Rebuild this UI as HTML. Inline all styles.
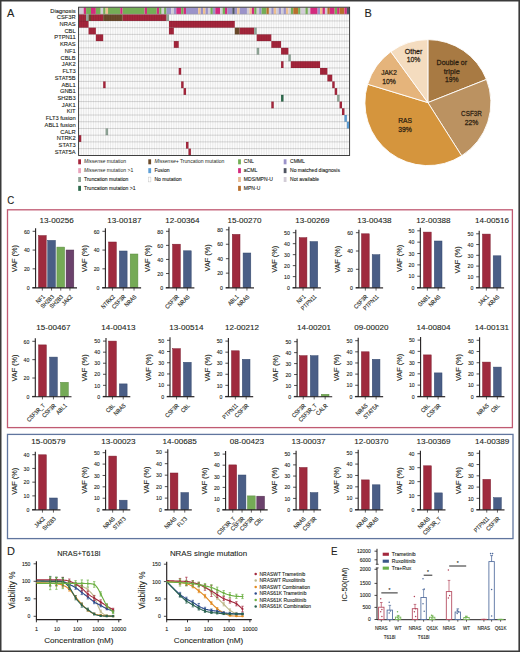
<!DOCTYPE html>
<html><head><meta charset="utf-8"><title>Figure</title>
<style>html,body{margin:0;padding:0;background:#fff;}body{width:520px;height:652px;overflow:hidden;font-family:"Liberation Sans",sans-serif;}svg{display:block;}</style>
</head><body>
<svg width="520" height="652" viewBox="0 0 520 652" font-family='&quot;Liberation Sans&quot;, sans-serif'><rect x="0" y="0" width="520" height="1.5" fill="#3a3a3a"/>
<rect x="0" y="0" width="1.5" height="652" fill="#3a3a3a"/>
<rect x="518.4" y="0" width="1.6" height="652" fill="#3a3a3a"/>
<rect x="0" y="650.5" width="520" height="1.5" fill="#3a3a3a"/>
<text x="7" y="16.8" font-size="11" text-anchor="start" fill="#231f20" stroke="#231f20" stroke-width="0.1">A</text>
<text x="364.6" y="16.9" font-size="11" text-anchor="start" fill="#231f20" stroke="#231f20" stroke-width="0.1">B</text>
<text font-size="11" text-anchor="start" fill="#231f20" transform="translate(7.3 204) scale(0.88 1)" stroke="#231f20" stroke-width="0.11">C</text>
<text font-size="10.8" text-anchor="start" fill="#231f20" transform="translate(7 555) scale(1.02 1)" stroke="#231f20" stroke-width="0.1">D</text>
<text font-size="11.3" text-anchor="start" fill="#231f20" transform="translate(330.9 555.4) scale(0.86 1)" stroke="#231f20" stroke-width="0.12">E</text>
<rect x="78.8" y="7.5" width="270.51" height="147.84" fill="#fbfbfb"/>
<rect x="78.8" y="7.5" width="4.87" height="6.72" fill="#d2ccd6"/>
<rect x="83.67" y="7.5" width="2.44" height="6.72" fill="#d42a7e"/>
<rect x="86.11" y="7.5" width="4.87" height="6.72" fill="#74ae56"/>
<rect x="90.98" y="7.5" width="4.87" height="6.72" fill="#d42a7e"/>
<rect x="95.86" y="7.5" width="4.87" height="6.72" fill="#74ae56"/>
<rect x="100.73" y="7.5" width="2.44" height="6.72" fill="#d2ccd6"/>
<rect x="103.17" y="7.5" width="2.44" height="6.72" fill="#74ae56"/>
<rect x="105.61" y="7.5" width="2.44" height="6.72" fill="#eec08f"/>
<rect x="108.04" y="7.5" width="12.18" height="6.72" fill="#74ae56"/>
<rect x="120.23" y="7.5" width="2.44" height="6.72" fill="#d42a7e"/>
<rect x="122.67" y="7.5" width="21.93" height="6.72" fill="#74ae56"/>
<rect x="144.6" y="7.5" width="2.44" height="6.72" fill="#d42a7e"/>
<rect x="147.04" y="7.5" width="9.75" height="6.72" fill="#74ae56"/>
<rect x="156.78" y="7.5" width="2.44" height="6.72" fill="#d42a7e"/>
<rect x="159.22" y="7.5" width="2.44" height="6.72" fill="#74ae56"/>
<rect x="161.66" y="7.5" width="2.44" height="6.72" fill="#d2ccd6"/>
<rect x="164.09" y="7.5" width="2.44" height="6.72" fill="#74ae56"/>
<rect x="166.53" y="7.5" width="4.87" height="6.72" fill="#9b93c9"/>
<rect x="171.41" y="7.5" width="2.44" height="6.72" fill="#d2ccd6"/>
<rect x="173.84" y="7.5" width="2.44" height="6.72" fill="#9b93c9"/>
<rect x="176.28" y="7.5" width="4.87" height="6.72" fill="#d42a7e"/>
<rect x="181.15" y="7.5" width="2.44" height="6.72" fill="#74ae56"/>
<rect x="183.59" y="7.5" width="2.44" height="6.72" fill="#d42a7e"/>
<rect x="186.03" y="7.5" width="12.18" height="6.72" fill="#9b93c9"/>
<rect x="198.21" y="7.5" width="2.44" height="6.72" fill="#eec08f"/>
<rect x="200.65" y="7.5" width="2.44" height="6.72" fill="#9b93c9"/>
<rect x="203.09" y="7.5" width="2.44" height="6.72" fill="#eec08f"/>
<rect x="205.52" y="7.5" width="2.44" height="6.72" fill="#9b93c9"/>
<rect x="207.96" y="7.5" width="2.44" height="6.72" fill="#d2ccd6"/>
<rect x="210.4" y="7.5" width="2.44" height="6.72" fill="#74ae56"/>
<rect x="212.83" y="7.5" width="2.44" height="6.72" fill="#9b93c9"/>
<rect x="215.27" y="7.5" width="4.87" height="6.72" fill="#d42a7e"/>
<rect x="220.15" y="7.5" width="2.44" height="6.72" fill="#d2ccd6"/>
<rect x="222.58" y="7.5" width="2.44" height="6.72" fill="#74ae56"/>
<rect x="225.02" y="7.5" width="2.44" height="6.72" fill="#d42a7e"/>
<rect x="227.46" y="7.5" width="4.87" height="6.72" fill="#9b93c9"/>
<rect x="232.33" y="7.5" width="2.44" height="6.72" fill="#4f5461"/>
<rect x="234.77" y="7.5" width="2.44" height="6.72" fill="#9b93c9"/>
<rect x="237.2" y="7.5" width="2.44" height="6.72" fill="#eec08f"/>
<rect x="239.64" y="7.5" width="7.31" height="6.72" fill="#9b93c9"/>
<rect x="246.95" y="7.5" width="2.44" height="6.72" fill="#d2ccd6"/>
<rect x="249.39" y="7.5" width="2.44" height="6.72" fill="#eec08f"/>
<rect x="251.83" y="7.5" width="2.44" height="6.72" fill="#d42a7e"/>
<rect x="254.26" y="7.5" width="2.44" height="6.72" fill="#74ae56"/>
<rect x="256.7" y="7.5" width="2.44" height="6.72" fill="#d2ccd6"/>
<rect x="259.14" y="7.5" width="2.44" height="6.72" fill="#9b93c9"/>
<rect x="261.57" y="7.5" width="4.87" height="6.72" fill="#74ae56"/>
<rect x="266.45" y="7.5" width="2.44" height="6.72" fill="#b96f2c"/>
<rect x="268.89" y="7.5" width="2.44" height="6.72" fill="#d2ccd6"/>
<rect x="271.32" y="7.5" width="2.44" height="6.72" fill="#9b93c9"/>
<rect x="273.76" y="7.5" width="2.44" height="6.72" fill="#eec08f"/>
<rect x="276.2" y="7.5" width="2.44" height="6.72" fill="#d2ccd6"/>
<rect x="278.63" y="7.5" width="2.44" height="6.72" fill="#9b93c9"/>
<rect x="281.07" y="7.5" width="2.44" height="6.72" fill="#d2ccd6"/>
<rect x="283.51" y="7.5" width="2.44" height="6.72" fill="#9b93c9"/>
<rect x="285.94" y="7.5" width="2.44" height="6.72" fill="#eec08f"/>
<rect x="288.38" y="7.5" width="2.44" height="6.72" fill="#d2ccd6"/>
<rect x="290.82" y="7.5" width="2.44" height="6.72" fill="#74ae56"/>
<rect x="293.26" y="7.5" width="4.87" height="6.72" fill="#b96f2c"/>
<rect x="298.13" y="7.5" width="2.44" height="6.72" fill="#74ae56"/>
<rect x="300.57" y="7.5" width="4.87" height="6.72" fill="#d2ccd6"/>
<rect x="305.44" y="7.5" width="2.44" height="6.72" fill="#74ae56"/>
<rect x="307.88" y="7.5" width="2.44" height="6.72" fill="#d2ccd6"/>
<rect x="310.31" y="7.5" width="7.31" height="6.72" fill="#d42a7e"/>
<rect x="317.63" y="7.5" width="2.44" height="6.72" fill="#9b93c9"/>
<rect x="320.06" y="7.5" width="2.44" height="6.72" fill="#eec08f"/>
<rect x="322.5" y="7.5" width="2.44" height="6.72" fill="#d42a7e"/>
<rect x="324.94" y="7.5" width="2.44" height="6.72" fill="#d2ccd6"/>
<rect x="327.37" y="7.5" width="2.44" height="6.72" fill="#b96f2c"/>
<rect x="329.81" y="7.5" width="4.87" height="6.72" fill="#d42a7e"/>
<rect x="334.69" y="7.5" width="2.44" height="6.72" fill="#74ae56"/>
<rect x="337.12" y="7.5" width="2.44" height="6.72" fill="#d42a7e"/>
<rect x="339.56" y="7.5" width="4.87" height="6.72" fill="#b96f2c"/>
<rect x="344.43" y="7.5" width="2.44" height="6.72" fill="#d42a7e"/>
<rect x="346.87" y="7.5" width="2.44" height="6.72" fill="#4f5461"/>
<rect x="78.8" y="14.22" width="7.31" height="6.72" fill="#a5263c"/>
<rect x="86.11" y="14.22" width="2.44" height="6.72" fill="#8fa597"/>
<rect x="88.55" y="14.22" width="2.44" height="6.72" fill="#6b4a2b"/>
<rect x="90.98" y="14.22" width="12.18" height="6.72" fill="#a5263c"/>
<rect x="103.17" y="14.22" width="19.5" height="6.72" fill="#6b4a2b"/>
<rect x="122.67" y="14.22" width="43.87" height="6.72" fill="#a5263c"/>
<rect x="166.53" y="14.22" width="2.44" height="6.72" fill="#8fa597"/>
<rect x="78.8" y="20.94" width="9.75" height="6.72" fill="#a5263c"/>
<rect x="168.97" y="20.94" width="65.8" height="6.72" fill="#a5263c"/>
<rect x="88.55" y="27.66" width="7.31" height="6.72" fill="#a5263c"/>
<rect x="168.97" y="27.66" width="4.87" height="6.72" fill="#a5263c"/>
<rect x="234.77" y="27.66" width="4.87" height="6.72" fill="#6b4a2b"/>
<rect x="239.64" y="27.66" width="14.62" height="6.72" fill="#a5263c"/>
<rect x="254.26" y="27.66" width="2.44" height="6.72" fill="#8fa597"/>
<rect x="95.86" y="34.38" width="7.31" height="6.72" fill="#a5263c"/>
<rect x="256.7" y="34.38" width="14.62" height="6.72" fill="#a5263c"/>
<rect x="173.84" y="41.1" width="4.87" height="6.72" fill="#a5263c"/>
<rect x="271.32" y="41.1" width="9.75" height="6.72" fill="#a5263c"/>
<rect x="256.7" y="47.82" width="2.44" height="6.72" fill="#8fa597"/>
<rect x="281.07" y="47.82" width="7.31" height="6.72" fill="#a5263c"/>
<rect x="288.38" y="54.54" width="2.44" height="6.72" fill="#8fa597"/>
<rect x="281.07" y="61.26" width="2.44" height="6.72" fill="#a5263c"/>
<rect x="290.82" y="61.26" width="29.24" height="6.72" fill="#a5263c"/>
<rect x="178.72" y="67.98" width="2.44" height="6.72" fill="#a5263c"/>
<rect x="320.06" y="67.98" width="7.31" height="6.72" fill="#a5263c"/>
<rect x="327.37" y="74.7" width="4.87" height="6.72" fill="#a5263c"/>
<rect x="103.17" y="81.42" width="2.44" height="6.72" fill="#a5263c"/>
<rect x="181.15" y="81.42" width="2.44" height="6.72" fill="#a5263c"/>
<rect x="332.25" y="81.42" width="2.44" height="6.72" fill="#a5263c"/>
<rect x="183.59" y="88.14" width="2.44" height="6.72" fill="#a5263c"/>
<rect x="334.69" y="88.14" width="2.44" height="6.72" fill="#a5263c"/>
<rect x="281.07" y="94.86" width="2.44" height="6.72" fill="#2d6a4c"/>
<rect x="337.12" y="94.86" width="2.44" height="6.72" fill="#8fa597"/>
<rect x="271.32" y="101.58" width="2.44" height="6.72" fill="#a5263c"/>
<rect x="339.56" y="101.58" width="2.44" height="6.72" fill="#a5263c"/>
<rect x="342" y="108.3" width="2.44" height="6.72" fill="#a5263c"/>
<rect x="344.43" y="115.02" width="2.44" height="6.72" fill="#5e9fd6"/>
<rect x="346.87" y="121.74" width="2.44" height="6.72" fill="#5e9fd6"/>
<rect x="105.61" y="128.46" width="2.44" height="6.72" fill="#8fa597"/>
<rect x="78.8" y="135.18" width="2.44" height="6.72" fill="#a5263c"/>
<rect x="186.03" y="141.9" width="2.44" height="6.72" fill="#a5263c"/>
<rect x="188.46" y="148.62" width="2.44" height="6.72" fill="#a5263c"/>
<line x1="81.24" y1="14.22" x2="81.24" y2="155.34" stroke="rgba(0,0,0,0.13)" stroke-width="0.6"/>
<line x1="83.67" y1="14.22" x2="83.67" y2="155.34" stroke="rgba(0,0,0,0.13)" stroke-width="0.6"/>
<line x1="86.11" y1="14.22" x2="86.11" y2="155.34" stroke="rgba(0,0,0,0.13)" stroke-width="0.6"/>
<line x1="88.55" y1="14.22" x2="88.55" y2="155.34" stroke="rgba(0,0,0,0.13)" stroke-width="0.6"/>
<line x1="90.98" y1="14.22" x2="90.98" y2="155.34" stroke="rgba(0,0,0,0.13)" stroke-width="0.6"/>
<line x1="93.42" y1="14.22" x2="93.42" y2="155.34" stroke="rgba(0,0,0,0.13)" stroke-width="0.6"/>
<line x1="95.86" y1="14.22" x2="95.86" y2="155.34" stroke="rgba(0,0,0,0.13)" stroke-width="0.6"/>
<line x1="98.3" y1="14.22" x2="98.3" y2="155.34" stroke="rgba(0,0,0,0.13)" stroke-width="0.6"/>
<line x1="100.73" y1="14.22" x2="100.73" y2="155.34" stroke="rgba(0,0,0,0.13)" stroke-width="0.6"/>
<line x1="103.17" y1="14.22" x2="103.17" y2="155.34" stroke="rgba(0,0,0,0.13)" stroke-width="0.6"/>
<line x1="105.61" y1="14.22" x2="105.61" y2="155.34" stroke="rgba(0,0,0,0.13)" stroke-width="0.6"/>
<line x1="108.04" y1="14.22" x2="108.04" y2="155.34" stroke="rgba(0,0,0,0.13)" stroke-width="0.6"/>
<line x1="110.48" y1="14.22" x2="110.48" y2="155.34" stroke="rgba(0,0,0,0.13)" stroke-width="0.6"/>
<line x1="112.92" y1="14.22" x2="112.92" y2="155.34" stroke="rgba(0,0,0,0.13)" stroke-width="0.6"/>
<line x1="115.35" y1="14.22" x2="115.35" y2="155.34" stroke="rgba(0,0,0,0.13)" stroke-width="0.6"/>
<line x1="117.79" y1="14.22" x2="117.79" y2="155.34" stroke="rgba(0,0,0,0.13)" stroke-width="0.6"/>
<line x1="120.23" y1="14.22" x2="120.23" y2="155.34" stroke="rgba(0,0,0,0.13)" stroke-width="0.6"/>
<line x1="122.67" y1="14.22" x2="122.67" y2="155.34" stroke="rgba(0,0,0,0.13)" stroke-width="0.6"/>
<line x1="125.1" y1="14.22" x2="125.1" y2="155.34" stroke="rgba(0,0,0,0.13)" stroke-width="0.6"/>
<line x1="127.54" y1="14.22" x2="127.54" y2="155.34" stroke="rgba(0,0,0,0.13)" stroke-width="0.6"/>
<line x1="129.98" y1="14.22" x2="129.98" y2="155.34" stroke="rgba(0,0,0,0.13)" stroke-width="0.6"/>
<line x1="132.41" y1="14.22" x2="132.41" y2="155.34" stroke="rgba(0,0,0,0.13)" stroke-width="0.6"/>
<line x1="134.85" y1="14.22" x2="134.85" y2="155.34" stroke="rgba(0,0,0,0.13)" stroke-width="0.6"/>
<line x1="137.29" y1="14.22" x2="137.29" y2="155.34" stroke="rgba(0,0,0,0.13)" stroke-width="0.6"/>
<line x1="139.72" y1="14.22" x2="139.72" y2="155.34" stroke="rgba(0,0,0,0.13)" stroke-width="0.6"/>
<line x1="142.16" y1="14.22" x2="142.16" y2="155.34" stroke="rgba(0,0,0,0.13)" stroke-width="0.6"/>
<line x1="144.6" y1="14.22" x2="144.6" y2="155.34" stroke="rgba(0,0,0,0.13)" stroke-width="0.6"/>
<line x1="147.04" y1="14.22" x2="147.04" y2="155.34" stroke="rgba(0,0,0,0.13)" stroke-width="0.6"/>
<line x1="149.47" y1="14.22" x2="149.47" y2="155.34" stroke="rgba(0,0,0,0.13)" stroke-width="0.6"/>
<line x1="151.91" y1="14.22" x2="151.91" y2="155.34" stroke="rgba(0,0,0,0.13)" stroke-width="0.6"/>
<line x1="154.35" y1="14.22" x2="154.35" y2="155.34" stroke="rgba(0,0,0,0.13)" stroke-width="0.6"/>
<line x1="156.78" y1="14.22" x2="156.78" y2="155.34" stroke="rgba(0,0,0,0.13)" stroke-width="0.6"/>
<line x1="159.22" y1="14.22" x2="159.22" y2="155.34" stroke="rgba(0,0,0,0.13)" stroke-width="0.6"/>
<line x1="161.66" y1="14.22" x2="161.66" y2="155.34" stroke="rgba(0,0,0,0.13)" stroke-width="0.6"/>
<line x1="164.09" y1="14.22" x2="164.09" y2="155.34" stroke="rgba(0,0,0,0.13)" stroke-width="0.6"/>
<line x1="166.53" y1="14.22" x2="166.53" y2="155.34" stroke="rgba(0,0,0,0.13)" stroke-width="0.6"/>
<line x1="168.97" y1="14.22" x2="168.97" y2="155.34" stroke="rgba(0,0,0,0.13)" stroke-width="0.6"/>
<line x1="171.41" y1="14.22" x2="171.41" y2="155.34" stroke="rgba(0,0,0,0.13)" stroke-width="0.6"/>
<line x1="173.84" y1="14.22" x2="173.84" y2="155.34" stroke="rgba(0,0,0,0.13)" stroke-width="0.6"/>
<line x1="176.28" y1="14.22" x2="176.28" y2="155.34" stroke="rgba(0,0,0,0.13)" stroke-width="0.6"/>
<line x1="178.72" y1="14.22" x2="178.72" y2="155.34" stroke="rgba(0,0,0,0.13)" stroke-width="0.6"/>
<line x1="181.15" y1="14.22" x2="181.15" y2="155.34" stroke="rgba(0,0,0,0.13)" stroke-width="0.6"/>
<line x1="183.59" y1="14.22" x2="183.59" y2="155.34" stroke="rgba(0,0,0,0.13)" stroke-width="0.6"/>
<line x1="186.03" y1="14.22" x2="186.03" y2="155.34" stroke="rgba(0,0,0,0.13)" stroke-width="0.6"/>
<line x1="188.46" y1="14.22" x2="188.46" y2="155.34" stroke="rgba(0,0,0,0.13)" stroke-width="0.6"/>
<line x1="190.9" y1="14.22" x2="190.9" y2="155.34" stroke="rgba(0,0,0,0.13)" stroke-width="0.6"/>
<line x1="193.34" y1="14.22" x2="193.34" y2="155.34" stroke="rgba(0,0,0,0.13)" stroke-width="0.6"/>
<line x1="195.78" y1="14.22" x2="195.78" y2="155.34" stroke="rgba(0,0,0,0.13)" stroke-width="0.6"/>
<line x1="198.21" y1="14.22" x2="198.21" y2="155.34" stroke="rgba(0,0,0,0.13)" stroke-width="0.6"/>
<line x1="200.65" y1="14.22" x2="200.65" y2="155.34" stroke="rgba(0,0,0,0.13)" stroke-width="0.6"/>
<line x1="203.09" y1="14.22" x2="203.09" y2="155.34" stroke="rgba(0,0,0,0.13)" stroke-width="0.6"/>
<line x1="205.52" y1="14.22" x2="205.52" y2="155.34" stroke="rgba(0,0,0,0.13)" stroke-width="0.6"/>
<line x1="207.96" y1="14.22" x2="207.96" y2="155.34" stroke="rgba(0,0,0,0.13)" stroke-width="0.6"/>
<line x1="210.4" y1="14.22" x2="210.4" y2="155.34" stroke="rgba(0,0,0,0.13)" stroke-width="0.6"/>
<line x1="212.83" y1="14.22" x2="212.83" y2="155.34" stroke="rgba(0,0,0,0.13)" stroke-width="0.6"/>
<line x1="215.27" y1="14.22" x2="215.27" y2="155.34" stroke="rgba(0,0,0,0.13)" stroke-width="0.6"/>
<line x1="217.71" y1="14.22" x2="217.71" y2="155.34" stroke="rgba(0,0,0,0.13)" stroke-width="0.6"/>
<line x1="220.15" y1="14.22" x2="220.15" y2="155.34" stroke="rgba(0,0,0,0.13)" stroke-width="0.6"/>
<line x1="222.58" y1="14.22" x2="222.58" y2="155.34" stroke="rgba(0,0,0,0.13)" stroke-width="0.6"/>
<line x1="225.02" y1="14.22" x2="225.02" y2="155.34" stroke="rgba(0,0,0,0.13)" stroke-width="0.6"/>
<line x1="227.46" y1="14.22" x2="227.46" y2="155.34" stroke="rgba(0,0,0,0.13)" stroke-width="0.6"/>
<line x1="229.89" y1="14.22" x2="229.89" y2="155.34" stroke="rgba(0,0,0,0.13)" stroke-width="0.6"/>
<line x1="232.33" y1="14.22" x2="232.33" y2="155.34" stroke="rgba(0,0,0,0.13)" stroke-width="0.6"/>
<line x1="234.77" y1="14.22" x2="234.77" y2="155.34" stroke="rgba(0,0,0,0.13)" stroke-width="0.6"/>
<line x1="237.2" y1="14.22" x2="237.2" y2="155.34" stroke="rgba(0,0,0,0.13)" stroke-width="0.6"/>
<line x1="239.64" y1="14.22" x2="239.64" y2="155.34" stroke="rgba(0,0,0,0.13)" stroke-width="0.6"/>
<line x1="242.08" y1="14.22" x2="242.08" y2="155.34" stroke="rgba(0,0,0,0.13)" stroke-width="0.6"/>
<line x1="244.52" y1="14.22" x2="244.52" y2="155.34" stroke="rgba(0,0,0,0.13)" stroke-width="0.6"/>
<line x1="246.95" y1="14.22" x2="246.95" y2="155.34" stroke="rgba(0,0,0,0.13)" stroke-width="0.6"/>
<line x1="249.39" y1="14.22" x2="249.39" y2="155.34" stroke="rgba(0,0,0,0.13)" stroke-width="0.6"/>
<line x1="251.83" y1="14.22" x2="251.83" y2="155.34" stroke="rgba(0,0,0,0.13)" stroke-width="0.6"/>
<line x1="254.26" y1="14.22" x2="254.26" y2="155.34" stroke="rgba(0,0,0,0.13)" stroke-width="0.6"/>
<line x1="256.7" y1="14.22" x2="256.7" y2="155.34" stroke="rgba(0,0,0,0.13)" stroke-width="0.6"/>
<line x1="259.14" y1="14.22" x2="259.14" y2="155.34" stroke="rgba(0,0,0,0.13)" stroke-width="0.6"/>
<line x1="261.57" y1="14.22" x2="261.57" y2="155.34" stroke="rgba(0,0,0,0.13)" stroke-width="0.6"/>
<line x1="264.01" y1="14.22" x2="264.01" y2="155.34" stroke="rgba(0,0,0,0.13)" stroke-width="0.6"/>
<line x1="266.45" y1="14.22" x2="266.45" y2="155.34" stroke="rgba(0,0,0,0.13)" stroke-width="0.6"/>
<line x1="268.89" y1="14.22" x2="268.89" y2="155.34" stroke="rgba(0,0,0,0.13)" stroke-width="0.6"/>
<line x1="271.32" y1="14.22" x2="271.32" y2="155.34" stroke="rgba(0,0,0,0.13)" stroke-width="0.6"/>
<line x1="273.76" y1="14.22" x2="273.76" y2="155.34" stroke="rgba(0,0,0,0.13)" stroke-width="0.6"/>
<line x1="276.2" y1="14.22" x2="276.2" y2="155.34" stroke="rgba(0,0,0,0.13)" stroke-width="0.6"/>
<line x1="278.63" y1="14.22" x2="278.63" y2="155.34" stroke="rgba(0,0,0,0.13)" stroke-width="0.6"/>
<line x1="281.07" y1="14.22" x2="281.07" y2="155.34" stroke="rgba(0,0,0,0.13)" stroke-width="0.6"/>
<line x1="283.51" y1="14.22" x2="283.51" y2="155.34" stroke="rgba(0,0,0,0.13)" stroke-width="0.6"/>
<line x1="285.94" y1="14.22" x2="285.94" y2="155.34" stroke="rgba(0,0,0,0.13)" stroke-width="0.6"/>
<line x1="288.38" y1="14.22" x2="288.38" y2="155.34" stroke="rgba(0,0,0,0.13)" stroke-width="0.6"/>
<line x1="290.82" y1="14.22" x2="290.82" y2="155.34" stroke="rgba(0,0,0,0.13)" stroke-width="0.6"/>
<line x1="293.26" y1="14.22" x2="293.26" y2="155.34" stroke="rgba(0,0,0,0.13)" stroke-width="0.6"/>
<line x1="295.69" y1="14.22" x2="295.69" y2="155.34" stroke="rgba(0,0,0,0.13)" stroke-width="0.6"/>
<line x1="298.13" y1="14.22" x2="298.13" y2="155.34" stroke="rgba(0,0,0,0.13)" stroke-width="0.6"/>
<line x1="300.57" y1="14.22" x2="300.57" y2="155.34" stroke="rgba(0,0,0,0.13)" stroke-width="0.6"/>
<line x1="303" y1="14.22" x2="303" y2="155.34" stroke="rgba(0,0,0,0.13)" stroke-width="0.6"/>
<line x1="305.44" y1="14.22" x2="305.44" y2="155.34" stroke="rgba(0,0,0,0.13)" stroke-width="0.6"/>
<line x1="307.88" y1="14.22" x2="307.88" y2="155.34" stroke="rgba(0,0,0,0.13)" stroke-width="0.6"/>
<line x1="310.31" y1="14.22" x2="310.31" y2="155.34" stroke="rgba(0,0,0,0.13)" stroke-width="0.6"/>
<line x1="312.75" y1="14.22" x2="312.75" y2="155.34" stroke="rgba(0,0,0,0.13)" stroke-width="0.6"/>
<line x1="315.19" y1="14.22" x2="315.19" y2="155.34" stroke="rgba(0,0,0,0.13)" stroke-width="0.6"/>
<line x1="317.63" y1="14.22" x2="317.63" y2="155.34" stroke="rgba(0,0,0,0.13)" stroke-width="0.6"/>
<line x1="320.06" y1="14.22" x2="320.06" y2="155.34" stroke="rgba(0,0,0,0.13)" stroke-width="0.6"/>
<line x1="322.5" y1="14.22" x2="322.5" y2="155.34" stroke="rgba(0,0,0,0.13)" stroke-width="0.6"/>
<line x1="324.94" y1="14.22" x2="324.94" y2="155.34" stroke="rgba(0,0,0,0.13)" stroke-width="0.6"/>
<line x1="327.37" y1="14.22" x2="327.37" y2="155.34" stroke="rgba(0,0,0,0.13)" stroke-width="0.6"/>
<line x1="329.81" y1="14.22" x2="329.81" y2="155.34" stroke="rgba(0,0,0,0.13)" stroke-width="0.6"/>
<line x1="332.25" y1="14.22" x2="332.25" y2="155.34" stroke="rgba(0,0,0,0.13)" stroke-width="0.6"/>
<line x1="334.69" y1="14.22" x2="334.69" y2="155.34" stroke="rgba(0,0,0,0.13)" stroke-width="0.6"/>
<line x1="337.12" y1="14.22" x2="337.12" y2="155.34" stroke="rgba(0,0,0,0.13)" stroke-width="0.6"/>
<line x1="339.56" y1="14.22" x2="339.56" y2="155.34" stroke="rgba(0,0,0,0.13)" stroke-width="0.6"/>
<line x1="342" y1="14.22" x2="342" y2="155.34" stroke="rgba(0,0,0,0.13)" stroke-width="0.6"/>
<line x1="344.43" y1="14.22" x2="344.43" y2="155.34" stroke="rgba(0,0,0,0.13)" stroke-width="0.6"/>
<line x1="346.87" y1="14.22" x2="346.87" y2="155.34" stroke="rgba(0,0,0,0.13)" stroke-width="0.6"/>
<line x1="78.8" y1="20.94" x2="349.31" y2="20.94" stroke="rgba(0,0,0,0.25)" stroke-width="0.6"/>
<line x1="78.8" y1="27.66" x2="349.31" y2="27.66" stroke="rgba(0,0,0,0.25)" stroke-width="0.6"/>
<line x1="78.8" y1="34.38" x2="349.31" y2="34.38" stroke="rgba(0,0,0,0.25)" stroke-width="0.6"/>
<line x1="78.8" y1="41.1" x2="349.31" y2="41.1" stroke="rgba(0,0,0,0.25)" stroke-width="0.6"/>
<line x1="78.8" y1="47.82" x2="349.31" y2="47.82" stroke="rgba(0,0,0,0.25)" stroke-width="0.6"/>
<line x1="78.8" y1="54.54" x2="349.31" y2="54.54" stroke="rgba(0,0,0,0.25)" stroke-width="0.6"/>
<line x1="78.8" y1="61.26" x2="349.31" y2="61.26" stroke="rgba(0,0,0,0.25)" stroke-width="0.6"/>
<line x1="78.8" y1="67.98" x2="349.31" y2="67.98" stroke="rgba(0,0,0,0.25)" stroke-width="0.6"/>
<line x1="78.8" y1="74.7" x2="349.31" y2="74.7" stroke="rgba(0,0,0,0.25)" stroke-width="0.6"/>
<line x1="78.8" y1="81.42" x2="349.31" y2="81.42" stroke="rgba(0,0,0,0.25)" stroke-width="0.6"/>
<line x1="78.8" y1="88.14" x2="349.31" y2="88.14" stroke="rgba(0,0,0,0.25)" stroke-width="0.6"/>
<line x1="78.8" y1="94.86" x2="349.31" y2="94.86" stroke="rgba(0,0,0,0.25)" stroke-width="0.6"/>
<line x1="78.8" y1="101.58" x2="349.31" y2="101.58" stroke="rgba(0,0,0,0.25)" stroke-width="0.6"/>
<line x1="78.8" y1="108.3" x2="349.31" y2="108.3" stroke="rgba(0,0,0,0.25)" stroke-width="0.6"/>
<line x1="78.8" y1="115.02" x2="349.31" y2="115.02" stroke="rgba(0,0,0,0.25)" stroke-width="0.6"/>
<line x1="78.8" y1="121.74" x2="349.31" y2="121.74" stroke="rgba(0,0,0,0.25)" stroke-width="0.6"/>
<line x1="78.8" y1="128.46" x2="349.31" y2="128.46" stroke="rgba(0,0,0,0.25)" stroke-width="0.6"/>
<line x1="78.8" y1="135.18" x2="349.31" y2="135.18" stroke="rgba(0,0,0,0.25)" stroke-width="0.6"/>
<line x1="78.8" y1="141.9" x2="349.31" y2="141.9" stroke="rgba(0,0,0,0.25)" stroke-width="0.6"/>
<line x1="78.8" y1="148.62" x2="349.31" y2="148.62" stroke="rgba(0,0,0,0.25)" stroke-width="0.6"/>
<line x1="78.8" y1="14.22" x2="349.31" y2="14.22" stroke="#9a9a9a" stroke-width="0.5"/>
<rect x="78.6" y="7.2" width="271.01" height="148.34" fill="none" stroke="#2b2b2b" stroke-width="0.9"/>
<text font-size="6.2" text-anchor="end" fill="#231f20" transform="translate(75.6 12.61) scale(0.93 1)" stroke="#231f20" stroke-width="0.11">Diagnosis</text>
<text font-size="6.2" text-anchor="end" fill="#231f20" transform="translate(75.6 19.33) scale(0.93 1)" stroke="#231f20" stroke-width="0.11">CSF3R</text>
<text font-size="6.2" text-anchor="end" fill="#231f20" transform="translate(75.6 26.05) scale(0.93 1)" stroke="#231f20" stroke-width="0.11">NRAS</text>
<text font-size="6.2" text-anchor="end" fill="#231f20" transform="translate(75.6 32.77) scale(0.93 1)" stroke="#231f20" stroke-width="0.11">CBL</text>
<text font-size="6.2" text-anchor="end" fill="#231f20" transform="translate(75.6 39.49) scale(0.93 1)" stroke="#231f20" stroke-width="0.11">PTPN11</text>
<text font-size="6.2" text-anchor="end" fill="#231f20" transform="translate(75.6 46.21) scale(0.93 1)" stroke="#231f20" stroke-width="0.11">KRAS</text>
<text font-size="6.2" text-anchor="end" fill="#231f20" transform="translate(75.6 52.93) scale(0.93 1)" stroke="#231f20" stroke-width="0.11">NF1</text>
<text font-size="6.2" text-anchor="end" fill="#231f20" transform="translate(75.6 59.65) scale(0.93 1)" stroke="#231f20" stroke-width="0.11">CBLB</text>
<text font-size="6.2" text-anchor="end" fill="#231f20" transform="translate(75.6 66.37) scale(0.93 1)" stroke="#231f20" stroke-width="0.11">JAK2</text>
<text font-size="6.2" text-anchor="end" fill="#231f20" transform="translate(75.6 73.09) scale(0.93 1)" stroke="#231f20" stroke-width="0.11">FLT3</text>
<text font-size="6.2" text-anchor="end" fill="#231f20" transform="translate(75.6 79.81) scale(0.93 1)" stroke="#231f20" stroke-width="0.11">STAT5B</text>
<text font-size="6.2" text-anchor="end" fill="#231f20" transform="translate(75.6 86.53) scale(0.93 1)" stroke="#231f20" stroke-width="0.11">ABL1</text>
<text font-size="6.2" text-anchor="end" fill="#231f20" transform="translate(75.6 93.25) scale(0.93 1)" stroke="#231f20" stroke-width="0.11">GNB1</text>
<text font-size="6.2" text-anchor="end" fill="#231f20" transform="translate(75.6 99.97) scale(0.93 1)" stroke="#231f20" stroke-width="0.11">SH2B3</text>
<text font-size="6.2" text-anchor="end" fill="#231f20" transform="translate(75.6 106.69) scale(0.93 1)" stroke="#231f20" stroke-width="0.11">JAK1</text>
<text font-size="6.2" text-anchor="end" fill="#231f20" transform="translate(75.6 113.41) scale(0.93 1)" stroke="#231f20" stroke-width="0.11">KIT</text>
<text font-size="6.2" text-anchor="end" fill="#231f20" transform="translate(75.6 120.13) scale(0.93 1)" stroke="#231f20" stroke-width="0.11">FLT3 fusion</text>
<text font-size="6.2" text-anchor="end" fill="#231f20" transform="translate(75.6 126.85) scale(0.93 1)" stroke="#231f20" stroke-width="0.11">ABL1 fusion</text>
<text font-size="6.2" text-anchor="end" fill="#231f20" transform="translate(75.6 133.57) scale(0.93 1)" stroke="#231f20" stroke-width="0.11">CALR</text>
<text font-size="6.2" text-anchor="end" fill="#231f20" transform="translate(75.6 140.29) scale(0.93 1)" stroke="#231f20" stroke-width="0.11">NTRK2</text>
<text font-size="6.2" text-anchor="end" fill="#231f20" transform="translate(75.6 147.01) scale(0.93 1)" stroke="#231f20" stroke-width="0.11">STAT3</text>
<text font-size="6.2" text-anchor="end" fill="#231f20" transform="translate(75.6 153.73) scale(0.93 1)" stroke="#231f20" stroke-width="0.11">STAT5A</text>
<rect x="78.2" y="159.3" width="2.8" height="5" fill="#a5263c"/>
<text x="84" y="163.4" font-size="5.05" fill="#231f20"><tspan font-style="italic">Missense</tspan> mutation</text>
<rect x="78.2" y="168.15" width="2.8" height="5" fill="#eaa5bd"/>
<text x="84" y="172.25" font-size="5.05" fill="#231f20"><tspan font-style="italic">Missense</tspan> mutation &gt;1</text>
<rect x="78.2" y="177" width="2.8" height="5" fill="#8fa597"/>
<text x="84" y="181.1" font-size="5.05" text-anchor="start" fill="#231f20" stroke="#231f20" stroke-width="0.1">Truncation mutation</text>
<rect x="78.2" y="185.85" width="2.8" height="5" fill="#2d6a4c"/>
<text x="84" y="189.95" font-size="5.05" text-anchor="start" fill="#231f20" stroke="#231f20" stroke-width="0.1">Truncation mutation &gt;1</text>
<rect x="148.3" y="159.3" width="2.8" height="5" fill="#6b4a2b"/>
<text x="154.4" y="163.4" font-size="5.05" fill="#231f20"><tspan font-style="italic">Missense+</tspan> Truncation mutation</text>
<rect x="148.3" y="168.15" width="2.8" height="5" fill="#5e9fd6"/>
<text x="154.4" y="172.25" font-size="5.05" text-anchor="start" fill="#231f20" stroke="#231f20" stroke-width="0.1">Fusion</text>
<rect x="148.5" y="177.1" width="2.4" height="4.8" fill="#fff" stroke="#bbb" stroke-width="0.4"/>
<text x="154.4" y="181.1" font-size="5.05" text-anchor="start" fill="#231f20" stroke="#231f20" stroke-width="0.1">No mutation</text>
<rect x="238.1" y="159.3" width="2.8" height="5" fill="#74ae56"/>
<text x="243.8" y="163.4" font-size="5.05" text-anchor="start" fill="#231f20" stroke="#231f20" stroke-width="0.1">CNL</text>
<rect x="238.1" y="168.15" width="2.8" height="5" fill="#d42a7e"/>
<text x="243.8" y="172.25" font-size="5.05" text-anchor="start" fill="#231f20" stroke="#231f20" stroke-width="0.1">aCML</text>
<rect x="238.1" y="177" width="2.8" height="5" fill="#e8bc94"/>
<text x="243.8" y="181.1" font-size="5.05" text-anchor="start" fill="#231f20" stroke="#231f20" stroke-width="0.1">MDS/MPN-U</text>
<rect x="238.1" y="185.85" width="2.8" height="5" fill="#b96f2c"/>
<text x="243.8" y="189.95" font-size="5.05" text-anchor="start" fill="#231f20" stroke="#231f20" stroke-width="0.1">MPN-U</text>
<rect x="283.7" y="159.3" width="2.8" height="5" fill="#9b93c9"/>
<text x="290" y="163.4" font-size="5.05" text-anchor="start" fill="#231f20" stroke="#231f20" stroke-width="0.1">CMML</text>
<rect x="283.7" y="168.15" width="2.8" height="5" fill="#4f5461"/>
<text x="290" y="172.25" font-size="5.05" text-anchor="start" fill="#231f20" stroke="#231f20" stroke-width="0.1">No matched diagnosis</text>
<rect x="283.7" y="177" width="2.8" height="5" fill="#d2ccd6"/>
<text x="290" y="181.1" font-size="5.05" text-anchor="start" fill="#231f20" stroke="#231f20" stroke-width="0.1">Not available</text>
<path d="M427.9 102.6 L427.9 39.6 A63 63 0 0 1 486.48 79.41 Z" fill="#a87a43" stroke="#ffffff" stroke-width="0.9" stroke-linejoin="round"/>
<path d="M427.9 102.6 L486.48 79.41 A63 63 0 0 1 461.66 155.79 Z" fill="#bb9261" stroke="#ffffff" stroke-width="0.9" stroke-linejoin="round"/>
<path d="M427.9 102.6 L461.66 155.79 A63 63 0 0 1 367.63 84.26 Z" fill="#d5953d" stroke="#ffffff" stroke-width="0.9" stroke-linejoin="round"/>
<path d="M427.9 102.6 L367.63 84.26 A63 63 0 0 1 390.87 51.63 Z" fill="#e5b47b" stroke="#ffffff" stroke-width="0.9" stroke-linejoin="round"/>
<path d="M427.9 102.6 L390.87 51.63 A63 63 0 0 1 427.9 39.6 Z" fill="#f4dcbf" stroke="#ffffff" stroke-width="0.9" stroke-linejoin="round"/>
<text font-size="7.4" text-anchor="middle" fill="#2b1d10" transform="translate(451.8 64.8) scale(0.95 1)" stroke="#2b1d10" stroke-width="0.25">Double or</text>
<text x="451.8" y="73.5" font-size="7.4" text-anchor="middle" fill="#2b1d10" stroke="#2b1d10" stroke-width="0.25">triple</text>
<text font-size="7.4" text-anchor="middle" fill="#2b1d10" transform="translate(451.8 82.3) scale(0.92 1)" stroke="#2b1d10" stroke-width="0.25">19%</text>
<text font-size="7.4" text-anchor="middle" fill="#2b1d10" transform="translate(471.5 116.1) scale(0.86 1)" stroke="#2b1d10" stroke-width="0.25">CSF3R</text>
<text font-size="7.4" text-anchor="middle" fill="#2b1d10" transform="translate(471.5 125) scale(0.92 1)" stroke="#2b1d10" stroke-width="0.25">22%</text>
<text font-size="7.4" text-anchor="middle" fill="#2b1d10" transform="translate(405 122.9) scale(0.9 1)" stroke="#2b1d10" stroke-width="0.25">RAS</text>
<text font-size="7.4" text-anchor="middle" fill="#2b1d10" transform="translate(405 131.9) scale(0.92 1)" stroke="#2b1d10" stroke-width="0.25">39%</text>
<text font-size="7.4" text-anchor="middle" fill="#2b1d10" transform="translate(389 74.8) scale(0.88 1)" stroke="#2b1d10" stroke-width="0.25">JAK2</text>
<text font-size="7.4" text-anchor="middle" fill="#2b1d10" transform="translate(389 83.7) scale(0.92 1)" stroke="#2b1d10" stroke-width="0.25">10%</text>
<text font-size="7.4" text-anchor="middle" fill="#2b1d10" transform="translate(413.5 53.5) scale(0.95 1)" stroke="#2b1d10" stroke-width="0.25">Other</text>
<text font-size="7.4" text-anchor="middle" fill="#2b1d10" transform="translate(413.5 62.3) scale(0.92 1)" stroke="#2b1d10" stroke-width="0.25">10%</text>
<rect x="7.5" y="209.8" width="504.9" height="217.8" fill="none" stroke="#c05a72" stroke-width="1.3"/>
<rect x="7.5" y="434.4" width="505.5" height="104.2" fill="none" stroke="#60759e" stroke-width="1.3"/>
<text x="56.6" y="222.8" font-size="8.1" text-anchor="middle" fill="#231f20" stroke="#231f20" stroke-width="0.1">13-00256</text>
<line x1="35.6" y1="228.3" x2="35.6" y2="288.1" stroke="#231f20" stroke-width="1.1"/>
<line x1="32.6" y1="287.6" x2="35.6" y2="287.6" stroke="#231f20" stroke-width="0.8"/>
<text font-size="5.8" text-anchor="end" fill="#231f20" transform="translate(29.7 289.8) scale(0.9 1)" stroke="#231f20" stroke-width="0.11">0</text>
<line x1="32.6" y1="268.83" x2="35.6" y2="268.83" stroke="#231f20" stroke-width="0.8"/>
<text font-size="5.8" text-anchor="end" fill="#231f20" transform="translate(29.7 271.03) scale(0.9 1)" stroke="#231f20" stroke-width="0.11">20</text>
<line x1="32.6" y1="250.07" x2="35.6" y2="250.07" stroke="#231f20" stroke-width="0.8"/>
<text font-size="5.8" text-anchor="end" fill="#231f20" transform="translate(29.7 252.27) scale(0.9 1)" stroke="#231f20" stroke-width="0.11">40</text>
<line x1="32.6" y1="231.3" x2="35.6" y2="231.3" stroke="#231f20" stroke-width="0.8"/>
<text font-size="5.8" text-anchor="end" fill="#231f20" transform="translate(29.7 233.5) scale(0.9 1)" stroke="#231f20" stroke-width="0.11">60</text>
<text font-size="7.3" text-anchor="middle" fill="#231f20" transform="translate(16.8 258.65) rotate(-90)" stroke="#231f20" stroke-width="0.1">VAF (%)</text>
<rect x="38.5" y="235.6" width="7.7" height="52" fill="#9f2a3e" stroke="#7d1a2c" stroke-width="0.5"/>
<line x1="42.35" y1="287.6" x2="42.35" y2="290.6" stroke="#231f20" stroke-width="0.7"/>
<text font-size="6" text-anchor="end" fill="#231f20" transform="translate(45.25 297.2) rotate(-45) scale(0.86 1)" stroke="#231f20" stroke-width="0.12">NF1</text>
<rect x="47.7" y="240.4" width="7.7" height="47.2" fill="#4a5e86" stroke="#33476c" stroke-width="0.5"/>
<line x1="51.55" y1="287.6" x2="51.55" y2="290.6" stroke="#231f20" stroke-width="0.7"/>
<text font-size="6" text-anchor="end" fill="#231f20" transform="translate(54.45 297.2) rotate(-45) scale(0.86 1)" stroke="#231f20" stroke-width="0.12">SH2B3</text>
<rect x="56.9" y="247.1" width="7.7" height="40.5" fill="#75aa56" stroke="#5a8c3e" stroke-width="0.5"/>
<line x1="60.75" y1="287.6" x2="60.75" y2="290.6" stroke="#231f20" stroke-width="0.7"/>
<text font-size="6" text-anchor="end" fill="#231f20" transform="translate(63.65 297.2) rotate(-45) scale(0.86 1)" stroke="#231f20" stroke-width="0.12">SH2B3</text>
<rect x="66.1" y="250" width="7.7" height="37.6" fill="#6b426c" stroke="#52304f" stroke-width="0.5"/>
<line x1="69.95" y1="287.6" x2="69.95" y2="290.6" stroke="#231f20" stroke-width="0.7"/>
<text font-size="6" text-anchor="end" fill="#231f20" transform="translate(72.85 297.2) rotate(-45) scale(0.86 1)" stroke="#231f20" stroke-width="0.12">JAK2</text>
<line x1="32.3" y1="287.9" x2="77" y2="287.9" stroke="#231f20" stroke-width="1.15"/>
<text x="124.3" y="222.8" font-size="8.1" text-anchor="middle" fill="#231f20" stroke="#231f20" stroke-width="0.1">13-00187</text>
<line x1="105.4" y1="228.3" x2="105.4" y2="288.1" stroke="#231f20" stroke-width="1.1"/>
<line x1="102.4" y1="287.6" x2="105.4" y2="287.6" stroke="#231f20" stroke-width="0.8"/>
<text font-size="5.8" text-anchor="end" fill="#231f20" transform="translate(99.5 289.8) scale(0.9 1)" stroke="#231f20" stroke-width="0.11">0</text>
<line x1="102.4" y1="268.83" x2="105.4" y2="268.83" stroke="#231f20" stroke-width="0.8"/>
<text font-size="5.8" text-anchor="end" fill="#231f20" transform="translate(99.5 271.03) scale(0.9 1)" stroke="#231f20" stroke-width="0.11">20</text>
<line x1="102.4" y1="250.07" x2="105.4" y2="250.07" stroke="#231f20" stroke-width="0.8"/>
<text font-size="5.8" text-anchor="end" fill="#231f20" transform="translate(99.5 252.27) scale(0.9 1)" stroke="#231f20" stroke-width="0.11">40</text>
<line x1="102.4" y1="231.3" x2="105.4" y2="231.3" stroke="#231f20" stroke-width="0.8"/>
<text font-size="5.8" text-anchor="end" fill="#231f20" transform="translate(99.5 233.5) scale(0.9 1)" stroke="#231f20" stroke-width="0.11">60</text>
<text font-size="7.3" text-anchor="middle" fill="#231f20" transform="translate(86.6 258.65) rotate(-90)" stroke="#231f20" stroke-width="0.1">VAF (%)</text>
<rect x="108.6" y="242" width="7.7" height="45.6" fill="#9f2a3e" stroke="#7d1a2c" stroke-width="0.5"/>
<line x1="112.45" y1="287.6" x2="112.45" y2="290.6" stroke="#231f20" stroke-width="0.7"/>
<text font-size="6" text-anchor="end" fill="#231f20" transform="translate(115.35 297.2) rotate(-45) scale(0.86 1)" stroke="#231f20" stroke-width="0.12">NTRK2</text>
<rect x="119.4" y="251" width="7.7" height="36.6" fill="#4a5e86" stroke="#33476c" stroke-width="0.5"/>
<line x1="123.25" y1="287.6" x2="123.25" y2="290.6" stroke="#231f20" stroke-width="0.7"/>
<text font-size="6" text-anchor="end" fill="#231f20" transform="translate(126.15 297.2) rotate(-45) scale(0.86 1)" stroke="#231f20" stroke-width="0.12">CSF3R</text>
<rect x="130.2" y="254" width="7.7" height="33.6" fill="#75aa56" stroke="#5a8c3e" stroke-width="0.5"/>
<line x1="134.05" y1="287.6" x2="134.05" y2="290.6" stroke="#231f20" stroke-width="0.7"/>
<text font-size="6" text-anchor="end" fill="#231f20" transform="translate(136.95 297.2) rotate(-45) scale(0.86 1)" stroke="#231f20" stroke-width="0.12">NRAS</text>
<line x1="102.1" y1="287.9" x2="141.1" y2="287.9" stroke="#231f20" stroke-width="1.15"/>
<text x="182.3" y="222.8" font-size="8.1" text-anchor="middle" fill="#231f20" stroke="#231f20" stroke-width="0.1">12-00364</text>
<line x1="169" y1="228.3" x2="169" y2="288.1" stroke="#231f20" stroke-width="1.1"/>
<line x1="166" y1="287.6" x2="169" y2="287.6" stroke="#231f20" stroke-width="0.8"/>
<text font-size="5.8" text-anchor="end" fill="#231f20" transform="translate(163.1 289.8) scale(0.9 1)" stroke="#231f20" stroke-width="0.11">0</text>
<line x1="166" y1="273.53" x2="169" y2="273.53" stroke="#231f20" stroke-width="0.8"/>
<text font-size="5.8" text-anchor="end" fill="#231f20" transform="translate(163.1 275.73) scale(0.9 1)" stroke="#231f20" stroke-width="0.11">20</text>
<line x1="166" y1="259.45" x2="169" y2="259.45" stroke="#231f20" stroke-width="0.8"/>
<text font-size="5.8" text-anchor="end" fill="#231f20" transform="translate(163.1 261.65) scale(0.9 1)" stroke="#231f20" stroke-width="0.11">40</text>
<line x1="166" y1="245.38" x2="169" y2="245.38" stroke="#231f20" stroke-width="0.8"/>
<text font-size="5.8" text-anchor="end" fill="#231f20" transform="translate(163.1 247.57) scale(0.9 1)" stroke="#231f20" stroke-width="0.11">60</text>
<line x1="166" y1="231.3" x2="169" y2="231.3" stroke="#231f20" stroke-width="0.8"/>
<text font-size="5.8" text-anchor="end" fill="#231f20" transform="translate(163.1 233.5) scale(0.9 1)" stroke="#231f20" stroke-width="0.11">80</text>
<text font-size="7.3" text-anchor="middle" fill="#231f20" transform="translate(150.2 258.65) rotate(-90)" stroke="#231f20" stroke-width="0.1">VAF (%)</text>
<rect x="172.6" y="244.2" width="7.7" height="43.4" fill="#9f2a3e" stroke="#7d1a2c" stroke-width="0.5"/>
<line x1="176.45" y1="287.6" x2="176.45" y2="290.6" stroke="#231f20" stroke-width="0.7"/>
<text font-size="6" text-anchor="end" fill="#231f20" transform="translate(179.35 297.2) rotate(-45) scale(0.86 1)" stroke="#231f20" stroke-width="0.12">CSF3R</text>
<rect x="183.5" y="250.8" width="7.7" height="36.8" fill="#4a5e86" stroke="#33476c" stroke-width="0.5"/>
<line x1="187.35" y1="287.6" x2="187.35" y2="290.6" stroke="#231f20" stroke-width="0.7"/>
<text font-size="6" text-anchor="end" fill="#231f20" transform="translate(190.25 297.2) rotate(-45) scale(0.86 1)" stroke="#231f20" stroke-width="0.12">NRAS</text>
<line x1="165.7" y1="287.9" x2="194.4" y2="287.9" stroke="#231f20" stroke-width="1.15"/>
<text x="244.5" y="222.8" font-size="8.1" text-anchor="middle" fill="#231f20" stroke="#231f20" stroke-width="0.1">15-00270</text>
<line x1="228.9" y1="226.8" x2="228.9" y2="288.1" stroke="#231f20" stroke-width="1.1"/>
<line x1="225.9" y1="287.6" x2="228.9" y2="287.6" stroke="#231f20" stroke-width="0.8"/>
<text font-size="5.8" text-anchor="end" fill="#231f20" transform="translate(223 289.8) scale(0.9 1)" stroke="#231f20" stroke-width="0.11">0</text>
<line x1="225.9" y1="273.15" x2="228.9" y2="273.15" stroke="#231f20" stroke-width="0.8"/>
<text font-size="5.8" text-anchor="end" fill="#231f20" transform="translate(223 275.35) scale(0.9 1)" stroke="#231f20" stroke-width="0.11">20</text>
<line x1="225.9" y1="258.7" x2="228.9" y2="258.7" stroke="#231f20" stroke-width="0.8"/>
<text font-size="5.8" text-anchor="end" fill="#231f20" transform="translate(223 260.9) scale(0.9 1)" stroke="#231f20" stroke-width="0.11">40</text>
<line x1="225.9" y1="244.25" x2="228.9" y2="244.25" stroke="#231f20" stroke-width="0.8"/>
<text font-size="5.8" text-anchor="end" fill="#231f20" transform="translate(223 246.45) scale(0.9 1)" stroke="#231f20" stroke-width="0.11">60</text>
<line x1="225.9" y1="229.8" x2="228.9" y2="229.8" stroke="#231f20" stroke-width="0.8"/>
<text font-size="5.8" text-anchor="end" fill="#231f20" transform="translate(223 232) scale(0.9 1)" stroke="#231f20" stroke-width="0.11">80</text>
<text font-size="7.3" text-anchor="middle" fill="#231f20" transform="translate(210.1 257.9) rotate(-90)" stroke="#231f20" stroke-width="0.1">VAF (%)</text>
<rect x="232.3" y="234.4" width="7.7" height="53.2" fill="#9f2a3e" stroke="#7d1a2c" stroke-width="0.5"/>
<line x1="236.15" y1="287.6" x2="236.15" y2="290.6" stroke="#231f20" stroke-width="0.7"/>
<text font-size="6" text-anchor="end" fill="#231f20" transform="translate(239.05 297.2) rotate(-45) scale(0.86 1)" stroke="#231f20" stroke-width="0.12">ABL1</text>
<rect x="243.1" y="253" width="7.7" height="34.6" fill="#4a5e86" stroke="#33476c" stroke-width="0.5"/>
<line x1="246.95" y1="287.6" x2="246.95" y2="290.6" stroke="#231f20" stroke-width="0.7"/>
<text font-size="6" text-anchor="end" fill="#231f20" transform="translate(249.85 297.2) rotate(-45) scale(0.86 1)" stroke="#231f20" stroke-width="0.12">NRAS</text>
<line x1="225.6" y1="287.9" x2="254" y2="287.9" stroke="#231f20" stroke-width="1.15"/>
<text x="312.3" y="222.8" font-size="8.1" text-anchor="middle" fill="#231f20" stroke="#231f20" stroke-width="0.1">13-00269</text>
<line x1="295.8" y1="229.7" x2="295.8" y2="288.1" stroke="#231f20" stroke-width="1.1"/>
<line x1="292.8" y1="287.6" x2="295.8" y2="287.6" stroke="#231f20" stroke-width="0.8"/>
<text font-size="5.8" text-anchor="end" fill="#231f20" transform="translate(289.9 289.8) scale(0.9 1)" stroke="#231f20" stroke-width="0.11">0</text>
<line x1="292.8" y1="276.62" x2="295.8" y2="276.62" stroke="#231f20" stroke-width="0.8"/>
<text font-size="5.8" text-anchor="end" fill="#231f20" transform="translate(289.9 278.82) scale(0.9 1)" stroke="#231f20" stroke-width="0.11">10</text>
<line x1="292.8" y1="265.64" x2="295.8" y2="265.64" stroke="#231f20" stroke-width="0.8"/>
<text font-size="5.8" text-anchor="end" fill="#231f20" transform="translate(289.9 267.84) scale(0.9 1)" stroke="#231f20" stroke-width="0.11">20</text>
<line x1="292.8" y1="254.66" x2="295.8" y2="254.66" stroke="#231f20" stroke-width="0.8"/>
<text font-size="5.8" text-anchor="end" fill="#231f20" transform="translate(289.9 256.86) scale(0.9 1)" stroke="#231f20" stroke-width="0.11">30</text>
<line x1="292.8" y1="243.68" x2="295.8" y2="243.68" stroke="#231f20" stroke-width="0.8"/>
<text font-size="5.8" text-anchor="end" fill="#231f20" transform="translate(289.9 245.88) scale(0.9 1)" stroke="#231f20" stroke-width="0.11">40</text>
<line x1="292.8" y1="232.7" x2="295.8" y2="232.7" stroke="#231f20" stroke-width="0.8"/>
<text font-size="5.8" text-anchor="end" fill="#231f20" transform="translate(289.9 234.9) scale(0.9 1)" stroke="#231f20" stroke-width="0.11">50</text>
<text font-size="7.3" text-anchor="middle" fill="#231f20" transform="translate(277 259.35) rotate(-90)" stroke="#231f20" stroke-width="0.1">VAF (%)</text>
<rect x="299.2" y="237.7" width="7.7" height="49.9" fill="#9f2a3e" stroke="#7d1a2c" stroke-width="0.5"/>
<line x1="303.05" y1="287.6" x2="303.05" y2="290.6" stroke="#231f20" stroke-width="0.7"/>
<text font-size="6" text-anchor="end" fill="#231f20" transform="translate(305.95 297.2) rotate(-45) scale(0.86 1)" stroke="#231f20" stroke-width="0.12">NF1</text>
<rect x="310" y="241.6" width="7.7" height="46" fill="#4a5e86" stroke="#33476c" stroke-width="0.5"/>
<line x1="313.85" y1="287.6" x2="313.85" y2="290.6" stroke="#231f20" stroke-width="0.7"/>
<text font-size="6" text-anchor="end" fill="#231f20" transform="translate(316.75 297.2) rotate(-45) scale(0.86 1)" stroke="#231f20" stroke-width="0.12">PTPN11</text>
<line x1="292.5" y1="287.9" x2="320.9" y2="287.9" stroke="#231f20" stroke-width="1.15"/>
<text x="374.3" y="222.8" font-size="8.1" text-anchor="middle" fill="#231f20" stroke="#231f20" stroke-width="0.1">13-00438</text>
<line x1="358.9" y1="229.7" x2="358.9" y2="288.1" stroke="#231f20" stroke-width="1.1"/>
<line x1="355.9" y1="287.6" x2="358.9" y2="287.6" stroke="#231f20" stroke-width="0.8"/>
<text font-size="5.8" text-anchor="end" fill="#231f20" transform="translate(353 289.8) scale(0.9 1)" stroke="#231f20" stroke-width="0.11">0</text>
<line x1="355.9" y1="269.3" x2="358.9" y2="269.3" stroke="#231f20" stroke-width="0.8"/>
<text font-size="5.8" text-anchor="end" fill="#231f20" transform="translate(353 271.5) scale(0.9 1)" stroke="#231f20" stroke-width="0.11">20</text>
<line x1="355.9" y1="251" x2="358.9" y2="251" stroke="#231f20" stroke-width="0.8"/>
<text font-size="5.8" text-anchor="end" fill="#231f20" transform="translate(353 253.2) scale(0.9 1)" stroke="#231f20" stroke-width="0.11">40</text>
<line x1="355.9" y1="232.7" x2="358.9" y2="232.7" stroke="#231f20" stroke-width="0.8"/>
<text font-size="5.8" text-anchor="end" fill="#231f20" transform="translate(353 234.9) scale(0.9 1)" stroke="#231f20" stroke-width="0.11">60</text>
<text font-size="7.3" text-anchor="middle" fill="#231f20" transform="translate(340.1 259.35) rotate(-90)" stroke="#231f20" stroke-width="0.1">VAF (%)</text>
<rect x="361.5" y="233.8" width="7.7" height="53.8" fill="#9f2a3e" stroke="#7d1a2c" stroke-width="0.5"/>
<line x1="365.35" y1="287.6" x2="365.35" y2="290.6" stroke="#231f20" stroke-width="0.7"/>
<text font-size="6" text-anchor="end" fill="#231f20" transform="translate(368.25 297.2) rotate(-45) scale(0.86 1)" stroke="#231f20" stroke-width="0.12">CSF3R</text>
<rect x="372.2" y="254.7" width="7.7" height="32.9" fill="#4a5e86" stroke="#33476c" stroke-width="0.5"/>
<line x1="376.05" y1="287.6" x2="376.05" y2="290.6" stroke="#231f20" stroke-width="0.7"/>
<text font-size="6" text-anchor="end" fill="#231f20" transform="translate(378.95 297.2) rotate(-45) scale(0.86 1)" stroke="#231f20" stroke-width="0.12">PTPN11</text>
<line x1="355.6" y1="287.9" x2="383.1" y2="287.9" stroke="#231f20" stroke-width="1.15"/>
<text x="433.3" y="222.8" font-size="8.1" text-anchor="middle" fill="#231f20" stroke="#231f20" stroke-width="0.1">12-00388</text>
<line x1="420.3" y1="227.8" x2="420.3" y2="288.1" stroke="#231f20" stroke-width="1.1"/>
<line x1="417.3" y1="287.6" x2="420.3" y2="287.6" stroke="#231f20" stroke-width="0.8"/>
<text font-size="5.8" text-anchor="end" fill="#231f20" transform="translate(414.4 289.8) scale(0.9 1)" stroke="#231f20" stroke-width="0.11">0</text>
<line x1="417.3" y1="276.24" x2="420.3" y2="276.24" stroke="#231f20" stroke-width="0.8"/>
<text font-size="5.8" text-anchor="end" fill="#231f20" transform="translate(414.4 278.44) scale(0.9 1)" stroke="#231f20" stroke-width="0.11">10</text>
<line x1="417.3" y1="264.88" x2="420.3" y2="264.88" stroke="#231f20" stroke-width="0.8"/>
<text font-size="5.8" text-anchor="end" fill="#231f20" transform="translate(414.4 267.08) scale(0.9 1)" stroke="#231f20" stroke-width="0.11">20</text>
<line x1="417.3" y1="253.52" x2="420.3" y2="253.52" stroke="#231f20" stroke-width="0.8"/>
<text font-size="5.8" text-anchor="end" fill="#231f20" transform="translate(414.4 255.72) scale(0.9 1)" stroke="#231f20" stroke-width="0.11">30</text>
<line x1="417.3" y1="242.16" x2="420.3" y2="242.16" stroke="#231f20" stroke-width="0.8"/>
<text font-size="5.8" text-anchor="end" fill="#231f20" transform="translate(414.4 244.36) scale(0.9 1)" stroke="#231f20" stroke-width="0.11">40</text>
<line x1="417.3" y1="230.8" x2="420.3" y2="230.8" stroke="#231f20" stroke-width="0.8"/>
<text font-size="5.8" text-anchor="end" fill="#231f20" transform="translate(414.4 233) scale(0.9 1)" stroke="#231f20" stroke-width="0.11">50</text>
<text font-size="7.3" text-anchor="middle" fill="#231f20" transform="translate(401.5 258.4) rotate(-90)" stroke="#231f20" stroke-width="0.1">VAF (%)</text>
<rect x="423.5" y="232.1" width="7.7" height="55.5" fill="#9f2a3e" stroke="#7d1a2c" stroke-width="0.5"/>
<line x1="427.35" y1="287.6" x2="427.35" y2="290.6" stroke="#231f20" stroke-width="0.7"/>
<text font-size="6" text-anchor="end" fill="#231f20" transform="translate(430.25 297.2) rotate(-45) scale(0.86 1)" stroke="#231f20" stroke-width="0.12">GNB1</text>
<rect x="434.3" y="241" width="7.7" height="46.6" fill="#4a5e86" stroke="#33476c" stroke-width="0.5"/>
<line x1="438.15" y1="287.6" x2="438.15" y2="290.6" stroke="#231f20" stroke-width="0.7"/>
<text font-size="6" text-anchor="end" fill="#231f20" transform="translate(441.05 297.2) rotate(-45) scale(0.86 1)" stroke="#231f20" stroke-width="0.12">NRAS</text>
<line x1="417" y1="287.9" x2="445.2" y2="287.9" stroke="#231f20" stroke-width="1.15"/>
<text x="492" y="222.8" font-size="8.1" text-anchor="middle" fill="#231f20" stroke="#231f20" stroke-width="0.1">14-00516</text>
<line x1="479.2" y1="230.8" x2="479.2" y2="288.1" stroke="#231f20" stroke-width="1.1"/>
<line x1="476.2" y1="287.6" x2="479.2" y2="287.6" stroke="#231f20" stroke-width="0.8"/>
<text font-size="5.8" text-anchor="end" fill="#231f20" transform="translate(473.3 289.8) scale(0.9 1)" stroke="#231f20" stroke-width="0.11">0</text>
<line x1="476.2" y1="276.84" x2="479.2" y2="276.84" stroke="#231f20" stroke-width="0.8"/>
<text font-size="5.8" text-anchor="end" fill="#231f20" transform="translate(473.3 279.04) scale(0.9 1)" stroke="#231f20" stroke-width="0.11">10</text>
<line x1="476.2" y1="266.08" x2="479.2" y2="266.08" stroke="#231f20" stroke-width="0.8"/>
<text font-size="5.8" text-anchor="end" fill="#231f20" transform="translate(473.3 268.28) scale(0.9 1)" stroke="#231f20" stroke-width="0.11">20</text>
<line x1="476.2" y1="255.32" x2="479.2" y2="255.32" stroke="#231f20" stroke-width="0.8"/>
<text font-size="5.8" text-anchor="end" fill="#231f20" transform="translate(473.3 257.52) scale(0.9 1)" stroke="#231f20" stroke-width="0.11">30</text>
<line x1="476.2" y1="244.56" x2="479.2" y2="244.56" stroke="#231f20" stroke-width="0.8"/>
<text font-size="5.8" text-anchor="end" fill="#231f20" transform="translate(473.3 246.76) scale(0.9 1)" stroke="#231f20" stroke-width="0.11">40</text>
<line x1="476.2" y1="233.8" x2="479.2" y2="233.8" stroke="#231f20" stroke-width="0.8"/>
<text font-size="5.8" text-anchor="end" fill="#231f20" transform="translate(473.3 236) scale(0.9 1)" stroke="#231f20" stroke-width="0.11">50</text>
<text font-size="7.3" text-anchor="middle" fill="#231f20" transform="translate(460.4 259.9) rotate(-90)" stroke="#231f20" stroke-width="0.1">VAF (%)</text>
<rect x="482.5" y="234.1" width="7.7" height="53.5" fill="#9f2a3e" stroke="#7d1a2c" stroke-width="0.5"/>
<line x1="486.35" y1="287.6" x2="486.35" y2="290.6" stroke="#231f20" stroke-width="0.7"/>
<text font-size="6" text-anchor="end" fill="#231f20" transform="translate(489.25 297.2) rotate(-45) scale(0.86 1)" stroke="#231f20" stroke-width="0.12">JAK1</text>
<rect x="493.2" y="255.8" width="7.7" height="31.8" fill="#4a5e86" stroke="#33476c" stroke-width="0.5"/>
<line x1="497.05" y1="287.6" x2="497.05" y2="290.6" stroke="#231f20" stroke-width="0.7"/>
<text font-size="6" text-anchor="end" fill="#231f20" transform="translate(499.95 297.2) rotate(-45) scale(0.86 1)" stroke="#231f20" stroke-width="0.12">KRAS</text>
<line x1="475.9" y1="287.9" x2="504.1" y2="287.9" stroke="#231f20" stroke-width="1.15"/>
<text x="53.4" y="330.3" font-size="8.1" text-anchor="middle" fill="#231f20" stroke="#231f20" stroke-width="0.1">15-00467</text>
<line x1="35.3" y1="338.3" x2="35.3" y2="396.9" stroke="#231f20" stroke-width="1.1"/>
<line x1="32.3" y1="396.4" x2="35.3" y2="396.4" stroke="#231f20" stroke-width="0.8"/>
<text font-size="5.8" text-anchor="end" fill="#231f20" transform="translate(29.4 398.6) scale(0.9 1)" stroke="#231f20" stroke-width="0.11">0</text>
<line x1="32.3" y1="378.03" x2="35.3" y2="378.03" stroke="#231f20" stroke-width="0.8"/>
<text font-size="5.8" text-anchor="end" fill="#231f20" transform="translate(29.4 380.23) scale(0.9 1)" stroke="#231f20" stroke-width="0.11">20</text>
<line x1="32.3" y1="359.67" x2="35.3" y2="359.67" stroke="#231f20" stroke-width="0.8"/>
<text font-size="5.8" text-anchor="end" fill="#231f20" transform="translate(29.4 361.87) scale(0.9 1)" stroke="#231f20" stroke-width="0.11">40</text>
<line x1="32.3" y1="341.3" x2="35.3" y2="341.3" stroke="#231f20" stroke-width="0.8"/>
<text font-size="5.8" text-anchor="end" fill="#231f20" transform="translate(29.4 343.5) scale(0.9 1)" stroke="#231f20" stroke-width="0.11">60</text>
<text font-size="7.3" text-anchor="middle" fill="#231f20" transform="translate(16.5 368.05) rotate(-90)" stroke="#231f20" stroke-width="0.1">VAF (%)</text>
<rect x="38.6" y="344.9" width="7.7" height="51.5" fill="#9f2a3e" stroke="#7d1a2c" stroke-width="0.5"/>
<line x1="42.45" y1="396.4" x2="42.45" y2="399.4" stroke="#231f20" stroke-width="0.7"/>
<text font-size="6" text-anchor="end" fill="#231f20" transform="translate(45.35 406) rotate(-45) scale(0.86 1)" stroke="#231f20" stroke-width="0.12">CSF3R_T</text>
<rect x="49.6" y="357.1" width="7.7" height="39.3" fill="#4a5e86" stroke="#33476c" stroke-width="0.5"/>
<line x1="53.45" y1="396.4" x2="53.45" y2="399.4" stroke="#231f20" stroke-width="0.7"/>
<text font-size="6" text-anchor="end" fill="#231f20" transform="translate(56.35 406) rotate(-45) scale(0.86 1)" stroke="#231f20" stroke-width="0.12">CSF3R</text>
<rect x="60.6" y="382.3" width="7.7" height="14.1" fill="#75aa56" stroke="#5a8c3e" stroke-width="0.5"/>
<line x1="64.45" y1="396.4" x2="64.45" y2="399.4" stroke="#231f20" stroke-width="0.7"/>
<text font-size="6" text-anchor="end" fill="#231f20" transform="translate(67.35 406) rotate(-45) scale(0.86 1)" stroke="#231f20" stroke-width="0.12">ABL1</text>
<line x1="32" y1="396.7" x2="71.5" y2="396.7" stroke="#231f20" stroke-width="1.15"/>
<text x="118.3" y="330.3" font-size="8.1" text-anchor="middle" fill="#231f20" stroke="#231f20" stroke-width="0.1">14-00413</text>
<line x1="106" y1="338.1" x2="106" y2="396.9" stroke="#231f20" stroke-width="1.1"/>
<line x1="103" y1="396.4" x2="106" y2="396.4" stroke="#231f20" stroke-width="0.8"/>
<text font-size="5.8" text-anchor="end" fill="#231f20" transform="translate(100.1 398.6) scale(0.9 1)" stroke="#231f20" stroke-width="0.11">0</text>
<line x1="103" y1="385.34" x2="106" y2="385.34" stroke="#231f20" stroke-width="0.8"/>
<text font-size="5.8" text-anchor="end" fill="#231f20" transform="translate(100.1 387.54) scale(0.9 1)" stroke="#231f20" stroke-width="0.11">10</text>
<line x1="103" y1="374.28" x2="106" y2="374.28" stroke="#231f20" stroke-width="0.8"/>
<text font-size="5.8" text-anchor="end" fill="#231f20" transform="translate(100.1 376.48) scale(0.9 1)" stroke="#231f20" stroke-width="0.11">20</text>
<line x1="103" y1="363.22" x2="106" y2="363.22" stroke="#231f20" stroke-width="0.8"/>
<text font-size="5.8" text-anchor="end" fill="#231f20" transform="translate(100.1 365.42) scale(0.9 1)" stroke="#231f20" stroke-width="0.11">30</text>
<line x1="103" y1="352.16" x2="106" y2="352.16" stroke="#231f20" stroke-width="0.8"/>
<text font-size="5.8" text-anchor="end" fill="#231f20" transform="translate(100.1 354.36) scale(0.9 1)" stroke="#231f20" stroke-width="0.11">40</text>
<line x1="103" y1="341.1" x2="106" y2="341.1" stroke="#231f20" stroke-width="0.8"/>
<text font-size="5.8" text-anchor="end" fill="#231f20" transform="translate(100.1 343.3) scale(0.9 1)" stroke="#231f20" stroke-width="0.11">50</text>
<text font-size="7.3" text-anchor="middle" fill="#231f20" transform="translate(87.2 367.95) rotate(-90)" stroke="#231f20" stroke-width="0.1">VAF (%)</text>
<rect x="108.6" y="341.1" width="7.7" height="55.3" fill="#9f2a3e" stroke="#7d1a2c" stroke-width="0.5"/>
<line x1="112.45" y1="396.4" x2="112.45" y2="399.4" stroke="#231f20" stroke-width="0.7"/>
<text font-size="6" text-anchor="end" fill="#231f20" transform="translate(115.35 406) rotate(-45) scale(0.86 1)" stroke="#231f20" stroke-width="0.12">CBL</text>
<rect x="119.4" y="383.9" width="7.7" height="12.5" fill="#4a5e86" stroke="#33476c" stroke-width="0.5"/>
<line x1="123.25" y1="396.4" x2="123.25" y2="399.4" stroke="#231f20" stroke-width="0.7"/>
<text font-size="6" text-anchor="end" fill="#231f20" transform="translate(126.15 406) rotate(-45) scale(0.86 1)" stroke="#231f20" stroke-width="0.12">NRAS</text>
<line x1="102.7" y1="396.7" x2="130.3" y2="396.7" stroke="#231f20" stroke-width="1.15"/>
<text x="186.3" y="330.3" font-size="8.1" text-anchor="middle" fill="#231f20" stroke="#231f20" stroke-width="0.1">13-00514</text>
<line x1="170" y1="337.3" x2="170" y2="396.9" stroke="#231f20" stroke-width="1.1"/>
<line x1="167" y1="396.4" x2="170" y2="396.4" stroke="#231f20" stroke-width="0.8"/>
<text font-size="5.8" text-anchor="end" fill="#231f20" transform="translate(164.1 398.6) scale(0.9 1)" stroke="#231f20" stroke-width="0.11">0</text>
<line x1="167" y1="385.18" x2="170" y2="385.18" stroke="#231f20" stroke-width="0.8"/>
<text font-size="5.8" text-anchor="end" fill="#231f20" transform="translate(164.1 387.38) scale(0.9 1)" stroke="#231f20" stroke-width="0.11">10</text>
<line x1="167" y1="373.96" x2="170" y2="373.96" stroke="#231f20" stroke-width="0.8"/>
<text font-size="5.8" text-anchor="end" fill="#231f20" transform="translate(164.1 376.16) scale(0.9 1)" stroke="#231f20" stroke-width="0.11">20</text>
<line x1="167" y1="362.74" x2="170" y2="362.74" stroke="#231f20" stroke-width="0.8"/>
<text font-size="5.8" text-anchor="end" fill="#231f20" transform="translate(164.1 364.94) scale(0.9 1)" stroke="#231f20" stroke-width="0.11">30</text>
<line x1="167" y1="351.52" x2="170" y2="351.52" stroke="#231f20" stroke-width="0.8"/>
<text font-size="5.8" text-anchor="end" fill="#231f20" transform="translate(164.1 353.72) scale(0.9 1)" stroke="#231f20" stroke-width="0.11">40</text>
<line x1="167" y1="340.3" x2="170" y2="340.3" stroke="#231f20" stroke-width="0.8"/>
<text font-size="5.8" text-anchor="end" fill="#231f20" transform="translate(164.1 342.5) scale(0.9 1)" stroke="#231f20" stroke-width="0.11">50</text>
<text font-size="7.3" text-anchor="middle" fill="#231f20" transform="translate(151.2 367.55) rotate(-90)" stroke="#231f20" stroke-width="0.1">VAF (%)</text>
<rect x="172.7" y="348.7" width="7.7" height="47.7" fill="#9f2a3e" stroke="#7d1a2c" stroke-width="0.5"/>
<line x1="176.55" y1="396.4" x2="176.55" y2="399.4" stroke="#231f20" stroke-width="0.7"/>
<text font-size="6" text-anchor="end" fill="#231f20" transform="translate(179.45 406) rotate(-45) scale(0.86 1)" stroke="#231f20" stroke-width="0.12">CSF3R</text>
<rect x="183.5" y="362.3" width="7.7" height="34.1" fill="#4a5e86" stroke="#33476c" stroke-width="0.5"/>
<line x1="187.35" y1="396.4" x2="187.35" y2="399.4" stroke="#231f20" stroke-width="0.7"/>
<text font-size="6" text-anchor="end" fill="#231f20" transform="translate(190.25 406) rotate(-45) scale(0.86 1)" stroke="#231f20" stroke-width="0.12">CBL</text>
<line x1="166.7" y1="396.7" x2="194.4" y2="396.7" stroke="#231f20" stroke-width="1.15"/>
<text x="242" y="330.3" font-size="8.1" text-anchor="middle" fill="#231f20" stroke="#231f20" stroke-width="0.1">12-00212</text>
<line x1="228.4" y1="338.1" x2="228.4" y2="396.9" stroke="#231f20" stroke-width="1.1"/>
<line x1="225.4" y1="396.4" x2="228.4" y2="396.4" stroke="#231f20" stroke-width="0.8"/>
<text font-size="5.8" text-anchor="end" fill="#231f20" transform="translate(222.5 398.6) scale(0.9 1)" stroke="#231f20" stroke-width="0.11">0</text>
<line x1="225.4" y1="385.34" x2="228.4" y2="385.34" stroke="#231f20" stroke-width="0.8"/>
<text font-size="5.8" text-anchor="end" fill="#231f20" transform="translate(222.5 387.54) scale(0.9 1)" stroke="#231f20" stroke-width="0.11">10</text>
<line x1="225.4" y1="374.28" x2="228.4" y2="374.28" stroke="#231f20" stroke-width="0.8"/>
<text font-size="5.8" text-anchor="end" fill="#231f20" transform="translate(222.5 376.48) scale(0.9 1)" stroke="#231f20" stroke-width="0.11">20</text>
<line x1="225.4" y1="363.22" x2="228.4" y2="363.22" stroke="#231f20" stroke-width="0.8"/>
<text font-size="5.8" text-anchor="end" fill="#231f20" transform="translate(222.5 365.42) scale(0.9 1)" stroke="#231f20" stroke-width="0.11">30</text>
<line x1="225.4" y1="352.16" x2="228.4" y2="352.16" stroke="#231f20" stroke-width="0.8"/>
<text font-size="5.8" text-anchor="end" fill="#231f20" transform="translate(222.5 354.36) scale(0.9 1)" stroke="#231f20" stroke-width="0.11">40</text>
<line x1="225.4" y1="341.1" x2="228.4" y2="341.1" stroke="#231f20" stroke-width="0.8"/>
<text font-size="5.8" text-anchor="end" fill="#231f20" transform="translate(222.5 343.3) scale(0.9 1)" stroke="#231f20" stroke-width="0.11">50</text>
<text font-size="7.3" text-anchor="middle" fill="#231f20" transform="translate(209.6 367.95) rotate(-90)" stroke="#231f20" stroke-width="0.1">VAF (%)</text>
<rect x="231.5" y="350.8" width="7.7" height="45.6" fill="#9f2a3e" stroke="#7d1a2c" stroke-width="0.5"/>
<line x1="235.35" y1="396.4" x2="235.35" y2="399.4" stroke="#231f20" stroke-width="0.7"/>
<text font-size="6" text-anchor="end" fill="#231f20" transform="translate(238.25 406) rotate(-45) scale(0.86 1)" stroke="#231f20" stroke-width="0.12">PTPN11</text>
<rect x="242.3" y="359.3" width="7.7" height="37.1" fill="#4a5e86" stroke="#33476c" stroke-width="0.5"/>
<line x1="246.15" y1="396.4" x2="246.15" y2="399.4" stroke="#231f20" stroke-width="0.7"/>
<text font-size="6" text-anchor="end" fill="#231f20" transform="translate(249.05 406) rotate(-45) scale(0.86 1)" stroke="#231f20" stroke-width="0.12">CSF3R</text>
<line x1="225.1" y1="396.7" x2="253.2" y2="396.7" stroke="#231f20" stroke-width="1.15"/>
<text x="314" y="330.3" font-size="8.1" text-anchor="middle" fill="#231f20" stroke="#231f20" stroke-width="0.1">14-00201</text>
<line x1="297.1" y1="338.7" x2="297.1" y2="396.9" stroke="#231f20" stroke-width="1.1"/>
<line x1="294.1" y1="396.4" x2="297.1" y2="396.4" stroke="#231f20" stroke-width="0.8"/>
<text font-size="5.8" text-anchor="end" fill="#231f20" transform="translate(291.2 398.6) scale(0.9 1)" stroke="#231f20" stroke-width="0.11">0</text>
<line x1="294.1" y1="385.46" x2="297.1" y2="385.46" stroke="#231f20" stroke-width="0.8"/>
<text font-size="5.8" text-anchor="end" fill="#231f20" transform="translate(291.2 387.66) scale(0.9 1)" stroke="#231f20" stroke-width="0.11">10</text>
<line x1="294.1" y1="374.52" x2="297.1" y2="374.52" stroke="#231f20" stroke-width="0.8"/>
<text font-size="5.8" text-anchor="end" fill="#231f20" transform="translate(291.2 376.72) scale(0.9 1)" stroke="#231f20" stroke-width="0.11">20</text>
<line x1="294.1" y1="363.58" x2="297.1" y2="363.58" stroke="#231f20" stroke-width="0.8"/>
<text font-size="5.8" text-anchor="end" fill="#231f20" transform="translate(291.2 365.78) scale(0.9 1)" stroke="#231f20" stroke-width="0.11">30</text>
<line x1="294.1" y1="352.64" x2="297.1" y2="352.64" stroke="#231f20" stroke-width="0.8"/>
<text font-size="5.8" text-anchor="end" fill="#231f20" transform="translate(291.2 354.84) scale(0.9 1)" stroke="#231f20" stroke-width="0.11">40</text>
<line x1="294.1" y1="341.7" x2="297.1" y2="341.7" stroke="#231f20" stroke-width="0.8"/>
<text font-size="5.8" text-anchor="end" fill="#231f20" transform="translate(291.2 343.9) scale(0.9 1)" stroke="#231f20" stroke-width="0.11">50</text>
<text font-size="7.3" text-anchor="middle" fill="#231f20" transform="translate(278.3 368.25) rotate(-90)" stroke="#231f20" stroke-width="0.1">VAF (%)</text>
<rect x="299.4" y="355.7" width="7.7" height="40.7" fill="#9f2a3e" stroke="#7d1a2c" stroke-width="0.5"/>
<line x1="303.25" y1="396.4" x2="303.25" y2="399.4" stroke="#231f20" stroke-width="0.7"/>
<text font-size="6" text-anchor="end" fill="#231f20" transform="translate(306.15 406) rotate(-45) scale(0.86 1)" stroke="#231f20" stroke-width="0.12">CSF3R</text>
<rect x="310.35" y="355.7" width="7.7" height="40.7" fill="#4a5e86" stroke="#33476c" stroke-width="0.5"/>
<line x1="314.2" y1="396.4" x2="314.2" y2="399.4" stroke="#231f20" stroke-width="0.7"/>
<text font-size="6" text-anchor="end" fill="#231f20" transform="translate(317.1 406) rotate(-45) scale(0.86 1)" stroke="#231f20" stroke-width="0.12">CSF3R_T</text>
<rect x="321.3" y="394.3" width="7.7" height="2.1" fill="#75aa56" stroke="#5a8c3e" stroke-width="0.5"/>
<line x1="325.15" y1="396.4" x2="325.15" y2="399.4" stroke="#231f20" stroke-width="0.7"/>
<text font-size="6" text-anchor="end" fill="#231f20" transform="translate(328.05 406) rotate(-45) scale(0.86 1)" stroke="#231f20" stroke-width="0.12">CALR</text>
<line x1="293.8" y1="396.7" x2="332.2" y2="396.7" stroke="#231f20" stroke-width="1.15"/>
<text x="371.3" y="330.3" font-size="8.1" text-anchor="middle" fill="#231f20" stroke="#231f20" stroke-width="0.1">09-00020</text>
<line x1="358.2" y1="337.7" x2="358.2" y2="396.9" stroke="#231f20" stroke-width="1.1"/>
<line x1="355.2" y1="396.4" x2="358.2" y2="396.4" stroke="#231f20" stroke-width="0.8"/>
<text font-size="5.8" text-anchor="end" fill="#231f20" transform="translate(352.3 398.6) scale(0.9 1)" stroke="#231f20" stroke-width="0.11">0</text>
<line x1="355.2" y1="385.26" x2="358.2" y2="385.26" stroke="#231f20" stroke-width="0.8"/>
<text font-size="5.8" text-anchor="end" fill="#231f20" transform="translate(352.3 387.46) scale(0.9 1)" stroke="#231f20" stroke-width="0.11">10</text>
<line x1="355.2" y1="374.12" x2="358.2" y2="374.12" stroke="#231f20" stroke-width="0.8"/>
<text font-size="5.8" text-anchor="end" fill="#231f20" transform="translate(352.3 376.32) scale(0.9 1)" stroke="#231f20" stroke-width="0.11">20</text>
<line x1="355.2" y1="362.98" x2="358.2" y2="362.98" stroke="#231f20" stroke-width="0.8"/>
<text font-size="5.8" text-anchor="end" fill="#231f20" transform="translate(352.3 365.18) scale(0.9 1)" stroke="#231f20" stroke-width="0.11">30</text>
<line x1="355.2" y1="351.84" x2="358.2" y2="351.84" stroke="#231f20" stroke-width="0.8"/>
<text font-size="5.8" text-anchor="end" fill="#231f20" transform="translate(352.3 354.04) scale(0.9 1)" stroke="#231f20" stroke-width="0.11">40</text>
<line x1="355.2" y1="340.7" x2="358.2" y2="340.7" stroke="#231f20" stroke-width="0.8"/>
<text font-size="5.8" text-anchor="end" fill="#231f20" transform="translate(352.3 342.9) scale(0.9 1)" stroke="#231f20" stroke-width="0.11">50</text>
<text font-size="7.3" text-anchor="middle" fill="#231f20" transform="translate(339.4 367.75) rotate(-90)" stroke="#231f20" stroke-width="0.1">VAF (%)</text>
<rect x="361.4" y="351.8" width="7.7" height="44.6" fill="#9f2a3e" stroke="#7d1a2c" stroke-width="0.5"/>
<line x1="365.25" y1="396.4" x2="365.25" y2="399.4" stroke="#231f20" stroke-width="0.7"/>
<text font-size="6" text-anchor="end" fill="#231f20" transform="translate(368.15 406) rotate(-45) scale(0.86 1)" stroke="#231f20" stroke-width="0.12">NRAS</text>
<rect x="372.25" y="359.3" width="7.7" height="37.1" fill="#4a5e86" stroke="#33476c" stroke-width="0.5"/>
<line x1="376.1" y1="396.4" x2="376.1" y2="399.4" stroke="#231f20" stroke-width="0.7"/>
<text font-size="6" text-anchor="end" fill="#231f20" transform="translate(379 406) rotate(-45) scale(0.86 1)" stroke="#231f20" stroke-width="0.12">STAT5A</text>
<line x1="354.9" y1="396.7" x2="383.15" y2="396.7" stroke="#231f20" stroke-width="1.15"/>
<text x="433.5" y="330.3" font-size="8.1" text-anchor="middle" fill="#231f20" stroke="#231f20" stroke-width="0.1">14-00804</text>
<line x1="420.6" y1="337.1" x2="420.6" y2="396.9" stroke="#231f20" stroke-width="1.1"/>
<line x1="417.6" y1="396.4" x2="420.6" y2="396.4" stroke="#231f20" stroke-width="0.8"/>
<text font-size="5.8" text-anchor="end" fill="#231f20" transform="translate(414.7 398.6) scale(0.9 1)" stroke="#231f20" stroke-width="0.11">0</text>
<line x1="417.6" y1="385.14" x2="420.6" y2="385.14" stroke="#231f20" stroke-width="0.8"/>
<text font-size="5.8" text-anchor="end" fill="#231f20" transform="translate(414.7 387.34) scale(0.9 1)" stroke="#231f20" stroke-width="0.11">10</text>
<line x1="417.6" y1="373.88" x2="420.6" y2="373.88" stroke="#231f20" stroke-width="0.8"/>
<text font-size="5.8" text-anchor="end" fill="#231f20" transform="translate(414.7 376.08) scale(0.9 1)" stroke="#231f20" stroke-width="0.11">20</text>
<line x1="417.6" y1="362.62" x2="420.6" y2="362.62" stroke="#231f20" stroke-width="0.8"/>
<text font-size="5.8" text-anchor="end" fill="#231f20" transform="translate(414.7 364.82) scale(0.9 1)" stroke="#231f20" stroke-width="0.11">30</text>
<line x1="417.6" y1="351.36" x2="420.6" y2="351.36" stroke="#231f20" stroke-width="0.8"/>
<text font-size="5.8" text-anchor="end" fill="#231f20" transform="translate(414.7 353.56) scale(0.9 1)" stroke="#231f20" stroke-width="0.11">40</text>
<line x1="417.6" y1="340.1" x2="420.6" y2="340.1" stroke="#231f20" stroke-width="0.8"/>
<text font-size="5.8" text-anchor="end" fill="#231f20" transform="translate(414.7 342.3) scale(0.9 1)" stroke="#231f20" stroke-width="0.11">50</text>
<text font-size="7.3" text-anchor="middle" fill="#231f20" transform="translate(401.8 367.45) rotate(-90)" stroke="#231f20" stroke-width="0.1">VAF (%)</text>
<rect x="423.5" y="354.9" width="7.7" height="41.5" fill="#9f2a3e" stroke="#7d1a2c" stroke-width="0.5"/>
<line x1="427.35" y1="396.4" x2="427.35" y2="399.4" stroke="#231f20" stroke-width="0.7"/>
<text font-size="6" text-anchor="end" fill="#231f20" transform="translate(430.25 406) rotate(-45) scale(0.86 1)" stroke="#231f20" stroke-width="0.12">CBL</text>
<rect x="434.3" y="372.9" width="7.7" height="23.5" fill="#4a5e86" stroke="#33476c" stroke-width="0.5"/>
<line x1="438.15" y1="396.4" x2="438.15" y2="399.4" stroke="#231f20" stroke-width="0.7"/>
<text font-size="6" text-anchor="end" fill="#231f20" transform="translate(441.05 406) rotate(-45) scale(0.86 1)" stroke="#231f20" stroke-width="0.12">CSF3R</text>
<line x1="417.3" y1="396.7" x2="445.2" y2="396.7" stroke="#231f20" stroke-width="1.15"/>
<text x="491.9" y="330.3" font-size="8.1" text-anchor="middle" fill="#231f20" stroke="#231f20" stroke-width="0.1">14-00131</text>
<line x1="479.6" y1="337.3" x2="479.6" y2="396.9" stroke="#231f20" stroke-width="1.1"/>
<line x1="476.6" y1="396.4" x2="479.6" y2="396.4" stroke="#231f20" stroke-width="0.8"/>
<text font-size="5.8" text-anchor="end" fill="#231f20" transform="translate(473.7 398.6) scale(0.9 1)" stroke="#231f20" stroke-width="0.11">0</text>
<line x1="476.6" y1="385.18" x2="479.6" y2="385.18" stroke="#231f20" stroke-width="0.8"/>
<text font-size="5.8" text-anchor="end" fill="#231f20" transform="translate(473.7 387.38) scale(0.9 1)" stroke="#231f20" stroke-width="0.11">10</text>
<line x1="476.6" y1="373.96" x2="479.6" y2="373.96" stroke="#231f20" stroke-width="0.8"/>
<text font-size="5.8" text-anchor="end" fill="#231f20" transform="translate(473.7 376.16) scale(0.9 1)" stroke="#231f20" stroke-width="0.11">20</text>
<line x1="476.6" y1="362.74" x2="479.6" y2="362.74" stroke="#231f20" stroke-width="0.8"/>
<text font-size="5.8" text-anchor="end" fill="#231f20" transform="translate(473.7 364.94) scale(0.9 1)" stroke="#231f20" stroke-width="0.11">30</text>
<line x1="476.6" y1="351.52" x2="479.6" y2="351.52" stroke="#231f20" stroke-width="0.8"/>
<text font-size="5.8" text-anchor="end" fill="#231f20" transform="translate(473.7 353.72) scale(0.9 1)" stroke="#231f20" stroke-width="0.11">40</text>
<line x1="476.6" y1="340.3" x2="479.6" y2="340.3" stroke="#231f20" stroke-width="0.8"/>
<text font-size="5.8" text-anchor="end" fill="#231f20" transform="translate(473.7 342.5) scale(0.9 1)" stroke="#231f20" stroke-width="0.11">50</text>
<text font-size="7.3" text-anchor="middle" fill="#231f20" transform="translate(460.8 367.55) rotate(-90)" stroke="#231f20" stroke-width="0.1">VAF (%)</text>
<rect x="482.6" y="362.1" width="7.7" height="34.3" fill="#9f2a3e" stroke="#7d1a2c" stroke-width="0.5"/>
<line x1="486.45" y1="396.4" x2="486.45" y2="399.4" stroke="#231f20" stroke-width="0.7"/>
<text font-size="6" text-anchor="end" fill="#231f20" transform="translate(489.35 406) rotate(-45) scale(0.86 1)" stroke="#231f20" stroke-width="0.12">NRAS</text>
<rect x="493.5" y="367.1" width="7.7" height="29.3" fill="#4a5e86" stroke="#33476c" stroke-width="0.5"/>
<line x1="497.35" y1="396.4" x2="497.35" y2="399.4" stroke="#231f20" stroke-width="0.7"/>
<text font-size="6" text-anchor="end" fill="#231f20" transform="translate(500.25 406) rotate(-45) scale(0.86 1)" stroke="#231f20" stroke-width="0.12">CBL</text>
<line x1="476.3" y1="396.7" x2="504.4" y2="396.7" stroke="#231f20" stroke-width="1.15"/>
<text x="48.4" y="443.8" font-size="8.1" text-anchor="middle" fill="#231f20" stroke="#231f20" stroke-width="0.1">15-00579</text>
<line x1="35.3" y1="451.7" x2="35.3" y2="510.1" stroke="#231f20" stroke-width="1.1"/>
<line x1="32.3" y1="509.6" x2="35.3" y2="509.6" stroke="#231f20" stroke-width="0.8"/>
<text font-size="5.8" text-anchor="end" fill="#231f20" transform="translate(29.4 511.8) scale(0.9 1)" stroke="#231f20" stroke-width="0.11">0</text>
<line x1="32.3" y1="495.88" x2="35.3" y2="495.88" stroke="#231f20" stroke-width="0.8"/>
<text font-size="5.8" text-anchor="end" fill="#231f20" transform="translate(29.4 498.07) scale(0.9 1)" stroke="#231f20" stroke-width="0.11">10</text>
<line x1="32.3" y1="482.15" x2="35.3" y2="482.15" stroke="#231f20" stroke-width="0.8"/>
<text font-size="5.8" text-anchor="end" fill="#231f20" transform="translate(29.4 484.35) scale(0.9 1)" stroke="#231f20" stroke-width="0.11">20</text>
<line x1="32.3" y1="468.43" x2="35.3" y2="468.43" stroke="#231f20" stroke-width="0.8"/>
<text font-size="5.8" text-anchor="end" fill="#231f20" transform="translate(29.4 470.62) scale(0.9 1)" stroke="#231f20" stroke-width="0.11">30</text>
<line x1="32.3" y1="454.7" x2="35.3" y2="454.7" stroke="#231f20" stroke-width="0.8"/>
<text font-size="5.8" text-anchor="end" fill="#231f20" transform="translate(29.4 456.9) scale(0.9 1)" stroke="#231f20" stroke-width="0.11">40</text>
<text font-size="7.3" text-anchor="middle" fill="#231f20" transform="translate(16.5 481.35) rotate(-90)" stroke="#231f20" stroke-width="0.1">VAF (%)</text>
<rect x="38.6" y="454.8" width="7.7" height="54.8" fill="#9f2a3e" stroke="#7d1a2c" stroke-width="0.5"/>
<line x1="42.45" y1="509.6" x2="42.45" y2="512.6" stroke="#231f20" stroke-width="0.7"/>
<text font-size="6" text-anchor="end" fill="#231f20" transform="translate(45.35 519.2) rotate(-45) scale(0.86 1)" stroke="#231f20" stroke-width="0.12">JAK2</text>
<rect x="49.6" y="498" width="7.7" height="11.6" fill="#4a5e86" stroke="#33476c" stroke-width="0.5"/>
<line x1="53.45" y1="509.6" x2="53.45" y2="512.6" stroke="#231f20" stroke-width="0.7"/>
<text font-size="6" text-anchor="end" fill="#231f20" transform="translate(56.35 519.2) rotate(-45) scale(0.86 1)" stroke="#231f20" stroke-width="0.12">SH2B3</text>
<line x1="32" y1="509.9" x2="60.5" y2="509.9" stroke="#231f20" stroke-width="1.15"/>
<text x="118.3" y="443.8" font-size="8.1" text-anchor="middle" fill="#231f20" stroke="#231f20" stroke-width="0.1">13-00023</text>
<line x1="105.6" y1="449.7" x2="105.6" y2="510.1" stroke="#231f20" stroke-width="1.1"/>
<line x1="102.6" y1="509.6" x2="105.6" y2="509.6" stroke="#231f20" stroke-width="0.8"/>
<text font-size="5.8" text-anchor="end" fill="#231f20" transform="translate(99.7 511.8) scale(0.9 1)" stroke="#231f20" stroke-width="0.11">0</text>
<line x1="102.6" y1="498.22" x2="105.6" y2="498.22" stroke="#231f20" stroke-width="0.8"/>
<text font-size="5.8" text-anchor="end" fill="#231f20" transform="translate(99.7 500.42) scale(0.9 1)" stroke="#231f20" stroke-width="0.11">10</text>
<line x1="102.6" y1="486.84" x2="105.6" y2="486.84" stroke="#231f20" stroke-width="0.8"/>
<text font-size="5.8" text-anchor="end" fill="#231f20" transform="translate(99.7 489.04) scale(0.9 1)" stroke="#231f20" stroke-width="0.11">20</text>
<line x1="102.6" y1="475.46" x2="105.6" y2="475.46" stroke="#231f20" stroke-width="0.8"/>
<text font-size="5.8" text-anchor="end" fill="#231f20" transform="translate(99.7 477.66) scale(0.9 1)" stroke="#231f20" stroke-width="0.11">30</text>
<line x1="102.6" y1="464.08" x2="105.6" y2="464.08" stroke="#231f20" stroke-width="0.8"/>
<text font-size="5.8" text-anchor="end" fill="#231f20" transform="translate(99.7 466.28) scale(0.9 1)" stroke="#231f20" stroke-width="0.11">40</text>
<line x1="102.6" y1="452.7" x2="105.6" y2="452.7" stroke="#231f20" stroke-width="0.8"/>
<text font-size="5.8" text-anchor="end" fill="#231f20" transform="translate(99.7 454.9) scale(0.9 1)" stroke="#231f20" stroke-width="0.11">50</text>
<text font-size="7.3" text-anchor="middle" fill="#231f20" transform="translate(86.8 480.35) rotate(-90)" stroke="#231f20" stroke-width="0.1">VAF (%)</text>
<rect x="108.8" y="456.1" width="7.7" height="53.5" fill="#9f2a3e" stroke="#7d1a2c" stroke-width="0.5"/>
<line x1="112.65" y1="509.6" x2="112.65" y2="512.6" stroke="#231f20" stroke-width="0.7"/>
<text font-size="6" text-anchor="end" fill="#231f20" transform="translate(115.55 519.2) rotate(-45) scale(0.86 1)" stroke="#231f20" stroke-width="0.12">NRAS</text>
<rect x="119.4" y="500.2" width="7.7" height="9.4" fill="#4a5e86" stroke="#33476c" stroke-width="0.5"/>
<line x1="123.25" y1="509.6" x2="123.25" y2="512.6" stroke="#231f20" stroke-width="0.7"/>
<text font-size="6" text-anchor="end" fill="#231f20" transform="translate(126.15 519.2) rotate(-45) scale(0.86 1)" stroke="#231f20" stroke-width="0.12">STAT3</text>
<line x1="102.3" y1="509.9" x2="130.3" y2="509.9" stroke="#231f20" stroke-width="1.15"/>
<text x="179.6" y="443.8" font-size="8.1" text-anchor="middle" fill="#231f20" stroke="#231f20" stroke-width="0.1">14-00685</text>
<line x1="167.8" y1="449.2" x2="167.8" y2="510.1" stroke="#231f20" stroke-width="1.1"/>
<line x1="164.8" y1="509.6" x2="167.8" y2="509.6" stroke="#231f20" stroke-width="0.8"/>
<text font-size="5.8" text-anchor="end" fill="#231f20" transform="translate(161.9 511.8) scale(0.9 1)" stroke="#231f20" stroke-width="0.11">0</text>
<line x1="164.8" y1="498.12" x2="167.8" y2="498.12" stroke="#231f20" stroke-width="0.8"/>
<text font-size="5.8" text-anchor="end" fill="#231f20" transform="translate(161.9 500.32) scale(0.9 1)" stroke="#231f20" stroke-width="0.11">10</text>
<line x1="164.8" y1="486.64" x2="167.8" y2="486.64" stroke="#231f20" stroke-width="0.8"/>
<text font-size="5.8" text-anchor="end" fill="#231f20" transform="translate(161.9 488.84) scale(0.9 1)" stroke="#231f20" stroke-width="0.11">20</text>
<line x1="164.8" y1="475.16" x2="167.8" y2="475.16" stroke="#231f20" stroke-width="0.8"/>
<text font-size="5.8" text-anchor="end" fill="#231f20" transform="translate(161.9 477.36) scale(0.9 1)" stroke="#231f20" stroke-width="0.11">30</text>
<line x1="164.8" y1="463.68" x2="167.8" y2="463.68" stroke="#231f20" stroke-width="0.8"/>
<text font-size="5.8" text-anchor="end" fill="#231f20" transform="translate(161.9 465.88) scale(0.9 1)" stroke="#231f20" stroke-width="0.11">40</text>
<line x1="164.8" y1="452.2" x2="167.8" y2="452.2" stroke="#231f20" stroke-width="0.8"/>
<text font-size="5.8" text-anchor="end" fill="#231f20" transform="translate(161.9 454.4) scale(0.9 1)" stroke="#231f20" stroke-width="0.11">50</text>
<text font-size="7.3" text-anchor="middle" fill="#231f20" transform="translate(149 480.1) rotate(-90)" stroke="#231f20" stroke-width="0.1">VAF (%)</text>
<rect x="170.2" y="473" width="7.7" height="36.6" fill="#9f2a3e" stroke="#7d1a2c" stroke-width="0.5"/>
<line x1="174.05" y1="509.6" x2="174.05" y2="512.6" stroke="#231f20" stroke-width="0.7"/>
<text font-size="6" text-anchor="end" fill="#231f20" transform="translate(176.95 519.2) rotate(-45) scale(0.86 1)" stroke="#231f20" stroke-width="0.12">NRAS</text>
<rect x="180.9" y="492.6" width="7.7" height="17" fill="#4a5e86" stroke="#33476c" stroke-width="0.5"/>
<line x1="184.75" y1="509.6" x2="184.75" y2="512.6" stroke="#231f20" stroke-width="0.7"/>
<text font-size="6" text-anchor="end" fill="#231f20" transform="translate(187.65 519.2) rotate(-45) scale(0.86 1)" stroke="#231f20" stroke-width="0.12">FLT3</text>
<line x1="164.5" y1="509.9" x2="191.8" y2="509.9" stroke="#231f20" stroke-width="1.15"/>
<text x="246.8" y="443.8" font-size="8.1" text-anchor="middle" fill="#231f20" stroke="#231f20" stroke-width="0.1">08-00423</text>
<line x1="225.6" y1="451.1" x2="225.6" y2="510.1" stroke="#231f20" stroke-width="1.1"/>
<line x1="222.6" y1="509.6" x2="225.6" y2="509.6" stroke="#231f20" stroke-width="0.8"/>
<text font-size="5.8" text-anchor="end" fill="#231f20" transform="translate(219.7 511.8) scale(0.9 1)" stroke="#231f20" stroke-width="0.11">0</text>
<line x1="222.6" y1="498.5" x2="225.6" y2="498.5" stroke="#231f20" stroke-width="0.8"/>
<text font-size="5.8" text-anchor="end" fill="#231f20" transform="translate(219.7 500.7) scale(0.9 1)" stroke="#231f20" stroke-width="0.11">10</text>
<line x1="222.6" y1="487.4" x2="225.6" y2="487.4" stroke="#231f20" stroke-width="0.8"/>
<text font-size="5.8" text-anchor="end" fill="#231f20" transform="translate(219.7 489.6) scale(0.9 1)" stroke="#231f20" stroke-width="0.11">20</text>
<line x1="222.6" y1="476.3" x2="225.6" y2="476.3" stroke="#231f20" stroke-width="0.8"/>
<text font-size="5.8" text-anchor="end" fill="#231f20" transform="translate(219.7 478.5) scale(0.9 1)" stroke="#231f20" stroke-width="0.11">30</text>
<line x1="222.6" y1="465.2" x2="225.6" y2="465.2" stroke="#231f20" stroke-width="0.8"/>
<text font-size="5.8" text-anchor="end" fill="#231f20" transform="translate(219.7 467.4) scale(0.9 1)" stroke="#231f20" stroke-width="0.11">40</text>
<line x1="222.6" y1="454.1" x2="225.6" y2="454.1" stroke="#231f20" stroke-width="0.8"/>
<text font-size="5.8" text-anchor="end" fill="#231f20" transform="translate(219.7 456.3) scale(0.9 1)" stroke="#231f20" stroke-width="0.11">50</text>
<text font-size="7.3" text-anchor="middle" fill="#231f20" transform="translate(206.8 481.05) rotate(-90)" stroke="#231f20" stroke-width="0.1">VAF (%)</text>
<rect x="228.9" y="464.9" width="7.7" height="44.7" fill="#9f2a3e" stroke="#7d1a2c" stroke-width="0.5"/>
<line x1="232.75" y1="509.6" x2="232.75" y2="512.6" stroke="#231f20" stroke-width="0.7"/>
<text font-size="6" text-anchor="end" fill="#231f20" transform="translate(235.65 519.2) rotate(-45) scale(0.86 1)" stroke="#231f20" stroke-width="0.12">CSF3R_T</text>
<rect x="238.2" y="475" width="7.7" height="34.6" fill="#4a5e86" stroke="#33476c" stroke-width="0.5"/>
<line x1="242.05" y1="509.6" x2="242.05" y2="512.6" stroke="#231f20" stroke-width="0.7"/>
<text font-size="6" text-anchor="end" fill="#231f20" transform="translate(244.95 519.2) rotate(-45) scale(0.86 1)" stroke="#231f20" stroke-width="0.12">CSF3R</text>
<rect x="247.5" y="495.9" width="7.7" height="13.7" fill="#75aa56" stroke="#5a8c3e" stroke-width="0.5"/>
<line x1="251.35" y1="509.6" x2="251.35" y2="512.6" stroke="#231f20" stroke-width="0.7"/>
<text font-size="6" text-anchor="end" fill="#231f20" transform="translate(254.25 519.2) rotate(-45) scale(0.86 1)" stroke="#231f20" stroke-width="0.12">CSF3R</text>
<rect x="256.8" y="496.2" width="7.7" height="13.4" fill="#6b426c" stroke="#52304f" stroke-width="0.5"/>
<line x1="260.65" y1="509.6" x2="260.65" y2="512.6" stroke="#231f20" stroke-width="0.7"/>
<text font-size="6" text-anchor="end" fill="#231f20" transform="translate(263.55 519.2) rotate(-45) scale(0.86 1)" stroke="#231f20" stroke-width="0.12">CBL</text>
<line x1="222.3" y1="509.9" x2="267.7" y2="509.9" stroke="#231f20" stroke-width="1.15"/>
<text x="308.5" y="443.8" font-size="8.1" text-anchor="middle" fill="#231f20" stroke="#231f20" stroke-width="0.1">13-00037</text>
<line x1="296.1" y1="450.7" x2="296.1" y2="510.1" stroke="#231f20" stroke-width="1.1"/>
<line x1="293.1" y1="509.6" x2="296.1" y2="509.6" stroke="#231f20" stroke-width="0.8"/>
<text font-size="5.8" text-anchor="end" fill="#231f20" transform="translate(290.2 511.8) scale(0.9 1)" stroke="#231f20" stroke-width="0.11">0</text>
<line x1="293.1" y1="498.42" x2="296.1" y2="498.42" stroke="#231f20" stroke-width="0.8"/>
<text font-size="5.8" text-anchor="end" fill="#231f20" transform="translate(290.2 500.62) scale(0.9 1)" stroke="#231f20" stroke-width="0.11">10</text>
<line x1="293.1" y1="487.24" x2="296.1" y2="487.24" stroke="#231f20" stroke-width="0.8"/>
<text font-size="5.8" text-anchor="end" fill="#231f20" transform="translate(290.2 489.44) scale(0.9 1)" stroke="#231f20" stroke-width="0.11">20</text>
<line x1="293.1" y1="476.06" x2="296.1" y2="476.06" stroke="#231f20" stroke-width="0.8"/>
<text font-size="5.8" text-anchor="end" fill="#231f20" transform="translate(290.2 478.26) scale(0.9 1)" stroke="#231f20" stroke-width="0.11">30</text>
<line x1="293.1" y1="464.88" x2="296.1" y2="464.88" stroke="#231f20" stroke-width="0.8"/>
<text font-size="5.8" text-anchor="end" fill="#231f20" transform="translate(290.2 467.08) scale(0.9 1)" stroke="#231f20" stroke-width="0.11">40</text>
<line x1="293.1" y1="453.7" x2="296.1" y2="453.7" stroke="#231f20" stroke-width="0.8"/>
<text font-size="5.8" text-anchor="end" fill="#231f20" transform="translate(290.2 455.9) scale(0.9 1)" stroke="#231f20" stroke-width="0.11">50</text>
<text font-size="7.3" text-anchor="middle" fill="#231f20" transform="translate(277.3 480.85) rotate(-90)" stroke="#231f20" stroke-width="0.1">VAF (%)</text>
<rect x="299.4" y="467.5" width="7.7" height="42.1" fill="#9f2a3e" stroke="#7d1a2c" stroke-width="0.5"/>
<line x1="303.25" y1="509.6" x2="303.25" y2="512.6" stroke="#231f20" stroke-width="0.7"/>
<text font-size="6" text-anchor="end" fill="#231f20" transform="translate(306.15 519.2) rotate(-45) scale(0.86 1)" stroke="#231f20" stroke-width="0.12">NRAS</text>
<rect x="310.2" y="492.6" width="7.7" height="17" fill="#4a5e86" stroke="#33476c" stroke-width="0.5"/>
<line x1="314.05" y1="509.6" x2="314.05" y2="512.6" stroke="#231f20" stroke-width="0.7"/>
<text font-size="6" text-anchor="end" fill="#231f20" transform="translate(316.95 519.2) rotate(-45) scale(0.86 1)" stroke="#231f20" stroke-width="0.12">CSF3R</text>
<line x1="292.8" y1="509.9" x2="321.1" y2="509.9" stroke="#231f20" stroke-width="1.15"/>
<text x="371.3" y="443.8" font-size="8.1" text-anchor="middle" fill="#231f20" stroke="#231f20" stroke-width="0.1">12-00370</text>
<line x1="358.2" y1="449.7" x2="358.2" y2="510.1" stroke="#231f20" stroke-width="1.1"/>
<line x1="355.2" y1="509.6" x2="358.2" y2="509.6" stroke="#231f20" stroke-width="0.8"/>
<text font-size="5.8" text-anchor="end" fill="#231f20" transform="translate(352.3 511.8) scale(0.9 1)" stroke="#231f20" stroke-width="0.11">0</text>
<line x1="355.2" y1="498.22" x2="358.2" y2="498.22" stroke="#231f20" stroke-width="0.8"/>
<text font-size="5.8" text-anchor="end" fill="#231f20" transform="translate(352.3 500.42) scale(0.9 1)" stroke="#231f20" stroke-width="0.11">10</text>
<line x1="355.2" y1="486.84" x2="358.2" y2="486.84" stroke="#231f20" stroke-width="0.8"/>
<text font-size="5.8" text-anchor="end" fill="#231f20" transform="translate(352.3 489.04) scale(0.9 1)" stroke="#231f20" stroke-width="0.11">20</text>
<line x1="355.2" y1="475.46" x2="358.2" y2="475.46" stroke="#231f20" stroke-width="0.8"/>
<text font-size="5.8" text-anchor="end" fill="#231f20" transform="translate(352.3 477.66) scale(0.9 1)" stroke="#231f20" stroke-width="0.11">30</text>
<line x1="355.2" y1="464.08" x2="358.2" y2="464.08" stroke="#231f20" stroke-width="0.8"/>
<text font-size="5.8" text-anchor="end" fill="#231f20" transform="translate(352.3 466.28) scale(0.9 1)" stroke="#231f20" stroke-width="0.11">40</text>
<line x1="355.2" y1="452.7" x2="358.2" y2="452.7" stroke="#231f20" stroke-width="0.8"/>
<text font-size="5.8" text-anchor="end" fill="#231f20" transform="translate(352.3 454.9) scale(0.9 1)" stroke="#231f20" stroke-width="0.11">50</text>
<text font-size="7.3" text-anchor="middle" fill="#231f20" transform="translate(339.4 480.35) rotate(-90)" stroke="#231f20" stroke-width="0.1">VAF (%)</text>
<rect x="361.5" y="479.9" width="7.7" height="29.7" fill="#9f2a3e" stroke="#7d1a2c" stroke-width="0.5"/>
<line x1="365.35" y1="509.6" x2="365.35" y2="512.6" stroke="#231f20" stroke-width="0.7"/>
<text font-size="6" text-anchor="end" fill="#231f20" transform="translate(368.25 519.2) rotate(-45) scale(0.86 1)" stroke="#231f20" stroke-width="0.12">KRAS</text>
<rect x="372.3" y="484.8" width="7.7" height="24.8" fill="#4a5e86" stroke="#33476c" stroke-width="0.5"/>
<line x1="376.15" y1="509.6" x2="376.15" y2="512.6" stroke="#231f20" stroke-width="0.7"/>
<text font-size="6" text-anchor="end" fill="#231f20" transform="translate(379.05 519.2) rotate(-45) scale(0.86 1)" stroke="#231f20" stroke-width="0.12">NRAS</text>
<line x1="354.9" y1="509.9" x2="383.2" y2="509.9" stroke="#231f20" stroke-width="1.15"/>
<text x="433.5" y="443.8" font-size="8.1" text-anchor="middle" fill="#231f20" stroke="#231f20" stroke-width="0.1">13-00369</text>
<line x1="420.4" y1="450.7" x2="420.4" y2="510.1" stroke="#231f20" stroke-width="1.1"/>
<line x1="417.4" y1="509.6" x2="420.4" y2="509.6" stroke="#231f20" stroke-width="0.8"/>
<text font-size="5.8" text-anchor="end" fill="#231f20" transform="translate(414.5 511.8) scale(0.9 1)" stroke="#231f20" stroke-width="0.11">0</text>
<line x1="417.4" y1="495.62" x2="420.4" y2="495.62" stroke="#231f20" stroke-width="0.8"/>
<text font-size="5.8" text-anchor="end" fill="#231f20" transform="translate(414.5 497.82) scale(0.9 1)" stroke="#231f20" stroke-width="0.11">10</text>
<line x1="417.4" y1="481.65" x2="420.4" y2="481.65" stroke="#231f20" stroke-width="0.8"/>
<text font-size="5.8" text-anchor="end" fill="#231f20" transform="translate(414.5 483.85) scale(0.9 1)" stroke="#231f20" stroke-width="0.11">20</text>
<line x1="417.4" y1="467.68" x2="420.4" y2="467.68" stroke="#231f20" stroke-width="0.8"/>
<text font-size="5.8" text-anchor="end" fill="#231f20" transform="translate(414.5 469.88) scale(0.9 1)" stroke="#231f20" stroke-width="0.11">30</text>
<line x1="417.4" y1="453.7" x2="420.4" y2="453.7" stroke="#231f20" stroke-width="0.8"/>
<text font-size="5.8" text-anchor="end" fill="#231f20" transform="translate(414.5 455.9) scale(0.9 1)" stroke="#231f20" stroke-width="0.11">40</text>
<text font-size="7.3" text-anchor="middle" fill="#231f20" transform="translate(401.6 480.85) rotate(-90)" stroke="#231f20" stroke-width="0.1">VAF (%)</text>
<rect x="423.6" y="465.8" width="7.7" height="43.8" fill="#9f2a3e" stroke="#7d1a2c" stroke-width="0.5"/>
<line x1="427.45" y1="509.6" x2="427.45" y2="512.6" stroke="#231f20" stroke-width="0.7"/>
<text font-size="6" text-anchor="end" fill="#231f20" transform="translate(430.35 519.2) rotate(-45) scale(0.86 1)" stroke="#231f20" stroke-width="0.12">NRAS</text>
<rect x="434.6" y="492.9" width="7.7" height="16.7" fill="#4a5e86" stroke="#33476c" stroke-width="0.5"/>
<line x1="438.45" y1="509.6" x2="438.45" y2="512.6" stroke="#231f20" stroke-width="0.7"/>
<text font-size="6" text-anchor="end" fill="#231f20" transform="translate(441.35 519.2) rotate(-45) scale(0.86 1)" stroke="#231f20" stroke-width="0.12">CSF3R_T</text>
<line x1="417.1" y1="509.9" x2="445.5" y2="509.9" stroke="#231f20" stroke-width="1.15"/>
<text x="492.1" y="443.8" font-size="8.1" text-anchor="middle" fill="#231f20" stroke="#231f20" stroke-width="0.1">14-00389</text>
<line x1="479.6" y1="450.3" x2="479.6" y2="510.1" stroke="#231f20" stroke-width="1.1"/>
<line x1="476.6" y1="509.6" x2="479.6" y2="509.6" stroke="#231f20" stroke-width="0.8"/>
<text font-size="5.8" text-anchor="end" fill="#231f20" transform="translate(473.7 511.8) scale(0.9 1)" stroke="#231f20" stroke-width="0.11">0</text>
<line x1="476.6" y1="498.34" x2="479.6" y2="498.34" stroke="#231f20" stroke-width="0.8"/>
<text font-size="5.8" text-anchor="end" fill="#231f20" transform="translate(473.7 500.54) scale(0.9 1)" stroke="#231f20" stroke-width="0.11">10</text>
<line x1="476.6" y1="487.08" x2="479.6" y2="487.08" stroke="#231f20" stroke-width="0.8"/>
<text font-size="5.8" text-anchor="end" fill="#231f20" transform="translate(473.7 489.28) scale(0.9 1)" stroke="#231f20" stroke-width="0.11">20</text>
<line x1="476.6" y1="475.82" x2="479.6" y2="475.82" stroke="#231f20" stroke-width="0.8"/>
<text font-size="5.8" text-anchor="end" fill="#231f20" transform="translate(473.7 478.02) scale(0.9 1)" stroke="#231f20" stroke-width="0.11">30</text>
<line x1="476.6" y1="464.56" x2="479.6" y2="464.56" stroke="#231f20" stroke-width="0.8"/>
<text font-size="5.8" text-anchor="end" fill="#231f20" transform="translate(473.7 466.76) scale(0.9 1)" stroke="#231f20" stroke-width="0.11">40</text>
<line x1="476.6" y1="453.3" x2="479.6" y2="453.3" stroke="#231f20" stroke-width="0.8"/>
<text font-size="5.8" text-anchor="end" fill="#231f20" transform="translate(473.7 455.5) scale(0.9 1)" stroke="#231f20" stroke-width="0.11">50</text>
<text font-size="7.3" text-anchor="middle" fill="#231f20" transform="translate(460.8 480.65) rotate(-90)" stroke="#231f20" stroke-width="0.1">VAF (%)</text>
<rect x="482.9" y="479.4" width="7.7" height="30.2" fill="#9f2a3e" stroke="#7d1a2c" stroke-width="0.5"/>
<line x1="486.75" y1="509.6" x2="486.75" y2="512.6" stroke="#231f20" stroke-width="0.7"/>
<text font-size="6" text-anchor="end" fill="#231f20" transform="translate(489.65 519.2) rotate(-45) scale(0.86 1)" stroke="#231f20" stroke-width="0.12">PTPN11</text>
<rect x="493.6" y="497.7" width="7.7" height="11.9" fill="#4a5e86" stroke="#33476c" stroke-width="0.5"/>
<line x1="497.45" y1="509.6" x2="497.45" y2="512.6" stroke="#231f20" stroke-width="0.7"/>
<text font-size="6" text-anchor="end" fill="#231f20" transform="translate(500.35 519.2) rotate(-45) scale(0.86 1)" stroke="#231f20" stroke-width="0.12">CSF3R</text>
<line x1="476.3" y1="509.9" x2="504.5" y2="509.9" stroke="#231f20" stroke-width="1.15"/>
<text font-size="7.9" text-anchor="middle" fill="#231f20" transform="translate(78.9 556.2) scale(0.93 1)" stroke="#231f20" stroke-width="0.11">NRAS+T618I</text>
<line x1="36.4" y1="561.3" x2="36.4" y2="620.3" stroke="#231f20" stroke-width="1.15"/>
<line x1="33.6" y1="616.3" x2="36.4" y2="616.3" stroke="#231f20" stroke-width="0.8"/>
<text font-size="5.5" text-anchor="end" fill="#231f20" transform="translate(30.4 618.3) scale(0.92 1)" stroke="#231f20" stroke-width="0.11">0</text>
<line x1="33.6" y1="598.8" x2="36.4" y2="598.8" stroke="#231f20" stroke-width="0.8"/>
<text font-size="5.5" text-anchor="end" fill="#231f20" transform="translate(30.4 600.8) scale(0.92 1)" stroke="#231f20" stroke-width="0.11">50</text>
<line x1="33.6" y1="581.3" x2="36.4" y2="581.3" stroke="#231f20" stroke-width="0.8"/>
<text font-size="5.5" text-anchor="end" fill="#231f20" transform="translate(30.4 583.3) scale(0.92 1)" stroke="#231f20" stroke-width="0.11">100</text>
<line x1="33.6" y1="563.8" x2="36.4" y2="563.8" stroke="#231f20" stroke-width="0.8"/>
<text font-size="5.5" text-anchor="end" fill="#231f20" transform="translate(30.4 565.8) scale(0.92 1)" stroke="#231f20" stroke-width="0.11">150</text>
<line x1="36.4" y1="619.7" x2="121.5" y2="619.7" stroke="#231f20" stroke-width="1.2"/>
<line x1="36.4" y1="619.7" x2="36.4" y2="622.3" stroke="#231f20" stroke-width="0.9"/>
<text x="36.4" y="630.7" font-size="5.4" text-anchor="middle" fill="#231f20" stroke="#231f20" stroke-width="0.1">1</text>
<line x1="57" y1="619.7" x2="57" y2="622.3" stroke="#231f20" stroke-width="0.9"/>
<text x="57" y="630.7" font-size="5.4" text-anchor="middle" fill="#231f20" stroke="#231f20" stroke-width="0.1">10</text>
<line x1="77.6" y1="619.7" x2="77.6" y2="622.3" stroke="#231f20" stroke-width="0.9"/>
<text x="77.6" y="630.7" font-size="5.4" text-anchor="middle" fill="#231f20" stroke="#231f20" stroke-width="0.1">100</text>
<line x1="98.2" y1="619.7" x2="98.2" y2="622.3" stroke="#231f20" stroke-width="0.9"/>
<text x="98.2" y="630.7" font-size="5.4" text-anchor="middle" fill="#231f20" stroke="#231f20" stroke-width="0.1">1000</text>
<line x1="118.8" y1="619.7" x2="118.8" y2="622.3" stroke="#231f20" stroke-width="0.9"/>
<text x="118.8" y="630.7" font-size="5.4" text-anchor="middle" fill="#231f20" stroke="#231f20" stroke-width="0.1">10000</text>
<text x="78.9" y="642.8" font-size="8.1" text-anchor="middle" fill="#231f20" stroke="#231f20" stroke-width="0.1">Concentration (nM)</text>
<text font-size="8.2" text-anchor="middle" fill="#231f20" transform="translate(15 590.4) rotate(-90)" stroke="#231f20" stroke-width="0.1">Viability %</text>
<polyline points="36.5,582.35 38.21,582.35 39.92,582.35 41.64,582.35 43.35,582.35 45.06,582.35 46.78,582.35 48.49,582.35 50.2,582.35 50.98,582.35 51.75,582.35 52.52,582.35 53.3,582.35 54.08,582.35 54.85,582.35 55.62,582.35 56.4,582.35 57.2,582.35 58,582.35 58.8,582.35 59.6,582.35 60.4,582.35 61.2,582.35 62,582.35 62.8,582.35 63.61,582.36 64.42,582.39 65.24,582.44 66.05,582.5 66.86,582.58 67.67,582.67 68.49,582.77 69.3,582.88 70.09,582.99 70.88,583.11 71.66,583.24 72.45,583.39 73.24,583.54 74.02,583.71 74.81,583.9 75.6,584.1 76.38,584.31 77.15,584.53 77.92,584.76 78.7,585 79.47,585.26 80.25,585.55 81.02,585.86 81.8,586.2 82.55,586.54 83.3,586.89 84.05,587.26 84.8,587.65 85.55,588.07 86.3,588.55 87.05,589.09 87.8,589.7 88.6,590.4 89.4,591.12 90.2,591.89 91,592.73 91.8,593.64 92.6,594.65 93.4,595.78 94.2,597.05 95.01,598.58 95.83,600.39 96.64,602.38 97.45,604.44 98.26,606.47 99.08,608.37 99.89,610.05 100.7,611.4 101.46,612.37 102.22,613.13 102.99,613.72 103.75,614.16 104.51,614.51 105.28,614.78 106.04,615.02 106.8,615.25 107.59,615.46 108.38,615.61 109.16,615.71 109.95,615.78 110.74,615.82 111.52,615.85 112.31,615.89 113.1,615.95" fill="none" stroke="#bdb98c" stroke-width="1.15" stroke-linejoin="round"/>
<line x1="50.2" y1="581.3" x2="50.2" y2="583.4" stroke="#bdb98c" stroke-width="0.7"/>
<line x1="49" y1="581.3" x2="51.4" y2="581.3" stroke="#bdb98c" stroke-width="0.7"/>
<line x1="49" y1="583.4" x2="51.4" y2="583.4" stroke="#bdb98c" stroke-width="0.7"/>
<circle cx="50.2" cy="582.35" r="1.05" fill="#bdb98c"/>
<line x1="56.4" y1="581.3" x2="56.4" y2="583.4" stroke="#bdb98c" stroke-width="0.7"/>
<line x1="55.2" y1="581.3" x2="57.6" y2="581.3" stroke="#bdb98c" stroke-width="0.7"/>
<line x1="55.2" y1="583.4" x2="57.6" y2="583.4" stroke="#bdb98c" stroke-width="0.7"/>
<circle cx="56.4" cy="582.35" r="1.05" fill="#bdb98c"/>
<line x1="62.8" y1="581.3" x2="62.8" y2="583.4" stroke="#bdb98c" stroke-width="0.7"/>
<line x1="61.6" y1="581.3" x2="64" y2="581.3" stroke="#bdb98c" stroke-width="0.7"/>
<line x1="61.6" y1="583.4" x2="64" y2="583.4" stroke="#bdb98c" stroke-width="0.7"/>
<circle cx="62.8" cy="582.35" r="1.05" fill="#bdb98c"/>
<line x1="69.3" y1="581.47" x2="69.3" y2="584.27" stroke="#bdb98c" stroke-width="0.7"/>
<line x1="68.1" y1="581.47" x2="70.5" y2="581.47" stroke="#bdb98c" stroke-width="0.7"/>
<line x1="68.1" y1="584.27" x2="70.5" y2="584.27" stroke="#bdb98c" stroke-width="0.7"/>
<circle cx="69.3" cy="582.88" r="1.05" fill="#bdb98c"/>
<line x1="75.6" y1="582.7" x2="75.6" y2="585.5" stroke="#bdb98c" stroke-width="0.7"/>
<line x1="74.4" y1="582.7" x2="76.8" y2="582.7" stroke="#bdb98c" stroke-width="0.7"/>
<line x1="74.4" y1="585.5" x2="76.8" y2="585.5" stroke="#bdb98c" stroke-width="0.7"/>
<circle cx="75.6" cy="584.1" r="1.05" fill="#bdb98c"/>
<line x1="81.8" y1="584.45" x2="81.8" y2="587.95" stroke="#bdb98c" stroke-width="0.7"/>
<line x1="80.6" y1="584.45" x2="83" y2="584.45" stroke="#bdb98c" stroke-width="0.7"/>
<line x1="80.6" y1="587.95" x2="83" y2="587.95" stroke="#bdb98c" stroke-width="0.7"/>
<circle cx="81.8" cy="586.2" r="1.05" fill="#bdb98c"/>
<line x1="87.8" y1="587.95" x2="87.8" y2="591.45" stroke="#bdb98c" stroke-width="0.7"/>
<line x1="86.6" y1="587.95" x2="89" y2="587.95" stroke="#bdb98c" stroke-width="0.7"/>
<line x1="86.6" y1="591.45" x2="89" y2="591.45" stroke="#bdb98c" stroke-width="0.7"/>
<circle cx="87.8" cy="589.7" r="1.05" fill="#bdb98c"/>
<line x1="94.2" y1="595.3" x2="94.2" y2="598.8" stroke="#bdb98c" stroke-width="0.7"/>
<line x1="93" y1="595.3" x2="95.4" y2="595.3" stroke="#bdb98c" stroke-width="0.7"/>
<line x1="93" y1="598.8" x2="95.4" y2="598.8" stroke="#bdb98c" stroke-width="0.7"/>
<circle cx="94.2" cy="597.05" r="1.05" fill="#bdb98c"/>
<line x1="100.7" y1="610" x2="100.7" y2="612.8" stroke="#bdb98c" stroke-width="0.7"/>
<line x1="99.5" y1="610" x2="101.9" y2="610" stroke="#bdb98c" stroke-width="0.7"/>
<line x1="99.5" y1="612.8" x2="101.9" y2="612.8" stroke="#bdb98c" stroke-width="0.7"/>
<circle cx="100.7" cy="611.4" r="1.05" fill="#bdb98c"/>
<line x1="106.8" y1="614.55" x2="106.8" y2="615.95" stroke="#bdb98c" stroke-width="0.7"/>
<line x1="105.6" y1="614.55" x2="108" y2="614.55" stroke="#bdb98c" stroke-width="0.7"/>
<line x1="105.6" y1="615.95" x2="108" y2="615.95" stroke="#bdb98c" stroke-width="0.7"/>
<circle cx="106.8" cy="615.25" r="1.05" fill="#bdb98c"/>
<line x1="113.1" y1="615.25" x2="113.1" y2="616.65" stroke="#bdb98c" stroke-width="0.7"/>
<line x1="111.9" y1="615.25" x2="114.3" y2="615.25" stroke="#bdb98c" stroke-width="0.7"/>
<line x1="111.9" y1="616.65" x2="114.3" y2="616.65" stroke="#bdb98c" stroke-width="0.7"/>
<circle cx="113.1" cy="615.95" r="1.05" fill="#bdb98c"/>
<polyline points="36.5,582.7 38.21,582.79 39.92,582.87 41.64,582.96 43.35,583.05 45.06,583.13 46.78,583.22 48.49,583.31 50.2,583.4 50.98,583.44 51.75,583.46 52.52,583.48 53.3,583.51 54.08,583.54 54.85,583.59 55.62,583.66 56.4,583.75 57.2,583.86 58,583.96 58.8,584.08 59.6,584.21 60.4,584.38 61.2,584.58 62,584.84 62.8,585.15 63.61,585.52 64.42,585.92 65.24,586.36 66.05,586.84 66.86,587.38 67.67,587.97 68.49,588.63 69.3,589.35 70.09,590.14 70.88,591.03 71.66,591.99 72.45,593 73.24,594.03 74.02,595.07 74.81,596.08 75.6,597.05 76.38,597.97 77.15,598.9 77.92,599.82 78.7,600.73 79.47,601.63 80.25,602.52 81.02,603.38 81.8,604.22 82.55,605.03 83.3,605.83 84.05,606.61 84.8,607.38 85.55,608.12 86.3,608.83 87.05,609.49 87.8,610.1 88.6,610.71 89.4,611.27 90.2,611.8 91,612.28 91.8,612.73 92.6,613.14 93.4,613.51 94.2,613.85 95.01,614.14 95.83,614.38 96.64,614.58 97.45,614.74 98.26,614.88 99.08,615 99.89,615.12 100.7,615.25 101.46,615.37 102.22,615.48 102.99,615.57 103.75,615.66 104.51,615.74 105.28,615.81 106.04,615.88 106.8,615.95 107.59,616.01 108.38,616.06 109.16,616.11 109.95,616.15 110.74,616.19 111.52,616.22 112.31,616.26 113.1,616.3" fill="none" stroke="#e28b22" stroke-width="1.15" stroke-linejoin="round"/>
<line x1="50.2" y1="581.3" x2="50.2" y2="585.5" stroke="#e28b22" stroke-width="0.7"/>
<line x1="49" y1="581.3" x2="51.4" y2="581.3" stroke="#e28b22" stroke-width="0.7"/>
<line x1="49" y1="585.5" x2="51.4" y2="585.5" stroke="#e28b22" stroke-width="0.7"/>
<circle cx="50.2" cy="583.4" r="1.05" fill="#e28b22"/>
<line x1="56.4" y1="581.3" x2="56.4" y2="586.2" stroke="#e28b22" stroke-width="0.7"/>
<line x1="55.2" y1="581.3" x2="57.6" y2="581.3" stroke="#e28b22" stroke-width="0.7"/>
<line x1="55.2" y1="586.2" x2="57.6" y2="586.2" stroke="#e28b22" stroke-width="0.7"/>
<circle cx="56.4" cy="583.75" r="1.05" fill="#e28b22"/>
<line x1="62.8" y1="583.05" x2="62.8" y2="587.25" stroke="#e28b22" stroke-width="0.7"/>
<line x1="61.6" y1="583.05" x2="64" y2="583.05" stroke="#e28b22" stroke-width="0.7"/>
<line x1="61.6" y1="587.25" x2="64" y2="587.25" stroke="#e28b22" stroke-width="0.7"/>
<circle cx="62.8" cy="585.15" r="1.05" fill="#e28b22"/>
<line x1="69.3" y1="587.6" x2="69.3" y2="591.1" stroke="#e28b22" stroke-width="0.7"/>
<line x1="68.1" y1="587.6" x2="70.5" y2="587.6" stroke="#e28b22" stroke-width="0.7"/>
<line x1="68.1" y1="591.1" x2="70.5" y2="591.1" stroke="#e28b22" stroke-width="0.7"/>
<circle cx="69.3" cy="589.35" r="1.05" fill="#e28b22"/>
<line x1="75.6" y1="595.65" x2="75.6" y2="598.45" stroke="#e28b22" stroke-width="0.7"/>
<line x1="74.4" y1="595.65" x2="76.8" y2="595.65" stroke="#e28b22" stroke-width="0.7"/>
<line x1="74.4" y1="598.45" x2="76.8" y2="598.45" stroke="#e28b22" stroke-width="0.7"/>
<circle cx="75.6" cy="597.05" r="1.05" fill="#e28b22"/>
<line x1="81.8" y1="603.17" x2="81.8" y2="605.27" stroke="#e28b22" stroke-width="0.7"/>
<line x1="80.6" y1="603.17" x2="83" y2="603.17" stroke="#e28b22" stroke-width="0.7"/>
<line x1="80.6" y1="605.27" x2="83" y2="605.27" stroke="#e28b22" stroke-width="0.7"/>
<circle cx="81.8" cy="604.22" r="1.05" fill="#e28b22"/>
<line x1="87.8" y1="609.05" x2="87.8" y2="611.15" stroke="#e28b22" stroke-width="0.7"/>
<line x1="86.6" y1="609.05" x2="89" y2="609.05" stroke="#e28b22" stroke-width="0.7"/>
<line x1="86.6" y1="611.15" x2="89" y2="611.15" stroke="#e28b22" stroke-width="0.7"/>
<circle cx="87.8" cy="610.1" r="1.05" fill="#e28b22"/>
<line x1="94.2" y1="613.15" x2="94.2" y2="614.55" stroke="#e28b22" stroke-width="0.7"/>
<line x1="93" y1="613.15" x2="95.4" y2="613.15" stroke="#e28b22" stroke-width="0.7"/>
<line x1="93" y1="614.55" x2="95.4" y2="614.55" stroke="#e28b22" stroke-width="0.7"/>
<circle cx="94.2" cy="613.85" r="1.05" fill="#e28b22"/>
<line x1="100.7" y1="614.55" x2="100.7" y2="615.95" stroke="#e28b22" stroke-width="0.7"/>
<line x1="99.5" y1="614.55" x2="101.9" y2="614.55" stroke="#e28b22" stroke-width="0.7"/>
<line x1="99.5" y1="615.95" x2="101.9" y2="615.95" stroke="#e28b22" stroke-width="0.7"/>
<circle cx="100.7" cy="615.25" r="1.05" fill="#e28b22"/>
<line x1="106.8" y1="615.6" x2="106.8" y2="616.3" stroke="#e28b22" stroke-width="0.7"/>
<line x1="105.6" y1="615.6" x2="108" y2="615.6" stroke="#e28b22" stroke-width="0.7"/>
<line x1="105.6" y1="616.3" x2="108" y2="616.3" stroke="#e28b22" stroke-width="0.7"/>
<circle cx="106.8" cy="615.95" r="1.05" fill="#e28b22"/>
<line x1="113.1" y1="615.95" x2="113.1" y2="616.65" stroke="#e28b22" stroke-width="0.7"/>
<line x1="111.9" y1="615.95" x2="114.3" y2="615.95" stroke="#e28b22" stroke-width="0.7"/>
<line x1="111.9" y1="616.65" x2="114.3" y2="616.65" stroke="#e28b22" stroke-width="0.7"/>
<circle cx="113.1" cy="616.3" r="1.05" fill="#e28b22"/>
<polyline points="36.5,580.95 38.21,580.95 39.92,580.95 41.64,580.95 43.35,580.95 45.06,580.95 46.78,580.95 48.49,580.95 50.2,580.95 50.98,580.95 51.75,580.95 52.52,580.95 53.3,580.95 54.08,580.95 54.85,580.95 55.62,580.95 56.4,580.95 57.2,580.95 58,580.96 58.8,580.98 59.6,581.02 60.4,581.08 61.2,581.17 62,581.3 62.8,581.47 63.61,581.71 64.42,582.02 65.24,582.38 66.05,582.77 66.86,583.19 67.67,583.62 68.49,584.05 69.3,584.45 70.09,584.82 70.88,585.18 71.66,585.53 72.45,585.89 73.24,586.27 74.02,586.68 74.81,587.12 75.6,587.6 76.38,588.13 77.15,588.71 77.92,589.32 78.7,589.96 79.47,590.61 80.25,591.26 81.02,591.89 81.8,592.5 82.55,593.06 83.3,593.61 84.05,594.15 84.8,594.69 85.55,595.22 86.3,595.76 87.05,596.31 87.8,596.88 88.6,597.5 89.4,598.15 90.2,598.82 91,599.49 91.8,600.15 92.6,600.79 93.4,601.39 94.2,601.95 95.01,602.47 95.83,602.94 96.64,603.38 97.45,603.8 98.26,604.21 99.08,604.61 99.89,605.02 100.7,605.45 101.46,605.87 102.22,606.3 102.99,606.74 103.75,607.18 104.51,607.61 105.28,608.02 106.04,608.41 106.8,608.77 107.59,609.11 108.38,609.43 109.16,609.71 109.95,609.98 110.74,610.25 111.52,610.51 112.31,610.77 113.1,611.05" fill="none" stroke="#2c4b8d" stroke-width="1.15" stroke-linejoin="round"/>
<line x1="50.2" y1="579.55" x2="50.2" y2="582.35" stroke="#2c4b8d" stroke-width="0.7"/>
<line x1="49" y1="579.55" x2="51.4" y2="579.55" stroke="#2c4b8d" stroke-width="0.7"/>
<line x1="49" y1="582.35" x2="51.4" y2="582.35" stroke="#2c4b8d" stroke-width="0.7"/>
<circle cx="50.2" cy="580.95" r="1.05" fill="#2c4b8d"/>
<line x1="56.4" y1="579.55" x2="56.4" y2="582.35" stroke="#2c4b8d" stroke-width="0.7"/>
<line x1="55.2" y1="579.55" x2="57.6" y2="579.55" stroke="#2c4b8d" stroke-width="0.7"/>
<line x1="55.2" y1="582.35" x2="57.6" y2="582.35" stroke="#2c4b8d" stroke-width="0.7"/>
<circle cx="56.4" cy="580.95" r="1.05" fill="#2c4b8d"/>
<line x1="62.8" y1="579.72" x2="62.8" y2="583.22" stroke="#2c4b8d" stroke-width="0.7"/>
<line x1="61.6" y1="579.72" x2="64" y2="579.72" stroke="#2c4b8d" stroke-width="0.7"/>
<line x1="61.6" y1="583.22" x2="64" y2="583.22" stroke="#2c4b8d" stroke-width="0.7"/>
<circle cx="62.8" cy="581.47" r="1.05" fill="#2c4b8d"/>
<line x1="69.3" y1="582.7" x2="69.3" y2="586.2" stroke="#2c4b8d" stroke-width="0.7"/>
<line x1="68.1" y1="582.7" x2="70.5" y2="582.7" stroke="#2c4b8d" stroke-width="0.7"/>
<line x1="68.1" y1="586.2" x2="70.5" y2="586.2" stroke="#2c4b8d" stroke-width="0.7"/>
<circle cx="69.3" cy="584.45" r="1.05" fill="#2c4b8d"/>
<line x1="75.6" y1="585.85" x2="75.6" y2="589.35" stroke="#2c4b8d" stroke-width="0.7"/>
<line x1="74.4" y1="585.85" x2="76.8" y2="585.85" stroke="#2c4b8d" stroke-width="0.7"/>
<line x1="74.4" y1="589.35" x2="76.8" y2="589.35" stroke="#2c4b8d" stroke-width="0.7"/>
<circle cx="75.6" cy="587.6" r="1.05" fill="#2c4b8d"/>
<line x1="81.8" y1="590.4" x2="81.8" y2="594.6" stroke="#2c4b8d" stroke-width="0.7"/>
<line x1="80.6" y1="590.4" x2="83" y2="590.4" stroke="#2c4b8d" stroke-width="0.7"/>
<line x1="80.6" y1="594.6" x2="83" y2="594.6" stroke="#2c4b8d" stroke-width="0.7"/>
<circle cx="81.8" cy="592.5" r="1.05" fill="#2c4b8d"/>
<line x1="87.8" y1="594.77" x2="87.8" y2="598.97" stroke="#2c4b8d" stroke-width="0.7"/>
<line x1="86.6" y1="594.77" x2="89" y2="594.77" stroke="#2c4b8d" stroke-width="0.7"/>
<line x1="86.6" y1="598.97" x2="89" y2="598.97" stroke="#2c4b8d" stroke-width="0.7"/>
<circle cx="87.8" cy="596.88" r="1.05" fill="#2c4b8d"/>
<line x1="94.2" y1="600.2" x2="94.2" y2="603.7" stroke="#2c4b8d" stroke-width="0.7"/>
<line x1="93" y1="600.2" x2="95.4" y2="600.2" stroke="#2c4b8d" stroke-width="0.7"/>
<line x1="93" y1="603.7" x2="95.4" y2="603.7" stroke="#2c4b8d" stroke-width="0.7"/>
<circle cx="94.2" cy="601.95" r="1.05" fill="#2c4b8d"/>
<line x1="100.7" y1="604.05" x2="100.7" y2="606.85" stroke="#2c4b8d" stroke-width="0.7"/>
<line x1="99.5" y1="604.05" x2="101.9" y2="604.05" stroke="#2c4b8d" stroke-width="0.7"/>
<line x1="99.5" y1="606.85" x2="101.9" y2="606.85" stroke="#2c4b8d" stroke-width="0.7"/>
<circle cx="100.7" cy="605.45" r="1.05" fill="#2c4b8d"/>
<line x1="106.8" y1="607.72" x2="106.8" y2="609.82" stroke="#2c4b8d" stroke-width="0.7"/>
<line x1="105.6" y1="607.72" x2="108" y2="607.72" stroke="#2c4b8d" stroke-width="0.7"/>
<line x1="105.6" y1="609.82" x2="108" y2="609.82" stroke="#2c4b8d" stroke-width="0.7"/>
<circle cx="106.8" cy="608.77" r="1.05" fill="#2c4b8d"/>
<line x1="113.1" y1="610" x2="113.1" y2="612.1" stroke="#2c4b8d" stroke-width="0.7"/>
<line x1="111.9" y1="610" x2="114.3" y2="610" stroke="#2c4b8d" stroke-width="0.7"/>
<line x1="111.9" y1="612.1" x2="114.3" y2="612.1" stroke="#2c4b8d" stroke-width="0.7"/>
<circle cx="113.1" cy="611.05" r="1.05" fill="#2c4b8d"/>
<polyline points="36.5,579.9 38.21,579.9 39.92,579.9 41.64,579.9 43.35,579.9 45.06,579.9 46.78,579.9 48.49,579.9 50.2,579.9 50.98,579.9 51.75,579.9 52.52,579.9 53.3,579.9 54.08,579.9 54.85,579.9 55.62,579.9 56.4,579.9 57.2,579.9 58,579.9 58.8,579.91 59.6,579.92 60.4,579.94 61.2,579.97 62,580.02 62.8,580.07 63.61,580.14 64.42,580.22 65.24,580.3 66.05,580.41 66.86,580.54 67.67,580.7 68.49,580.89 69.3,581.12 70.09,581.39 70.88,581.7 71.66,582.04 72.45,582.41 73.24,582.8 74.02,583.22 74.81,583.65 75.6,584.1 76.38,584.55 77.15,585.02 77.92,585.51 78.7,586.02 79.47,586.55 80.25,587.11 81.02,587.69 81.8,588.3 82.55,588.94 83.3,589.63 84.05,590.36 84.8,591.11 85.55,591.85 86.3,592.58 87.05,593.27 87.8,593.9 88.6,594.51 89.4,595.08 90.2,595.62 91,596.14 91.8,596.63 92.6,597.12 93.4,597.61 94.2,598.1 95.01,598.6 95.83,599.08 96.64,599.55 97.45,600.01 98.26,600.48 99.08,600.95 99.89,601.44 100.7,601.95 101.46,602.45 102.22,602.98 102.99,603.52 103.75,604.06 104.51,604.61 105.28,605.14 106.04,605.66 106.8,606.15 107.59,606.63 108.38,607.08 109.16,607.52 109.95,607.95 110.74,608.37 111.52,608.79 112.31,609.22 113.1,609.65" fill="none" stroke="#a3283d" stroke-width="1.15" stroke-linejoin="round"/>
<line x1="50.2" y1="578.15" x2="50.2" y2="581.65" stroke="#a3283d" stroke-width="0.7"/>
<line x1="49" y1="578.15" x2="51.4" y2="578.15" stroke="#a3283d" stroke-width="0.7"/>
<line x1="49" y1="581.65" x2="51.4" y2="581.65" stroke="#a3283d" stroke-width="0.7"/>
<circle cx="50.2" cy="579.9" r="1.05" fill="#a3283d"/>
<line x1="56.4" y1="577.8" x2="56.4" y2="582" stroke="#a3283d" stroke-width="0.7"/>
<line x1="55.2" y1="577.8" x2="57.6" y2="577.8" stroke="#a3283d" stroke-width="0.7"/>
<line x1="55.2" y1="582" x2="57.6" y2="582" stroke="#a3283d" stroke-width="0.7"/>
<circle cx="56.4" cy="579.9" r="1.05" fill="#a3283d"/>
<line x1="62.8" y1="577.27" x2="62.8" y2="582.88" stroke="#a3283d" stroke-width="0.7"/>
<line x1="61.6" y1="577.27" x2="64" y2="577.27" stroke="#a3283d" stroke-width="0.7"/>
<line x1="61.6" y1="582.88" x2="64" y2="582.88" stroke="#a3283d" stroke-width="0.7"/>
<circle cx="62.8" cy="580.07" r="1.05" fill="#a3283d"/>
<line x1="69.3" y1="579.02" x2="69.3" y2="583.22" stroke="#a3283d" stroke-width="0.7"/>
<line x1="68.1" y1="579.02" x2="70.5" y2="579.02" stroke="#a3283d" stroke-width="0.7"/>
<line x1="68.1" y1="583.22" x2="70.5" y2="583.22" stroke="#a3283d" stroke-width="0.7"/>
<circle cx="69.3" cy="581.12" r="1.05" fill="#a3283d"/>
<line x1="75.6" y1="582.35" x2="75.6" y2="585.85" stroke="#a3283d" stroke-width="0.7"/>
<line x1="74.4" y1="582.35" x2="76.8" y2="582.35" stroke="#a3283d" stroke-width="0.7"/>
<line x1="74.4" y1="585.85" x2="76.8" y2="585.85" stroke="#a3283d" stroke-width="0.7"/>
<circle cx="75.6" cy="584.1" r="1.05" fill="#a3283d"/>
<line x1="81.8" y1="585.5" x2="81.8" y2="591.1" stroke="#a3283d" stroke-width="0.7"/>
<line x1="80.6" y1="585.5" x2="83" y2="585.5" stroke="#a3283d" stroke-width="0.7"/>
<line x1="80.6" y1="591.1" x2="83" y2="591.1" stroke="#a3283d" stroke-width="0.7"/>
<circle cx="81.8" cy="588.3" r="1.05" fill="#a3283d"/>
<line x1="87.8" y1="591.1" x2="87.8" y2="596.7" stroke="#a3283d" stroke-width="0.7"/>
<line x1="86.6" y1="591.1" x2="89" y2="591.1" stroke="#a3283d" stroke-width="0.7"/>
<line x1="86.6" y1="596.7" x2="89" y2="596.7" stroke="#a3283d" stroke-width="0.7"/>
<circle cx="87.8" cy="593.9" r="1.05" fill="#a3283d"/>
<line x1="94.2" y1="595.65" x2="94.2" y2="600.55" stroke="#a3283d" stroke-width="0.7"/>
<line x1="93" y1="595.65" x2="95.4" y2="595.65" stroke="#a3283d" stroke-width="0.7"/>
<line x1="93" y1="600.55" x2="95.4" y2="600.55" stroke="#a3283d" stroke-width="0.7"/>
<circle cx="94.2" cy="598.1" r="1.05" fill="#a3283d"/>
<line x1="100.7" y1="599.85" x2="100.7" y2="604.05" stroke="#a3283d" stroke-width="0.7"/>
<line x1="99.5" y1="599.85" x2="101.9" y2="599.85" stroke="#a3283d" stroke-width="0.7"/>
<line x1="99.5" y1="604.05" x2="101.9" y2="604.05" stroke="#a3283d" stroke-width="0.7"/>
<circle cx="100.7" cy="601.95" r="1.05" fill="#a3283d"/>
<line x1="106.8" y1="604.4" x2="106.8" y2="607.9" stroke="#a3283d" stroke-width="0.7"/>
<line x1="105.6" y1="604.4" x2="108" y2="604.4" stroke="#a3283d" stroke-width="0.7"/>
<line x1="105.6" y1="607.9" x2="108" y2="607.9" stroke="#a3283d" stroke-width="0.7"/>
<circle cx="106.8" cy="606.15" r="1.05" fill="#a3283d"/>
<line x1="113.1" y1="608.25" x2="113.1" y2="611.05" stroke="#a3283d" stroke-width="0.7"/>
<line x1="111.9" y1="608.25" x2="114.3" y2="608.25" stroke="#a3283d" stroke-width="0.7"/>
<line x1="111.9" y1="611.05" x2="114.3" y2="611.05" stroke="#a3283d" stroke-width="0.7"/>
<circle cx="113.1" cy="609.65" r="1.05" fill="#a3283d"/>
<polyline points="36.5,580.95 38.21,581 39.92,581.05 41.64,581.11 43.35,581.17 45.06,581.22 46.78,581.26 48.49,581.29 50.2,581.3 50.98,581.3 51.75,581.3 52.52,581.3 53.3,581.3 54.08,581.3 54.85,581.3 55.62,581.3 56.4,581.3 57.2,581.3 58,581.31 58.8,581.33 59.6,581.37 60.4,581.43 61.2,581.52 62,581.65 62.8,581.82 63.61,582.1 64.42,582.52 65.24,583.06 66.05,583.72 66.86,584.48 67.67,585.33 68.49,586.26 69.3,587.25 70.09,588.33 70.88,589.58 71.66,590.94 72.45,592.36 73.24,593.8 74.02,595.22 74.81,596.55 75.6,597.75 76.38,598.83 77.15,599.86 77.92,600.85 78.7,601.79 79.47,602.68 80.25,603.53 81.02,604.34 81.8,605.1 82.55,605.78 83.3,606.39 84.05,606.95 84.8,607.47 85.55,607.96 86.3,608.45 87.05,608.95 87.8,609.47 88.6,610.07 89.4,610.69 90.2,611.31 91,611.93 91.8,612.53 92.6,613.09 93.4,613.59 94.2,614.02 95.01,614.39 95.83,614.7 96.64,614.95 97.45,615.17 98.26,615.35 99.08,615.5 99.89,615.64 100.7,615.77 101.46,615.89 102.22,615.97 102.99,616.03 103.75,616.07 104.51,616.1 105.28,616.12 106.04,616.12 106.8,616.12 107.59,616.12 108.38,616.12 109.16,616.12 109.95,616.12 110.74,616.12 111.52,616.12 112.31,616.12 113.1,616.12" fill="none" stroke="#2b6350" stroke-width="1.15" stroke-linejoin="round"/>
<line x1="50.2" y1="576.4" x2="50.2" y2="586.2" stroke="#2b6350" stroke-width="0.7"/>
<line x1="49" y1="576.4" x2="51.4" y2="576.4" stroke="#2b6350" stroke-width="0.7"/>
<line x1="49" y1="586.2" x2="51.4" y2="586.2" stroke="#2b6350" stroke-width="0.7"/>
<circle cx="50.2" cy="581.3" r="1.05" fill="#2b6350"/>
<line x1="56.4" y1="577.1" x2="56.4" y2="585.5" stroke="#2b6350" stroke-width="0.7"/>
<line x1="55.2" y1="577.1" x2="57.6" y2="577.1" stroke="#2b6350" stroke-width="0.7"/>
<line x1="55.2" y1="585.5" x2="57.6" y2="585.5" stroke="#2b6350" stroke-width="0.7"/>
<circle cx="56.4" cy="581.3" r="1.05" fill="#2b6350"/>
<line x1="62.8" y1="577.62" x2="62.8" y2="586.02" stroke="#2b6350" stroke-width="0.7"/>
<line x1="61.6" y1="577.62" x2="64" y2="577.62" stroke="#2b6350" stroke-width="0.7"/>
<line x1="61.6" y1="586.02" x2="64" y2="586.02" stroke="#2b6350" stroke-width="0.7"/>
<circle cx="62.8" cy="581.82" r="1.05" fill="#2b6350"/>
<line x1="69.3" y1="585.15" x2="69.3" y2="589.35" stroke="#2b6350" stroke-width="0.7"/>
<line x1="68.1" y1="585.15" x2="70.5" y2="585.15" stroke="#2b6350" stroke-width="0.7"/>
<line x1="68.1" y1="589.35" x2="70.5" y2="589.35" stroke="#2b6350" stroke-width="0.7"/>
<circle cx="69.3" cy="587.25" r="1.05" fill="#2b6350"/>
<line x1="75.6" y1="595.65" x2="75.6" y2="599.85" stroke="#2b6350" stroke-width="0.7"/>
<line x1="74.4" y1="595.65" x2="76.8" y2="595.65" stroke="#2b6350" stroke-width="0.7"/>
<line x1="74.4" y1="599.85" x2="76.8" y2="599.85" stroke="#2b6350" stroke-width="0.7"/>
<circle cx="75.6" cy="597.75" r="1.05" fill="#2b6350"/>
<line x1="81.8" y1="603" x2="81.8" y2="607.2" stroke="#2b6350" stroke-width="0.7"/>
<line x1="80.6" y1="603" x2="83" y2="603" stroke="#2b6350" stroke-width="0.7"/>
<line x1="80.6" y1="607.2" x2="83" y2="607.2" stroke="#2b6350" stroke-width="0.7"/>
<circle cx="81.8" cy="605.1" r="1.05" fill="#2b6350"/>
<line x1="87.8" y1="608.07" x2="87.8" y2="610.88" stroke="#2b6350" stroke-width="0.7"/>
<line x1="86.6" y1="608.07" x2="89" y2="608.07" stroke="#2b6350" stroke-width="0.7"/>
<line x1="86.6" y1="610.88" x2="89" y2="610.88" stroke="#2b6350" stroke-width="0.7"/>
<circle cx="87.8" cy="609.47" r="1.05" fill="#2b6350"/>
<line x1="94.2" y1="612.97" x2="94.2" y2="615.07" stroke="#2b6350" stroke-width="0.7"/>
<line x1="93" y1="612.97" x2="95.4" y2="612.97" stroke="#2b6350" stroke-width="0.7"/>
<line x1="93" y1="615.07" x2="95.4" y2="615.07" stroke="#2b6350" stroke-width="0.7"/>
<circle cx="94.2" cy="614.02" r="1.05" fill="#2b6350"/>
<line x1="100.7" y1="615.07" x2="100.7" y2="616.47" stroke="#2b6350" stroke-width="0.7"/>
<line x1="99.5" y1="615.07" x2="101.9" y2="615.07" stroke="#2b6350" stroke-width="0.7"/>
<line x1="99.5" y1="616.47" x2="101.9" y2="616.47" stroke="#2b6350" stroke-width="0.7"/>
<circle cx="100.7" cy="615.77" r="1.05" fill="#2b6350"/>
<line x1="106.8" y1="615.42" x2="106.8" y2="616.82" stroke="#2b6350" stroke-width="0.7"/>
<line x1="105.6" y1="615.42" x2="108" y2="615.42" stroke="#2b6350" stroke-width="0.7"/>
<line x1="105.6" y1="616.82" x2="108" y2="616.82" stroke="#2b6350" stroke-width="0.7"/>
<circle cx="106.8" cy="616.12" r="1.05" fill="#2b6350"/>
<line x1="113.1" y1="615.42" x2="113.1" y2="616.82" stroke="#2b6350" stroke-width="0.7"/>
<line x1="111.9" y1="615.42" x2="114.3" y2="615.42" stroke="#2b6350" stroke-width="0.7"/>
<line x1="111.9" y1="616.82" x2="114.3" y2="616.82" stroke="#2b6350" stroke-width="0.7"/>
<circle cx="113.1" cy="616.12" r="1.05" fill="#2b6350"/>
<polyline points="36.5,583.4 38.21,583.4 39.92,583.4 41.64,583.4 43.35,583.4 45.06,583.4 46.78,583.4 48.49,583.4 50.2,583.4 50.98,583.4 51.75,583.4 52.52,583.4 53.3,583.4 54.08,583.4 54.85,583.4 55.62,583.4 56.4,583.4 57.2,583.4 58,583.4 58.8,583.4 59.6,583.4 60.4,583.4 61.2,583.4 62,583.4 62.8,583.4 63.61,583.4 64.42,583.4 65.24,583.4 66.05,583.4 66.86,583.4 67.67,583.4 68.49,583.4 69.3,583.4 70.09,583.4 70.88,583.4 71.66,583.4 72.45,583.4 73.24,583.4 74.02,583.4 74.81,583.4 75.6,583.4 76.38,583.4 77.15,583.4 77.92,583.4 78.7,583.4 79.47,583.4 80.25,583.4 81.02,583.4 81.8,583.4 82.55,583.4 83.3,583.41 84.05,583.43 84.8,583.45 85.55,583.47 86.3,583.5 87.05,583.54 87.8,583.57 88.6,583.61 89.4,583.64 90.2,583.68 91,583.73 91.8,583.82 92.6,583.96 93.4,584.17 94.2,584.45 94.61,584.66 95.03,584.96 95.44,585.33 95.85,585.77 96.26,586.25 96.67,586.79 97.09,587.36 97.5,587.95 97.9,588.57 98.3,589.26 98.7,589.99 99.1,590.76 99.5,591.55 99.9,592.34 100.3,593.13 100.7,593.9 101.46,595.37 102.22,596.89 102.99,598.44 103.75,599.98 104.51,601.48 105.28,602.92 106.04,604.25 106.8,605.45 107.59,606.53 108.38,607.48 109.16,608.33 109.95,609.1 110.74,609.84 111.52,610.56 112.31,611.3 113.1,612.1" fill="none" stroke="#6cb043" stroke-width="1.15" stroke-linejoin="round"/>
<line x1="50.2" y1="577.1" x2="50.2" y2="589.7" stroke="#6cb043" stroke-width="0.7"/>
<line x1="49" y1="577.1" x2="51.4" y2="577.1" stroke="#6cb043" stroke-width="0.7"/>
<line x1="49" y1="589.7" x2="51.4" y2="589.7" stroke="#6cb043" stroke-width="0.7"/>
<circle cx="50.2" cy="583.4" r="1.05" fill="#6cb043"/>
<line x1="56.4" y1="577.45" x2="56.4" y2="589.35" stroke="#6cb043" stroke-width="0.7"/>
<line x1="55.2" y1="577.45" x2="57.6" y2="577.45" stroke="#6cb043" stroke-width="0.7"/>
<line x1="55.2" y1="589.35" x2="57.6" y2="589.35" stroke="#6cb043" stroke-width="0.7"/>
<circle cx="56.4" cy="583.4" r="1.05" fill="#6cb043"/>
<line x1="62.8" y1="578.15" x2="62.8" y2="588.65" stroke="#6cb043" stroke-width="0.7"/>
<line x1="61.6" y1="578.15" x2="64" y2="578.15" stroke="#6cb043" stroke-width="0.7"/>
<line x1="61.6" y1="588.65" x2="64" y2="588.65" stroke="#6cb043" stroke-width="0.7"/>
<circle cx="62.8" cy="583.4" r="1.05" fill="#6cb043"/>
<line x1="69.3" y1="580.6" x2="69.3" y2="586.2" stroke="#6cb043" stroke-width="0.7"/>
<line x1="68.1" y1="580.6" x2="70.5" y2="580.6" stroke="#6cb043" stroke-width="0.7"/>
<line x1="68.1" y1="586.2" x2="70.5" y2="586.2" stroke="#6cb043" stroke-width="0.7"/>
<circle cx="69.3" cy="583.4" r="1.05" fill="#6cb043"/>
<line x1="75.6" y1="580.6" x2="75.6" y2="586.2" stroke="#6cb043" stroke-width="0.7"/>
<line x1="74.4" y1="580.6" x2="76.8" y2="580.6" stroke="#6cb043" stroke-width="0.7"/>
<line x1="74.4" y1="586.2" x2="76.8" y2="586.2" stroke="#6cb043" stroke-width="0.7"/>
<circle cx="75.6" cy="583.4" r="1.05" fill="#6cb043"/>
<line x1="81.8" y1="579.9" x2="81.8" y2="586.9" stroke="#6cb043" stroke-width="0.7"/>
<line x1="80.6" y1="579.9" x2="83" y2="579.9" stroke="#6cb043" stroke-width="0.7"/>
<line x1="80.6" y1="586.9" x2="83" y2="586.9" stroke="#6cb043" stroke-width="0.7"/>
<circle cx="81.8" cy="583.4" r="1.05" fill="#6cb043"/>
<line x1="87.8" y1="580.07" x2="87.8" y2="587.07" stroke="#6cb043" stroke-width="0.7"/>
<line x1="86.6" y1="580.07" x2="89" y2="580.07" stroke="#6cb043" stroke-width="0.7"/>
<line x1="86.6" y1="587.07" x2="89" y2="587.07" stroke="#6cb043" stroke-width="0.7"/>
<circle cx="87.8" cy="583.57" r="1.05" fill="#6cb043"/>
<line x1="94.2" y1="581.65" x2="94.2" y2="587.25" stroke="#6cb043" stroke-width="0.7"/>
<line x1="93" y1="581.65" x2="95.4" y2="581.65" stroke="#6cb043" stroke-width="0.7"/>
<line x1="93" y1="587.25" x2="95.4" y2="587.25" stroke="#6cb043" stroke-width="0.7"/>
<circle cx="94.2" cy="584.45" r="1.05" fill="#6cb043"/>
<line x1="100.7" y1="591.8" x2="100.7" y2="596" stroke="#6cb043" stroke-width="0.7"/>
<line x1="99.5" y1="591.8" x2="101.9" y2="591.8" stroke="#6cb043" stroke-width="0.7"/>
<line x1="99.5" y1="596" x2="101.9" y2="596" stroke="#6cb043" stroke-width="0.7"/>
<circle cx="100.7" cy="593.9" r="1.05" fill="#6cb043"/>
<line x1="106.8" y1="603.7" x2="106.8" y2="607.2" stroke="#6cb043" stroke-width="0.7"/>
<line x1="105.6" y1="603.7" x2="108" y2="603.7" stroke="#6cb043" stroke-width="0.7"/>
<line x1="105.6" y1="607.2" x2="108" y2="607.2" stroke="#6cb043" stroke-width="0.7"/>
<circle cx="106.8" cy="605.45" r="1.05" fill="#6cb043"/>
<line x1="113.1" y1="610.7" x2="113.1" y2="613.5" stroke="#6cb043" stroke-width="0.7"/>
<line x1="111.9" y1="610.7" x2="114.3" y2="610.7" stroke="#6cb043" stroke-width="0.7"/>
<line x1="111.9" y1="613.5" x2="114.3" y2="613.5" stroke="#6cb043" stroke-width="0.7"/>
<circle cx="113.1" cy="612.1" r="1.05" fill="#6cb043"/>
<text x="208.5" y="556.2" font-size="7.9" text-anchor="middle" fill="#231f20" stroke="#231f20" stroke-width="0.1">NRAS single mutation</text>
<line x1="166.7" y1="561.7" x2="166.7" y2="620.3" stroke="#231f20" stroke-width="1.15"/>
<line x1="163.9" y1="616.3" x2="166.7" y2="616.3" stroke="#231f20" stroke-width="0.8"/>
<text font-size="5.5" text-anchor="end" fill="#231f20" transform="translate(160.7 618.3) scale(0.92 1)" stroke="#231f20" stroke-width="0.11">0</text>
<line x1="163.9" y1="598.93" x2="166.7" y2="598.93" stroke="#231f20" stroke-width="0.8"/>
<text font-size="5.5" text-anchor="end" fill="#231f20" transform="translate(160.7 600.93) scale(0.92 1)" stroke="#231f20" stroke-width="0.11">50</text>
<line x1="163.9" y1="581.57" x2="166.7" y2="581.57" stroke="#231f20" stroke-width="0.8"/>
<text font-size="5.5" text-anchor="end" fill="#231f20" transform="translate(160.7 583.57) scale(0.92 1)" stroke="#231f20" stroke-width="0.11">100</text>
<line x1="163.9" y1="564.2" x2="166.7" y2="564.2" stroke="#231f20" stroke-width="0.8"/>
<text font-size="5.5" text-anchor="end" fill="#231f20" transform="translate(160.7 566.2) scale(0.92 1)" stroke="#231f20" stroke-width="0.11">150</text>
<line x1="166.7" y1="619.7" x2="251.8" y2="619.7" stroke="#231f20" stroke-width="1.2"/>
<line x1="166.7" y1="619.7" x2="166.7" y2="622.3" stroke="#231f20" stroke-width="0.9"/>
<text x="166.7" y="630.7" font-size="5.4" text-anchor="middle" fill="#231f20" stroke="#231f20" stroke-width="0.1">1</text>
<line x1="187.5" y1="619.7" x2="187.5" y2="622.3" stroke="#231f20" stroke-width="0.9"/>
<text x="187.5" y="630.7" font-size="5.4" text-anchor="middle" fill="#231f20" stroke="#231f20" stroke-width="0.1">10</text>
<line x1="208.3" y1="619.7" x2="208.3" y2="622.3" stroke="#231f20" stroke-width="0.9"/>
<text x="208.3" y="630.7" font-size="5.4" text-anchor="middle" fill="#231f20" stroke="#231f20" stroke-width="0.1">100</text>
<line x1="229.1" y1="619.7" x2="229.1" y2="622.3" stroke="#231f20" stroke-width="0.9"/>
<text x="229.1" y="630.7" font-size="5.4" text-anchor="middle" fill="#231f20" stroke="#231f20" stroke-width="0.1">1000</text>
<line x1="249.9" y1="619.7" x2="249.9" y2="622.3" stroke="#231f20" stroke-width="0.9"/>
<text x="249.9" y="630.7" font-size="5.4" text-anchor="middle" fill="#231f20" stroke="#231f20" stroke-width="0.1">10000</text>
<text x="208.5" y="642.8" font-size="8.1" text-anchor="middle" fill="#231f20" stroke="#231f20" stroke-width="0.1">Concentration (nM)</text>
<text font-size="8.2" text-anchor="middle" fill="#231f20" transform="translate(145 590.4) rotate(-90)" stroke="#231f20" stroke-width="0.1">Viability %</text>
<polyline points="166.6,581.57 168.28,581.65 169.95,581.74 171.62,581.83 173.3,581.91 174.97,582 176.65,582.09 178.32,582.17 180,582.26 180.8,582.3 181.6,582.34 182.4,582.38 183.2,582.41 184,582.45 184.8,582.5 185.6,582.55 186.4,582.61 187.2,582.68 188,582.75 188.8,582.83 189.6,582.92 190.4,583.01 191.2,583.11 192,583.2 192.8,583.3 193.55,583.39 194.3,583.47 195.05,583.56 195.8,583.64 196.55,583.74 197.3,583.86 198.05,584 198.8,584.17 199.58,584.37 200.35,584.56 201.12,584.77 201.9,585 202.68,585.27 203.45,585.59 204.22,585.97 205,586.43 205.8,586.99 206.6,587.65 207.4,588.37 208.2,589.14 209,589.95 209.8,590.76 210.6,591.56 211.4,592.33 212.12,593.02 212.85,593.71 213.57,594.4 214.3,595.1 215.03,595.8 215.75,596.5 216.47,597.19 217.2,597.89 218.01,598.67 218.82,599.45 219.64,600.23 220.45,601.01 221.26,601.79 222.07,602.57 222.89,603.36 223.7,604.14 224.47,604.92 225.25,605.73 226.03,606.55 226.8,607.36 227.57,608.16 228.35,608.91 229.12,609.61 229.9,610.22 230.71,610.8 231.53,611.33 232.34,611.81 233.15,612.24 233.96,612.62 234.78,612.95 235.59,613.21 236.4,613.42 237.16,613.56 237.93,613.66 238.69,613.72 239.45,613.76 240.21,613.79 240.97,613.81 241.74,613.83 242.5,613.87" fill="none" stroke="#bdb98c" stroke-width="1.15" stroke-linejoin="round"/>
<line x1="180" y1="580.52" x2="180" y2="584" stroke="#bdb98c" stroke-width="0.7"/>
<line x1="178.8" y1="580.52" x2="181.2" y2="580.52" stroke="#bdb98c" stroke-width="0.7"/>
<line x1="178.8" y1="584" x2="181.2" y2="584" stroke="#bdb98c" stroke-width="0.7"/>
<circle cx="180" cy="582.26" r="1.05" fill="#bdb98c"/>
<line x1="186.4" y1="581.22" x2="186.4" y2="584" stroke="#bdb98c" stroke-width="0.7"/>
<line x1="185.2" y1="581.22" x2="187.6" y2="581.22" stroke="#bdb98c" stroke-width="0.7"/>
<line x1="185.2" y1="584" x2="187.6" y2="584" stroke="#bdb98c" stroke-width="0.7"/>
<circle cx="186.4" cy="582.61" r="1.05" fill="#bdb98c"/>
<line x1="192.8" y1="581.91" x2="192.8" y2="584.69" stroke="#bdb98c" stroke-width="0.7"/>
<line x1="191.6" y1="581.91" x2="194" y2="581.91" stroke="#bdb98c" stroke-width="0.7"/>
<line x1="191.6" y1="584.69" x2="194" y2="584.69" stroke="#bdb98c" stroke-width="0.7"/>
<circle cx="192.8" cy="583.3" r="1.05" fill="#bdb98c"/>
<line x1="198.8" y1="582.78" x2="198.8" y2="585.56" stroke="#bdb98c" stroke-width="0.7"/>
<line x1="197.6" y1="582.78" x2="200" y2="582.78" stroke="#bdb98c" stroke-width="0.7"/>
<line x1="197.6" y1="585.56" x2="200" y2="585.56" stroke="#bdb98c" stroke-width="0.7"/>
<circle cx="198.8" cy="584.17" r="1.05" fill="#bdb98c"/>
<line x1="205" y1="585.04" x2="205" y2="587.82" stroke="#bdb98c" stroke-width="0.7"/>
<line x1="203.8" y1="585.04" x2="206.2" y2="585.04" stroke="#bdb98c" stroke-width="0.7"/>
<line x1="203.8" y1="587.82" x2="206.2" y2="587.82" stroke="#bdb98c" stroke-width="0.7"/>
<circle cx="205" cy="586.43" r="1.05" fill="#bdb98c"/>
<line x1="211.4" y1="590.6" x2="211.4" y2="594.07" stroke="#bdb98c" stroke-width="0.7"/>
<line x1="210.2" y1="590.6" x2="212.6" y2="590.6" stroke="#bdb98c" stroke-width="0.7"/>
<line x1="210.2" y1="594.07" x2="212.6" y2="594.07" stroke="#bdb98c" stroke-width="0.7"/>
<circle cx="211.4" cy="592.33" r="1.05" fill="#bdb98c"/>
<line x1="217.2" y1="596.15" x2="217.2" y2="599.63" stroke="#bdb98c" stroke-width="0.7"/>
<line x1="216" y1="596.15" x2="218.4" y2="596.15" stroke="#bdb98c" stroke-width="0.7"/>
<line x1="216" y1="599.63" x2="218.4" y2="599.63" stroke="#bdb98c" stroke-width="0.7"/>
<circle cx="217.2" cy="597.89" r="1.05" fill="#bdb98c"/>
<line x1="223.7" y1="602.41" x2="223.7" y2="605.88" stroke="#bdb98c" stroke-width="0.7"/>
<line x1="222.5" y1="602.41" x2="224.9" y2="602.41" stroke="#bdb98c" stroke-width="0.7"/>
<line x1="222.5" y1="605.88" x2="224.9" y2="605.88" stroke="#bdb98c" stroke-width="0.7"/>
<circle cx="223.7" cy="604.14" r="1.05" fill="#bdb98c"/>
<line x1="229.9" y1="608.83" x2="229.9" y2="611.61" stroke="#bdb98c" stroke-width="0.7"/>
<line x1="228.7" y1="608.83" x2="231.1" y2="608.83" stroke="#bdb98c" stroke-width="0.7"/>
<line x1="228.7" y1="611.61" x2="231.1" y2="611.61" stroke="#bdb98c" stroke-width="0.7"/>
<circle cx="229.9" cy="610.22" r="1.05" fill="#bdb98c"/>
<line x1="236.4" y1="612.38" x2="236.4" y2="614.46" stroke="#bdb98c" stroke-width="0.7"/>
<line x1="235.2" y1="612.38" x2="237.6" y2="612.38" stroke="#bdb98c" stroke-width="0.7"/>
<line x1="235.2" y1="614.46" x2="237.6" y2="614.46" stroke="#bdb98c" stroke-width="0.7"/>
<circle cx="236.4" cy="613.42" r="1.05" fill="#bdb98c"/>
<line x1="242.5" y1="612.83" x2="242.5" y2="614.91" stroke="#bdb98c" stroke-width="0.7"/>
<line x1="241.3" y1="612.83" x2="243.7" y2="612.83" stroke="#bdb98c" stroke-width="0.7"/>
<line x1="241.3" y1="614.91" x2="243.7" y2="614.91" stroke="#bdb98c" stroke-width="0.7"/>
<circle cx="242.5" cy="613.87" r="1.05" fill="#bdb98c"/>
<polyline points="166.6,581.57 168.28,581.69 169.95,581.8 171.62,581.91 173.3,582.02 174.97,582.13 176.65,582.27 178.32,582.42 180,582.61 180.8,582.7 181.6,582.79 182.4,582.88 183.2,582.99 184,583.11 184.8,583.26 185.6,583.43 186.4,583.65 187.2,583.9 188,584.18 188.8,584.48 189.6,584.8 190.4,585.16 191.2,585.55 192,585.97 192.8,586.43 193.55,586.9 194.3,587.41 195.05,587.96 195.8,588.53 196.55,589.13 197.3,589.73 198.05,590.34 198.8,590.94 199.58,591.56 200.35,592.17 201.12,592.79 201.9,593.42 202.68,594.07 203.45,594.73 204.22,595.43 205,596.15 205.8,596.95 206.6,597.8 207.4,598.68 208.2,599.58 209,600.49 209.8,601.39 210.6,602.26 211.4,603.1 212.12,603.84 212.85,604.58 213.57,605.32 214.3,606.04 215.03,606.74 215.75,607.41 216.47,608.05 217.2,608.66 218.01,609.29 218.82,609.89 219.64,610.46 220.45,611 221.26,611.5 222.07,611.99 222.89,612.45 223.7,612.9 224.47,613.3 225.25,613.7 226.03,614.07 226.8,614.41 227.57,614.73 228.35,615.02 229.12,615.28 229.9,615.5 230.71,615.68 231.53,615.82 232.34,615.91 233.15,615.97 233.96,616.02 234.78,616.05 235.59,616.08 236.4,616.13 237.16,616.17 237.93,616.2 238.69,616.22 239.45,616.24 240.21,616.25 240.97,616.27 241.74,616.28 242.5,616.3" fill="none" stroke="#e28b22" stroke-width="1.15" stroke-linejoin="round"/>
<line x1="180" y1="581.22" x2="180" y2="584" stroke="#e28b22" stroke-width="0.7"/>
<line x1="178.8" y1="581.22" x2="181.2" y2="581.22" stroke="#e28b22" stroke-width="0.7"/>
<line x1="178.8" y1="584" x2="181.2" y2="584" stroke="#e28b22" stroke-width="0.7"/>
<circle cx="180" cy="582.61" r="1.05" fill="#e28b22"/>
<line x1="186.4" y1="582.26" x2="186.4" y2="585.04" stroke="#e28b22" stroke-width="0.7"/>
<line x1="185.2" y1="582.26" x2="187.6" y2="582.26" stroke="#e28b22" stroke-width="0.7"/>
<line x1="185.2" y1="585.04" x2="187.6" y2="585.04" stroke="#e28b22" stroke-width="0.7"/>
<circle cx="186.4" cy="583.65" r="1.05" fill="#e28b22"/>
<line x1="192.8" y1="585.04" x2="192.8" y2="587.82" stroke="#e28b22" stroke-width="0.7"/>
<line x1="191.6" y1="585.04" x2="194" y2="585.04" stroke="#e28b22" stroke-width="0.7"/>
<line x1="191.6" y1="587.82" x2="194" y2="587.82" stroke="#e28b22" stroke-width="0.7"/>
<circle cx="192.8" cy="586.43" r="1.05" fill="#e28b22"/>
<line x1="198.8" y1="589.21" x2="198.8" y2="592.68" stroke="#e28b22" stroke-width="0.7"/>
<line x1="197.6" y1="589.21" x2="200" y2="589.21" stroke="#e28b22" stroke-width="0.7"/>
<line x1="197.6" y1="592.68" x2="200" y2="592.68" stroke="#e28b22" stroke-width="0.7"/>
<circle cx="198.8" cy="590.94" r="1.05" fill="#e28b22"/>
<line x1="205" y1="594.42" x2="205" y2="597.89" stroke="#e28b22" stroke-width="0.7"/>
<line x1="203.8" y1="594.42" x2="206.2" y2="594.42" stroke="#e28b22" stroke-width="0.7"/>
<line x1="203.8" y1="597.89" x2="206.2" y2="597.89" stroke="#e28b22" stroke-width="0.7"/>
<circle cx="205" cy="596.15" r="1.05" fill="#e28b22"/>
<line x1="211.4" y1="601.71" x2="211.4" y2="604.49" stroke="#e28b22" stroke-width="0.7"/>
<line x1="210.2" y1="601.71" x2="212.6" y2="601.71" stroke="#e28b22" stroke-width="0.7"/>
<line x1="210.2" y1="604.49" x2="212.6" y2="604.49" stroke="#e28b22" stroke-width="0.7"/>
<circle cx="211.4" cy="603.1" r="1.05" fill="#e28b22"/>
<line x1="217.2" y1="607.62" x2="217.2" y2="609.7" stroke="#e28b22" stroke-width="0.7"/>
<line x1="216" y1="607.62" x2="218.4" y2="607.62" stroke="#e28b22" stroke-width="0.7"/>
<line x1="216" y1="609.7" x2="218.4" y2="609.7" stroke="#e28b22" stroke-width="0.7"/>
<circle cx="217.2" cy="608.66" r="1.05" fill="#e28b22"/>
<line x1="223.7" y1="612.2" x2="223.7" y2="613.59" stroke="#e28b22" stroke-width="0.7"/>
<line x1="222.5" y1="612.2" x2="224.9" y2="612.2" stroke="#e28b22" stroke-width="0.7"/>
<line x1="222.5" y1="613.59" x2="224.9" y2="613.59" stroke="#e28b22" stroke-width="0.7"/>
<circle cx="223.7" cy="612.9" r="1.05" fill="#e28b22"/>
<line x1="229.9" y1="614.81" x2="229.9" y2="616.2" stroke="#e28b22" stroke-width="0.7"/>
<line x1="228.7" y1="614.81" x2="231.1" y2="614.81" stroke="#e28b22" stroke-width="0.7"/>
<line x1="228.7" y1="616.2" x2="231.1" y2="616.2" stroke="#e28b22" stroke-width="0.7"/>
<circle cx="229.9" cy="615.5" r="1.05" fill="#e28b22"/>
<line x1="236.4" y1="615.78" x2="236.4" y2="616.47" stroke="#e28b22" stroke-width="0.7"/>
<line x1="235.2" y1="615.78" x2="237.6" y2="615.78" stroke="#e28b22" stroke-width="0.7"/>
<line x1="235.2" y1="616.47" x2="237.6" y2="616.47" stroke="#e28b22" stroke-width="0.7"/>
<circle cx="236.4" cy="616.13" r="1.05" fill="#e28b22"/>
<line x1="242.5" y1="615.95" x2="242.5" y2="616.65" stroke="#e28b22" stroke-width="0.7"/>
<line x1="241.3" y1="615.95" x2="243.7" y2="615.95" stroke="#e28b22" stroke-width="0.7"/>
<line x1="241.3" y1="616.65" x2="243.7" y2="616.65" stroke="#e28b22" stroke-width="0.7"/>
<circle cx="242.5" cy="616.3" r="1.05" fill="#e28b22"/>
<polyline points="166.6,581.57 168.28,583.2 169.95,584.86 171.62,586.54 173.3,588.2 174.97,589.85 176.65,591.44 178.32,592.97 180,594.42 180.8,595.07 181.6,595.69 182.4,596.28 183.2,596.84 184,597.39 184.8,597.92 185.6,598.43 186.4,598.93 187.2,599.41 188,599.86 188.8,600.29 189.6,600.7 190.4,601.11 191.2,601.52 192,601.95 192.8,602.41 193.55,602.86 194.3,603.35 195.05,603.85 195.8,604.35 196.55,604.85 197.3,605.34 198.05,605.8 198.8,606.23 199.58,606.64 200.35,607.04 201.12,607.42 201.9,607.78 202.68,608.12 203.45,608.44 204.22,608.74 205,609.01 205.8,609.25 206.6,609.47 207.4,609.65 208.2,609.82 209,609.97 209.8,610.11 210.6,610.25 211.4,610.4 212.12,610.52 212.85,610.63 213.57,610.73 214.3,610.82 215.03,610.92 215.75,611.02 216.47,611.13 217.2,611.26 218.01,611.44 218.82,611.64 219.64,611.85 220.45,612.07 221.26,612.28 222.07,612.49 222.89,612.67 223.7,612.83 224.47,612.94 225.25,613.04 226.03,613.12 226.8,613.19 227.57,613.25 228.35,613.3 229.12,613.36 229.9,613.42 230.71,613.49 231.53,613.56 232.34,613.64 233.15,613.71 233.96,613.77 234.78,613.82 235.59,613.86 236.4,613.87 237.16,613.87 237.93,613.87 238.69,613.87 239.45,613.87 240.21,613.87 240.97,613.87 241.74,613.87 242.5,613.87" fill="none" stroke="#2c4b8d" stroke-width="1.15" stroke-linejoin="round"/>
<line x1="180" y1="592.33" x2="180" y2="596.5" stroke="#2c4b8d" stroke-width="0.7"/>
<line x1="178.8" y1="592.33" x2="181.2" y2="592.33" stroke="#2c4b8d" stroke-width="0.7"/>
<line x1="178.8" y1="596.5" x2="181.2" y2="596.5" stroke="#2c4b8d" stroke-width="0.7"/>
<circle cx="180" cy="594.42" r="1.05" fill="#2c4b8d"/>
<line x1="186.4" y1="597.2" x2="186.4" y2="600.67" stroke="#2c4b8d" stroke-width="0.7"/>
<line x1="185.2" y1="597.2" x2="187.6" y2="597.2" stroke="#2c4b8d" stroke-width="0.7"/>
<line x1="185.2" y1="600.67" x2="187.6" y2="600.67" stroke="#2c4b8d" stroke-width="0.7"/>
<circle cx="186.4" cy="598.93" r="1.05" fill="#2c4b8d"/>
<line x1="192.8" y1="600.32" x2="192.8" y2="604.49" stroke="#2c4b8d" stroke-width="0.7"/>
<line x1="191.6" y1="600.32" x2="194" y2="600.32" stroke="#2c4b8d" stroke-width="0.7"/>
<line x1="191.6" y1="604.49" x2="194" y2="604.49" stroke="#2c4b8d" stroke-width="0.7"/>
<circle cx="192.8" cy="602.41" r="1.05" fill="#2c4b8d"/>
<line x1="198.8" y1="603.45" x2="198.8" y2="609.01" stroke="#2c4b8d" stroke-width="0.7"/>
<line x1="197.6" y1="603.45" x2="200" y2="603.45" stroke="#2c4b8d" stroke-width="0.7"/>
<line x1="197.6" y1="609.01" x2="200" y2="609.01" stroke="#2c4b8d" stroke-width="0.7"/>
<circle cx="198.8" cy="606.23" r="1.05" fill="#2c4b8d"/>
<line x1="205" y1="607.27" x2="205" y2="610.74" stroke="#2c4b8d" stroke-width="0.7"/>
<line x1="203.8" y1="607.27" x2="206.2" y2="607.27" stroke="#2c4b8d" stroke-width="0.7"/>
<line x1="203.8" y1="610.74" x2="206.2" y2="610.74" stroke="#2c4b8d" stroke-width="0.7"/>
<circle cx="205" cy="609.01" r="1.05" fill="#2c4b8d"/>
<line x1="211.4" y1="609.01" x2="211.4" y2="611.78" stroke="#2c4b8d" stroke-width="0.7"/>
<line x1="210.2" y1="609.01" x2="212.6" y2="609.01" stroke="#2c4b8d" stroke-width="0.7"/>
<line x1="210.2" y1="611.78" x2="212.6" y2="611.78" stroke="#2c4b8d" stroke-width="0.7"/>
<circle cx="211.4" cy="610.4" r="1.05" fill="#2c4b8d"/>
<line x1="217.2" y1="610.22" x2="217.2" y2="612.31" stroke="#2c4b8d" stroke-width="0.7"/>
<line x1="216" y1="610.22" x2="218.4" y2="610.22" stroke="#2c4b8d" stroke-width="0.7"/>
<line x1="216" y1="612.31" x2="218.4" y2="612.31" stroke="#2c4b8d" stroke-width="0.7"/>
<circle cx="217.2" cy="611.26" r="1.05" fill="#2c4b8d"/>
<line x1="223.7" y1="611.78" x2="223.7" y2="613.87" stroke="#2c4b8d" stroke-width="0.7"/>
<line x1="222.5" y1="611.78" x2="224.9" y2="611.78" stroke="#2c4b8d" stroke-width="0.7"/>
<line x1="222.5" y1="613.87" x2="224.9" y2="613.87" stroke="#2c4b8d" stroke-width="0.7"/>
<circle cx="223.7" cy="612.83" r="1.05" fill="#2c4b8d"/>
<line x1="229.9" y1="612.72" x2="229.9" y2="614.11" stroke="#2c4b8d" stroke-width="0.7"/>
<line x1="228.7" y1="612.72" x2="231.1" y2="612.72" stroke="#2c4b8d" stroke-width="0.7"/>
<line x1="228.7" y1="614.11" x2="231.1" y2="614.11" stroke="#2c4b8d" stroke-width="0.7"/>
<circle cx="229.9" cy="613.42" r="1.05" fill="#2c4b8d"/>
<line x1="236.4" y1="613.17" x2="236.4" y2="614.56" stroke="#2c4b8d" stroke-width="0.7"/>
<line x1="235.2" y1="613.17" x2="237.6" y2="613.17" stroke="#2c4b8d" stroke-width="0.7"/>
<line x1="235.2" y1="614.56" x2="237.6" y2="614.56" stroke="#2c4b8d" stroke-width="0.7"/>
<circle cx="236.4" cy="613.87" r="1.05" fill="#2c4b8d"/>
<line x1="242.5" y1="613.17" x2="242.5" y2="614.56" stroke="#2c4b8d" stroke-width="0.7"/>
<line x1="241.3" y1="613.17" x2="243.7" y2="613.17" stroke="#2c4b8d" stroke-width="0.7"/>
<line x1="241.3" y1="614.56" x2="243.7" y2="614.56" stroke="#2c4b8d" stroke-width="0.7"/>
<circle cx="242.5" cy="613.87" r="1.05" fill="#2c4b8d"/>
<polyline points="166.6,581.57 168.28,583.32 169.95,585.09 171.62,586.88 173.3,588.65 174.97,590.42 176.65,592.15 178.32,593.83 180,595.46 180.8,596.22 181.6,596.97 182.4,597.7 183.2,598.41 184,599.11 184.8,599.78 185.6,600.41 186.4,601.02 187.2,601.58 188,602.1 188.8,602.58 189.6,603.04 190.4,603.49 191.2,603.93 192,604.38 192.8,604.84 193.55,605.28 194.3,605.73 195.05,606.18 195.8,606.63 196.55,607.07 197.3,607.5 198.05,607.92 198.8,608.31 199.58,608.71 200.35,609.1 201.12,609.48 201.9,609.84 202.68,610.19 203.45,610.52 204.22,610.82 205,611.09 205.8,611.34 206.6,611.56 207.4,611.76 208.2,611.93 209,612.08 209.8,612.22 210.6,612.35 211.4,612.48 212.12,612.58 212.85,612.66 213.57,612.72 214.3,612.77 215.03,612.82 215.75,612.87 216.47,612.93 217.2,613 218.01,613.1 218.82,613.21 219.64,613.34 220.45,613.46 221.26,613.58 222.07,613.69 222.89,613.79 223.7,613.87 224.47,613.92 225.25,613.97 226.03,614 226.8,614.02 227.57,614.03 228.35,614.04 229.12,614.04 229.9,614.04 230.71,614.04 231.53,614.04 232.34,614.04 233.15,614.04 233.96,614.04 234.78,614.04 235.59,614.04 236.4,614.04 237.16,614.04 237.93,614.04 238.69,614.04 239.45,614.04 240.21,614.04 240.97,614.04 241.74,614.04 242.5,614.04" fill="none" stroke="#2b6350" stroke-width="1.15" stroke-linejoin="round"/>
<line x1="180" y1="593.72" x2="180" y2="597.2" stroke="#2b6350" stroke-width="0.7"/>
<line x1="178.8" y1="593.72" x2="181.2" y2="593.72" stroke="#2b6350" stroke-width="0.7"/>
<line x1="178.8" y1="597.2" x2="181.2" y2="597.2" stroke="#2b6350" stroke-width="0.7"/>
<circle cx="180" cy="595.46" r="1.05" fill="#2b6350"/>
<line x1="186.4" y1="598.93" x2="186.4" y2="603.1" stroke="#2b6350" stroke-width="0.7"/>
<line x1="185.2" y1="598.93" x2="187.6" y2="598.93" stroke="#2b6350" stroke-width="0.7"/>
<line x1="185.2" y1="603.1" x2="187.6" y2="603.1" stroke="#2b6350" stroke-width="0.7"/>
<circle cx="186.4" cy="601.02" r="1.05" fill="#2b6350"/>
<line x1="192.8" y1="602.75" x2="192.8" y2="606.92" stroke="#2b6350" stroke-width="0.7"/>
<line x1="191.6" y1="602.75" x2="194" y2="602.75" stroke="#2b6350" stroke-width="0.7"/>
<line x1="191.6" y1="606.92" x2="194" y2="606.92" stroke="#2b6350" stroke-width="0.7"/>
<circle cx="192.8" cy="604.84" r="1.05" fill="#2b6350"/>
<line x1="198.8" y1="606.57" x2="198.8" y2="610.05" stroke="#2b6350" stroke-width="0.7"/>
<line x1="197.6" y1="606.57" x2="200" y2="606.57" stroke="#2b6350" stroke-width="0.7"/>
<line x1="197.6" y1="610.05" x2="200" y2="610.05" stroke="#2b6350" stroke-width="0.7"/>
<circle cx="198.8" cy="608.31" r="1.05" fill="#2b6350"/>
<line x1="205" y1="609.7" x2="205" y2="612.48" stroke="#2b6350" stroke-width="0.7"/>
<line x1="203.8" y1="609.7" x2="206.2" y2="609.7" stroke="#2b6350" stroke-width="0.7"/>
<line x1="203.8" y1="612.48" x2="206.2" y2="612.48" stroke="#2b6350" stroke-width="0.7"/>
<circle cx="205" cy="611.09" r="1.05" fill="#2b6350"/>
<line x1="211.4" y1="611.44" x2="211.4" y2="613.52" stroke="#2b6350" stroke-width="0.7"/>
<line x1="210.2" y1="611.44" x2="212.6" y2="611.44" stroke="#2b6350" stroke-width="0.7"/>
<line x1="210.2" y1="613.52" x2="212.6" y2="613.52" stroke="#2b6350" stroke-width="0.7"/>
<circle cx="211.4" cy="612.48" r="1.05" fill="#2b6350"/>
<line x1="217.2" y1="611.96" x2="217.2" y2="614.04" stroke="#2b6350" stroke-width="0.7"/>
<line x1="216" y1="611.96" x2="218.4" y2="611.96" stroke="#2b6350" stroke-width="0.7"/>
<line x1="216" y1="614.04" x2="218.4" y2="614.04" stroke="#2b6350" stroke-width="0.7"/>
<circle cx="217.2" cy="613" r="1.05" fill="#2b6350"/>
<line x1="223.7" y1="613.17" x2="223.7" y2="614.56" stroke="#2b6350" stroke-width="0.7"/>
<line x1="222.5" y1="613.17" x2="224.9" y2="613.17" stroke="#2b6350" stroke-width="0.7"/>
<line x1="222.5" y1="614.56" x2="224.9" y2="614.56" stroke="#2b6350" stroke-width="0.7"/>
<circle cx="223.7" cy="613.87" r="1.05" fill="#2b6350"/>
<line x1="229.9" y1="613.35" x2="229.9" y2="614.74" stroke="#2b6350" stroke-width="0.7"/>
<line x1="228.7" y1="613.35" x2="231.1" y2="613.35" stroke="#2b6350" stroke-width="0.7"/>
<line x1="228.7" y1="614.74" x2="231.1" y2="614.74" stroke="#2b6350" stroke-width="0.7"/>
<circle cx="229.9" cy="614.04" r="1.05" fill="#2b6350"/>
<line x1="236.4" y1="613.35" x2="236.4" y2="614.74" stroke="#2b6350" stroke-width="0.7"/>
<line x1="235.2" y1="613.35" x2="237.6" y2="613.35" stroke="#2b6350" stroke-width="0.7"/>
<line x1="235.2" y1="614.74" x2="237.6" y2="614.74" stroke="#2b6350" stroke-width="0.7"/>
<circle cx="236.4" cy="614.04" r="1.05" fill="#2b6350"/>
<line x1="242.5" y1="613.35" x2="242.5" y2="614.74" stroke="#2b6350" stroke-width="0.7"/>
<line x1="241.3" y1="613.35" x2="243.7" y2="613.35" stroke="#2b6350" stroke-width="0.7"/>
<line x1="241.3" y1="614.74" x2="243.7" y2="614.74" stroke="#2b6350" stroke-width="0.7"/>
<circle cx="242.5" cy="614.04" r="1.05" fill="#2b6350"/>
<polyline points="166.6,580.52 168.28,580.62 169.95,580.71 171.62,580.81 173.3,580.91 174.97,581.01 176.65,581.09 178.32,581.16 180,581.22 180.8,581.24 181.6,581.25 182.4,581.26 183.2,581.27 184,581.28 184.8,581.31 185.6,581.34 186.4,581.39 187.2,581.47 188,581.58 188.8,581.71 189.6,581.87 190.4,582.04 191.2,582.23 192,582.42 192.8,582.61 193.55,582.79 194.3,582.97 195.05,583.16 195.8,583.36 196.55,583.57 197.3,583.81 198.05,584.06 198.8,584.35 199.58,584.67 200.35,585.03 201.12,585.41 201.9,585.81 202.68,586.22 203.45,586.64 204.22,587.06 205,587.47 205.8,587.89 206.6,588.3 207.4,588.72 208.2,589.15 209,589.58 209.8,590.02 210.6,590.47 211.4,590.94 212.12,591.39 212.85,591.86 213.57,592.35 214.3,592.84 215.03,593.33 215.75,593.82 216.47,594.3 217.2,594.77 218.01,595.27 218.82,595.78 219.64,596.29 220.45,596.78 221.26,597.27 222.07,597.73 222.89,598.17 223.7,598.59 224.47,598.95 225.25,599.27 226.03,599.58 226.8,599.86 227.57,600.14 228.35,600.42 229.12,600.71 229.9,601.02 230.71,601.33 231.53,601.63 232.34,601.92 233.15,602.22 233.96,602.54 234.78,602.9 235.59,603.31 236.4,603.8 237.16,604.32 237.93,604.92 238.69,605.56 239.45,606.24 240.21,606.94 240.97,607.64 241.74,608.34 242.5,609.01" fill="none" stroke="#a3283d" stroke-width="1.15" stroke-linejoin="round"/>
<line x1="180" y1="578.44" x2="180" y2="584" stroke="#a3283d" stroke-width="0.7"/>
<line x1="178.8" y1="578.44" x2="181.2" y2="578.44" stroke="#a3283d" stroke-width="0.7"/>
<line x1="178.8" y1="584" x2="181.2" y2="584" stroke="#a3283d" stroke-width="0.7"/>
<circle cx="180" cy="581.22" r="1.05" fill="#a3283d"/>
<line x1="186.4" y1="577.23" x2="186.4" y2="585.56" stroke="#a3283d" stroke-width="0.7"/>
<line x1="185.2" y1="577.23" x2="187.6" y2="577.23" stroke="#a3283d" stroke-width="0.7"/>
<line x1="185.2" y1="585.56" x2="187.6" y2="585.56" stroke="#a3283d" stroke-width="0.7"/>
<circle cx="186.4" cy="581.39" r="1.05" fill="#a3283d"/>
<line x1="192.8" y1="580.52" x2="192.8" y2="584.69" stroke="#a3283d" stroke-width="0.7"/>
<line x1="191.6" y1="580.52" x2="194" y2="580.52" stroke="#a3283d" stroke-width="0.7"/>
<line x1="191.6" y1="584.69" x2="194" y2="584.69" stroke="#a3283d" stroke-width="0.7"/>
<circle cx="192.8" cy="582.61" r="1.05" fill="#a3283d"/>
<line x1="198.8" y1="582.26" x2="198.8" y2="586.43" stroke="#a3283d" stroke-width="0.7"/>
<line x1="197.6" y1="582.26" x2="200" y2="582.26" stroke="#a3283d" stroke-width="0.7"/>
<line x1="197.6" y1="586.43" x2="200" y2="586.43" stroke="#a3283d" stroke-width="0.7"/>
<circle cx="198.8" cy="584.35" r="1.05" fill="#a3283d"/>
<line x1="205" y1="584.69" x2="205" y2="590.25" stroke="#a3283d" stroke-width="0.7"/>
<line x1="203.8" y1="584.69" x2="206.2" y2="584.69" stroke="#a3283d" stroke-width="0.7"/>
<line x1="203.8" y1="590.25" x2="206.2" y2="590.25" stroke="#a3283d" stroke-width="0.7"/>
<circle cx="205" cy="587.47" r="1.05" fill="#a3283d"/>
<line x1="211.4" y1="585.39" x2="211.4" y2="596.5" stroke="#a3283d" stroke-width="0.7"/>
<line x1="210.2" y1="585.39" x2="212.6" y2="585.39" stroke="#a3283d" stroke-width="0.7"/>
<line x1="210.2" y1="596.5" x2="212.6" y2="596.5" stroke="#a3283d" stroke-width="0.7"/>
<circle cx="211.4" cy="590.94" r="1.05" fill="#a3283d"/>
<line x1="217.2" y1="591.99" x2="217.2" y2="597.54" stroke="#a3283d" stroke-width="0.7"/>
<line x1="216" y1="591.99" x2="218.4" y2="591.99" stroke="#a3283d" stroke-width="0.7"/>
<line x1="216" y1="597.54" x2="218.4" y2="597.54" stroke="#a3283d" stroke-width="0.7"/>
<circle cx="217.2" cy="594.77" r="1.05" fill="#a3283d"/>
<line x1="223.7" y1="596.5" x2="223.7" y2="600.67" stroke="#a3283d" stroke-width="0.7"/>
<line x1="222.5" y1="596.5" x2="224.9" y2="596.5" stroke="#a3283d" stroke-width="0.7"/>
<line x1="222.5" y1="600.67" x2="224.9" y2="600.67" stroke="#a3283d" stroke-width="0.7"/>
<circle cx="223.7" cy="598.59" r="1.05" fill="#a3283d"/>
<line x1="229.9" y1="598.93" x2="229.9" y2="603.1" stroke="#a3283d" stroke-width="0.7"/>
<line x1="228.7" y1="598.93" x2="231.1" y2="598.93" stroke="#a3283d" stroke-width="0.7"/>
<line x1="228.7" y1="603.1" x2="231.1" y2="603.1" stroke="#a3283d" stroke-width="0.7"/>
<circle cx="229.9" cy="601.02" r="1.05" fill="#a3283d"/>
<line x1="236.4" y1="601.71" x2="236.4" y2="605.88" stroke="#a3283d" stroke-width="0.7"/>
<line x1="235.2" y1="601.71" x2="237.6" y2="601.71" stroke="#a3283d" stroke-width="0.7"/>
<line x1="235.2" y1="605.88" x2="237.6" y2="605.88" stroke="#a3283d" stroke-width="0.7"/>
<circle cx="236.4" cy="603.8" r="1.05" fill="#a3283d"/>
<line x1="242.5" y1="606.23" x2="242.5" y2="611.78" stroke="#a3283d" stroke-width="0.7"/>
<line x1="241.3" y1="606.23" x2="243.7" y2="606.23" stroke="#a3283d" stroke-width="0.7"/>
<line x1="241.3" y1="611.78" x2="243.7" y2="611.78" stroke="#a3283d" stroke-width="0.7"/>
<circle cx="242.5" cy="609.01" r="1.05" fill="#a3283d"/>
<polyline points="166.6,581.91 168.28,582 169.95,582.08 171.62,582.16 173.3,582.24 174.97,582.32 176.65,582.41 178.32,582.5 180,582.61 180.8,582.66 181.6,582.73 182.4,582.79 183.2,582.86 184,582.93 184.8,582.99 185.6,583.06 186.4,583.13 187.2,583.19 188,583.25 188.8,583.3 189.6,583.35 190.4,583.41 191.2,583.48 192,583.56 192.8,583.65 193.55,583.75 194.3,583.87 195.05,583.99 195.8,584.13 196.55,584.27 197.3,584.41 198.05,584.55 198.8,584.69 199.58,584.84 200.35,584.98 201.12,585.13 201.9,585.27 202.68,585.42 203.45,585.58 204.22,585.74 205,585.91 205.8,586.08 206.6,586.25 207.4,586.42 208.2,586.6 209,586.79 209.8,586.99 210.6,587.22 211.4,587.47 212.12,587.72 212.85,588 213.57,588.29 214.3,588.6 215.03,588.92 215.75,589.25 216.47,589.57 217.2,589.9 218.01,590.28 218.82,590.68 219.64,591.09 220.45,591.5 221.26,591.91 222.07,592.3 222.89,592.68 223.7,593.03 224.47,593.34 225.25,593.64 226.03,593.92 226.8,594.19 227.57,594.44 228.35,594.68 229.12,594.9 229.9,595.11 230.71,595.32 231.53,595.5 232.34,595.68 233.15,595.83 233.96,595.97 234.78,596.1 235.59,596.21 236.4,596.29 237.16,596.36 237.93,596.4 238.69,596.43 239.45,596.45 240.21,596.46 240.97,596.47 241.74,596.48 242.5,596.5" fill="none" stroke="#6cb043" stroke-width="1.15" stroke-linejoin="round"/>
<line x1="180" y1="579.14" x2="180" y2="586.08" stroke="#6cb043" stroke-width="0.7"/>
<line x1="178.8" y1="579.14" x2="181.2" y2="579.14" stroke="#6cb043" stroke-width="0.7"/>
<line x1="178.8" y1="586.08" x2="181.2" y2="586.08" stroke="#6cb043" stroke-width="0.7"/>
<circle cx="180" cy="582.61" r="1.05" fill="#6cb043"/>
<line x1="186.4" y1="580.35" x2="186.4" y2="585.91" stroke="#6cb043" stroke-width="0.7"/>
<line x1="185.2" y1="580.35" x2="187.6" y2="580.35" stroke="#6cb043" stroke-width="0.7"/>
<line x1="185.2" y1="585.91" x2="187.6" y2="585.91" stroke="#6cb043" stroke-width="0.7"/>
<circle cx="186.4" cy="583.13" r="1.05" fill="#6cb043"/>
<line x1="192.8" y1="580.87" x2="192.8" y2="586.43" stroke="#6cb043" stroke-width="0.7"/>
<line x1="191.6" y1="580.87" x2="194" y2="580.87" stroke="#6cb043" stroke-width="0.7"/>
<line x1="191.6" y1="586.43" x2="194" y2="586.43" stroke="#6cb043" stroke-width="0.7"/>
<circle cx="192.8" cy="583.65" r="1.05" fill="#6cb043"/>
<line x1="198.8" y1="582.26" x2="198.8" y2="587.12" stroke="#6cb043" stroke-width="0.7"/>
<line x1="197.6" y1="582.26" x2="200" y2="582.26" stroke="#6cb043" stroke-width="0.7"/>
<line x1="197.6" y1="587.12" x2="200" y2="587.12" stroke="#6cb043" stroke-width="0.7"/>
<circle cx="198.8" cy="584.69" r="1.05" fill="#6cb043"/>
<line x1="205" y1="583.48" x2="205" y2="588.34" stroke="#6cb043" stroke-width="0.7"/>
<line x1="203.8" y1="583.48" x2="206.2" y2="583.48" stroke="#6cb043" stroke-width="0.7"/>
<line x1="203.8" y1="588.34" x2="206.2" y2="588.34" stroke="#6cb043" stroke-width="0.7"/>
<circle cx="205" cy="585.91" r="1.05" fill="#6cb043"/>
<line x1="211.4" y1="584.69" x2="211.4" y2="590.25" stroke="#6cb043" stroke-width="0.7"/>
<line x1="210.2" y1="584.69" x2="212.6" y2="584.69" stroke="#6cb043" stroke-width="0.7"/>
<line x1="210.2" y1="590.25" x2="212.6" y2="590.25" stroke="#6cb043" stroke-width="0.7"/>
<circle cx="211.4" cy="587.47" r="1.05" fill="#6cb043"/>
<line x1="217.2" y1="587.12" x2="217.2" y2="592.68" stroke="#6cb043" stroke-width="0.7"/>
<line x1="216" y1="587.12" x2="218.4" y2="587.12" stroke="#6cb043" stroke-width="0.7"/>
<line x1="216" y1="592.68" x2="218.4" y2="592.68" stroke="#6cb043" stroke-width="0.7"/>
<circle cx="217.2" cy="589.9" r="1.05" fill="#6cb043"/>
<line x1="223.7" y1="590.6" x2="223.7" y2="595.46" stroke="#6cb043" stroke-width="0.7"/>
<line x1="222.5" y1="590.6" x2="224.9" y2="590.6" stroke="#6cb043" stroke-width="0.7"/>
<line x1="222.5" y1="595.46" x2="224.9" y2="595.46" stroke="#6cb043" stroke-width="0.7"/>
<circle cx="223.7" cy="593.03" r="1.05" fill="#6cb043"/>
<line x1="229.9" y1="592.68" x2="229.9" y2="597.54" stroke="#6cb043" stroke-width="0.7"/>
<line x1="228.7" y1="592.68" x2="231.1" y2="592.68" stroke="#6cb043" stroke-width="0.7"/>
<line x1="228.7" y1="597.54" x2="231.1" y2="597.54" stroke="#6cb043" stroke-width="0.7"/>
<circle cx="229.9" cy="595.11" r="1.05" fill="#6cb043"/>
<line x1="236.4" y1="594.21" x2="236.4" y2="598.38" stroke="#6cb043" stroke-width="0.7"/>
<line x1="235.2" y1="594.21" x2="237.6" y2="594.21" stroke="#6cb043" stroke-width="0.7"/>
<line x1="235.2" y1="598.38" x2="237.6" y2="598.38" stroke="#6cb043" stroke-width="0.7"/>
<circle cx="236.4" cy="596.29" r="1.05" fill="#6cb043"/>
<line x1="242.5" y1="594.42" x2="242.5" y2="598.59" stroke="#6cb043" stroke-width="0.7"/>
<line x1="241.3" y1="594.42" x2="243.7" y2="594.42" stroke="#6cb043" stroke-width="0.7"/>
<line x1="241.3" y1="598.59" x2="243.7" y2="598.59" stroke="#6cb043" stroke-width="0.7"/>
<circle cx="242.5" cy="596.5" r="1.05" fill="#6cb043"/>
<circle cx="255.7" cy="574" r="1.25" fill="#a3283d"/>
<text x="259.5" y="575.75" font-size="4.95" text-anchor="start" fill="#231f20" stroke="#231f20" stroke-width="0.1">NRASWT Trametinib</text>
<circle cx="255.7" cy="580.5" r="1.25" fill="#bdb98c"/>
<text x="259.5" y="582.25" font-size="4.95" text-anchor="start" fill="#231f20" stroke="#231f20" stroke-width="0.1">NRASWT Ruxolitinib</text>
<circle cx="255.7" cy="587" r="1.25" fill="#e28b22"/>
<text x="259.5" y="588.75" font-size="4.95" text-anchor="start" fill="#231f20" stroke="#231f20" stroke-width="0.1">NRASWT Combination</text>
<circle cx="255.7" cy="593.5" r="1.25" fill="#2c4b8d"/>
<text x="259.5" y="595.25" font-size="4.95" text-anchor="start" fill="#231f20" stroke="#231f20" stroke-width="0.1">NRAS61K Trametinib</text>
<circle cx="255.7" cy="600" r="1.25" fill="#6cb043"/>
<text x="259.5" y="601.75" font-size="4.95" text-anchor="start" fill="#231f20" stroke="#231f20" stroke-width="0.1">NRAS61K Ruxolitinib</text>
<circle cx="255.7" cy="606.5" r="1.25" fill="#2b6350"/>
<text x="259.5" y="608.25" font-size="4.95" text-anchor="start" fill="#231f20" stroke="#231f20" stroke-width="0.1">NRAS61K Combination</text>
<line x1="377" y1="548.8" x2="377" y2="564.3" stroke="#231f20" stroke-width="1"/>
<line x1="375.8" y1="564.3" x2="378.6" y2="564.3" stroke="#231f20" stroke-width="0.8"/>
<line x1="377" y1="567.9" x2="377" y2="619.9" stroke="#231f20" stroke-width="1"/>
<line x1="375.8" y1="567.9" x2="378.6" y2="567.9" stroke="#231f20" stroke-width="0.8"/>
<line x1="374.5" y1="551.2" x2="377" y2="551.2" stroke="#231f20" stroke-width="0.8"/>
<text font-size="5.4" text-anchor="end" fill="#231f20" transform="translate(370.8 553.1) scale(0.92 1)" stroke="#231f20" stroke-width="0.11">12000</text>
<line x1="374.5" y1="559.8" x2="377" y2="559.8" stroke="#231f20" stroke-width="0.8"/>
<text font-size="5.4" text-anchor="end" fill="#231f20" transform="translate(370.8 561.7) scale(0.92 1)" stroke="#231f20" stroke-width="0.11">6000</text>
<line x1="374.5" y1="619.5" x2="377" y2="619.5" stroke="#231f20" stroke-width="0.8"/>
<text font-size="5.4" text-anchor="end" fill="#231f20" transform="translate(370.8 621.4) scale(0.92 1)" stroke="#231f20" stroke-width="0.11">0</text>
<line x1="374.5" y1="607.4" x2="377" y2="607.4" stroke="#231f20" stroke-width="0.8"/>
<text font-size="5.4" text-anchor="end" fill="#231f20" transform="translate(370.8 609.3) scale(0.92 1)" stroke="#231f20" stroke-width="0.11">500</text>
<line x1="374.5" y1="595.4" x2="377" y2="595.4" stroke="#231f20" stroke-width="0.8"/>
<text font-size="5.4" text-anchor="end" fill="#231f20" transform="translate(370.8 597.3) scale(0.92 1)" stroke="#231f20" stroke-width="0.11">1000</text>
<line x1="374.5" y1="583.4" x2="377" y2="583.4" stroke="#231f20" stroke-width="0.8"/>
<text font-size="5.4" text-anchor="end" fill="#231f20" transform="translate(370.8 585.3) scale(0.92 1)" stroke="#231f20" stroke-width="0.11">1500</text>
<line x1="374.5" y1="569.3" x2="377" y2="569.3" stroke="#231f20" stroke-width="0.8"/>
<text font-size="5.4" text-anchor="end" fill="#231f20" transform="translate(370.8 571.2) scale(0.92 1)" stroke="#231f20" stroke-width="0.11">2000</text>
<text font-size="7.6" text-anchor="middle" fill="#231f20" transform="translate(347.4 584.6) rotate(-90)" stroke="#231f20" stroke-width="0.1">IC-50(nM)</text>
<line x1="377" y1="619.7" x2="505.8" y2="619.7" stroke="#231f20" stroke-width="1"/>
<rect x="382.7" y="552.7" width="6.2" height="3.1" fill="#a3283d"/>
<text x="391.8" y="555.9" font-size="5.1" text-anchor="start" fill="#231f20" stroke="#231f20" stroke-width="0.1">Trametinib</text>
<rect x="382.7" y="559.65" width="6.2" height="3.1" fill="#3c5788"/>
<text x="391.8" y="562.85" font-size="5.1" text-anchor="start" fill="#231f20" stroke="#231f20" stroke-width="0.1">Ruxolitinib</text>
<rect x="382.7" y="566.6" width="6.2" height="3.1" fill="#6bb04a"/>
<text x="391.8" y="569.8" font-size="5.1" text-anchor="start" fill="#231f20" stroke="#231f20" stroke-width="0.1">Tra+Rux</text>
<line x1="381.3" y1="619.5" x2="381.3" y2="621.7" stroke="#231f20" stroke-width="0.7"/>
<rect x="378.6" y="607.21" width="5.4" height="12.29" fill="#ffffff" stroke="#b2455a" stroke-width="0.85"/>
<line x1="381.3" y1="607.21" x2="381.3" y2="602.51" stroke="#b2455a" stroke-width="0.7"/>
<line x1="380" y1="602.51" x2="382.6" y2="602.51" stroke="#b2455a" stroke-width="0.7"/>
<circle cx="380.7" cy="598.86" r="0.75" fill="#b2455a"/>
<circle cx="381.9" cy="609.42" r="0.75" fill="#b2455a"/>
<circle cx="380.7" cy="611.82" r="0.75" fill="#b2455a"/>
<circle cx="381.9" cy="616.38" r="0.75" fill="#b2455a"/>
<line x1="389.8" y1="619.5" x2="389.8" y2="621.7" stroke="#231f20" stroke-width="0.7"/>
<rect x="387.1" y="610.09" width="5.4" height="9.41" fill="#ffffff" stroke="#4f6a9c" stroke-width="0.85"/>
<line x1="389.8" y1="610.09" x2="389.8" y2="605.39" stroke="#4f6a9c" stroke-width="0.7"/>
<line x1="388.5" y1="605.39" x2="391.1" y2="605.39" stroke="#4f6a9c" stroke-width="0.7"/>
<circle cx="389.2" cy="602.22" r="0.75" fill="#4f6a9c"/>
<circle cx="390.4" cy="611.1" r="0.75" fill="#4f6a9c"/>
<circle cx="389.2" cy="613.02" r="0.75" fill="#4f6a9c"/>
<line x1="398.1" y1="619.5" x2="398.1" y2="621.7" stroke="#231f20" stroke-width="0.7"/>
<rect x="395.4" y="617.1" width="5.4" height="2.4" fill="#ffffff" stroke="#72b453" stroke-width="0.85"/>
<line x1="398.1" y1="617.1" x2="398.1" y2="615.42" stroke="#72b453" stroke-width="0.7"/>
<line x1="396.8" y1="615.42" x2="399.4" y2="615.42" stroke="#72b453" stroke-width="0.7"/>
<circle cx="397.5" cy="611.82" r="0.75" fill="#72b453"/>
<circle cx="398.7" cy="615.9" r="0.75" fill="#72b453"/>
<circle cx="397.5" cy="617.34" r="0.75" fill="#72b453"/>
<circle cx="398.7" cy="618.78" r="0.75" fill="#72b453"/>
<circle cx="397.5" cy="619.26" r="0.75" fill="#72b453"/>
<line x1="415" y1="619.5" x2="415" y2="621.7" stroke="#231f20" stroke-width="0.7"/>
<rect x="412.3" y="608.7" width="5.4" height="10.8" fill="#ffffff" stroke="#b2455a" stroke-width="0.85"/>
<line x1="415" y1="608.7" x2="415" y2="604.4" stroke="#b2455a" stroke-width="0.7"/>
<line x1="413.7" y1="604.4" x2="416.3" y2="604.4" stroke="#b2455a" stroke-width="0.7"/>
<circle cx="414.4" cy="596.46" r="0.75" fill="#b2455a"/>
<circle cx="415.6" cy="608.7" r="0.75" fill="#b2455a"/>
<circle cx="414.4" cy="611.82" r="0.75" fill="#b2455a"/>
<circle cx="415.6" cy="616.38" r="0.75" fill="#b2455a"/>
<line x1="423.6" y1="619.5" x2="423.6" y2="621.7" stroke="#231f20" stroke-width="0.7"/>
<rect x="420.9" y="597.49" width="5.4" height="22.01" fill="#ffffff" stroke="#4f6a9c" stroke-width="0.85"/>
<line x1="423.6" y1="597.49" x2="423.6" y2="589.6" stroke="#4f6a9c" stroke-width="0.7"/>
<line x1="422.3" y1="589.6" x2="424.9" y2="589.6" stroke="#4f6a9c" stroke-width="0.7"/>
<circle cx="423" cy="578.7" r="0.75" fill="#4f6a9c"/>
<circle cx="424.2" cy="589.02" r="0.75" fill="#4f6a9c"/>
<circle cx="423" cy="603.66" r="0.75" fill="#4f6a9c"/>
<circle cx="424.2" cy="611.34" r="0.75" fill="#4f6a9c"/>
<line x1="432.2" y1="619.5" x2="432.2" y2="621.7" stroke="#231f20" stroke-width="0.7"/>
<rect x="429.5" y="617.22" width="5.4" height="2.28" fill="#ffffff" stroke="#72b453" stroke-width="0.85"/>
<line x1="432.2" y1="617.22" x2="432.2" y2="615.42" stroke="#72b453" stroke-width="0.7"/>
<line x1="430.9" y1="615.42" x2="433.5" y2="615.42" stroke="#72b453" stroke-width="0.7"/>
<circle cx="431.6" cy="615.18" r="0.75" fill="#72b453"/>
<circle cx="432.8" cy="616.86" r="0.75" fill="#72b453"/>
<circle cx="431.6" cy="618.06" r="0.75" fill="#72b453"/>
<circle cx="432.8" cy="619.02" r="0.75" fill="#72b453"/>
<line x1="449" y1="619.5" x2="449" y2="621.7" stroke="#231f20" stroke-width="0.7"/>
<rect x="446.3" y="591.61" width="5.4" height="27.89" fill="#ffffff" stroke="#b2455a" stroke-width="0.85"/>
<line x1="449" y1="591.61" x2="449" y2="580.4" stroke="#b2455a" stroke-width="0.7"/>
<line x1="447.7" y1="580.4" x2="450.3" y2="580.4" stroke="#b2455a" stroke-width="0.7"/>
<circle cx="448.4" cy="570.06" r="0.75" fill="#b2455a"/>
<circle cx="449.6" cy="595.5" r="0.75" fill="#b2455a"/>
<circle cx="448.4" cy="597.9" r="0.75" fill="#b2455a"/>
<line x1="457.8" y1="619.5" x2="457.8" y2="621.7" stroke="#231f20" stroke-width="0.7"/>
<rect x="455.1" y="612.01" width="5.4" height="7.49" fill="#ffffff" stroke="#4f6a9c" stroke-width="0.85"/>
<line x1="457.8" y1="612.01" x2="457.8" y2="608.8" stroke="#4f6a9c" stroke-width="0.7"/>
<line x1="456.5" y1="608.8" x2="459.1" y2="608.8" stroke="#4f6a9c" stroke-width="0.7"/>
<circle cx="457.2" cy="610.14" r="0.75" fill="#4f6a9c"/>
<circle cx="458.4" cy="611.82" r="0.75" fill="#4f6a9c"/>
<circle cx="457.2" cy="613.5" r="0.75" fill="#4f6a9c"/>
<line x1="466.5" y1="619.5" x2="466.5" y2="621.7" stroke="#231f20" stroke-width="0.7"/>
<rect x="463.8" y="617.46" width="5.4" height="2.04" fill="#ffffff" stroke="#72b453" stroke-width="0.85"/>
<line x1="466.5" y1="617.46" x2="466.5" y2="616.14" stroke="#72b453" stroke-width="0.7"/>
<line x1="465.2" y1="616.14" x2="467.8" y2="616.14" stroke="#72b453" stroke-width="0.7"/>
<circle cx="465.9" cy="616.38" r="0.75" fill="#72b453"/>
<circle cx="467.1" cy="617.22" r="0.75" fill="#72b453"/>
<circle cx="465.9" cy="618.06" r="0.75" fill="#72b453"/>
<line x1="483.9" y1="619.5" x2="483.9" y2="621.7" stroke="#231f20" stroke-width="0.7"/>
<rect x="481.2" y="619.31" width="5.4" height="0.19" fill="#ffffff" stroke="#b2455a" stroke-width="0.85"/>
<line x1="483.9" y1="619.31" x2="483.9" y2="619.26" stroke="#b2455a" stroke-width="0.7"/>
<line x1="482.6" y1="619.26" x2="485.2" y2="619.26" stroke="#b2455a" stroke-width="0.7"/>
<line x1="491.6" y1="619.5" x2="491.6" y2="621.7" stroke="#231f20" stroke-width="0.7"/>
<rect x="488.9" y="561.6" width="5.4" height="57.9" fill="#ffffff" stroke="#4f6a9c" stroke-width="0.85"/>
<line x1="491.6" y1="561.6" x2="491.6" y2="555.6" stroke="#4f6a9c" stroke-width="0.8"/>
<line x1="490.2" y1="555.6" x2="493" y2="555.6" stroke="#4f6a9c" stroke-width="0.8"/>
<circle cx="490.6" cy="553.6" r="0.8" fill="#4f6a9c"/>
<circle cx="492.6" cy="553.6" r="0.8" fill="#4f6a9c"/>
<circle cx="491.6" cy="589.5" r="0.75" fill="#4f6a9c"/>
<circle cx="491.6" cy="615.9" r="0.75" fill="#4f6a9c"/>
<line x1="500.6" y1="619.5" x2="500.6" y2="621.7" stroke="#231f20" stroke-width="0.7"/>
<rect x="497.9" y="619.31" width="5.4" height="0.19" fill="#ffffff" stroke="#72b453" stroke-width="0.85"/>
<line x1="500.6" y1="619.31" x2="500.6" y2="619.26" stroke="#72b453" stroke-width="0.7"/>
<line x1="499.3" y1="619.26" x2="501.9" y2="619.26" stroke="#72b453" stroke-width="0.7"/>
<line x1="381.3" y1="592.9" x2="397.7" y2="592.9" stroke="#111111" stroke-width="0.9"/>
<text x="389.5" y="592" font-size="5" text-anchor="middle" fill="#231f20" stroke="#231f20" stroke-width="0.1">*</text>
<line x1="423.7" y1="575.2" x2="432.3" y2="575.2" stroke="#111111" stroke-width="0.9"/>
<text x="428" y="574.3" font-size="5" text-anchor="middle" fill="#231f20" stroke="#231f20" stroke-width="0.1">*</text>
<line x1="449.2" y1="566" x2="466.2" y2="566" stroke="#111111" stroke-width="0.9"/>
<text x="457.7" y="565.1" font-size="5" text-anchor="middle" fill="#231f20" stroke="#231f20" stroke-width="0.1">*</text>
<text font-size="5.4" text-anchor="middle" fill="#231f20" transform="translate(381.3 630.3) scale(0.85 1)" stroke="#231f20" stroke-width="0.12">NRAS</text>
<text font-size="5.4" text-anchor="middle" fill="#231f20" transform="translate(398.1 630.3) scale(0.85 1)" stroke="#231f20" stroke-width="0.12">WT</text>
<text font-size="5.4" text-anchor="middle" fill="#231f20" transform="translate(415 630.3) scale(0.85 1)" stroke="#231f20" stroke-width="0.12">NRAS</text>
<text font-size="5.4" text-anchor="middle" fill="#231f20" transform="translate(432.2 630.3) scale(0.85 1)" stroke="#231f20" stroke-width="0.12">Q61K</text>
<text font-size="5.4" text-anchor="middle" fill="#231f20" transform="translate(449 630.3) scale(0.85 1)" stroke="#231f20" stroke-width="0.12">NRAS</text>
<text font-size="5.4" text-anchor="middle" fill="#231f20" transform="translate(466.5 630.3) scale(0.85 1)" stroke="#231f20" stroke-width="0.12">WT</text>
<text font-size="5.4" text-anchor="middle" fill="#231f20" transform="translate(483.8 630.3) scale(0.85 1)" stroke="#231f20" stroke-width="0.12">NRAS</text>
<text font-size="5.4" text-anchor="middle" fill="#231f20" transform="translate(500.6 630.3) scale(0.85 1)" stroke="#231f20" stroke-width="0.12">Q61K</text>
<text font-size="5.4" text-anchor="middle" fill="#231f20" transform="translate(389.6 639.3) scale(0.85 1)" stroke="#231f20" stroke-width="0.12">T618I</text>
<text font-size="5.4" text-anchor="middle" fill="#231f20" transform="translate(423.7 639.3) scale(0.85 1)" stroke="#231f20" stroke-width="0.12">T618I</text></svg>
</body></html>
